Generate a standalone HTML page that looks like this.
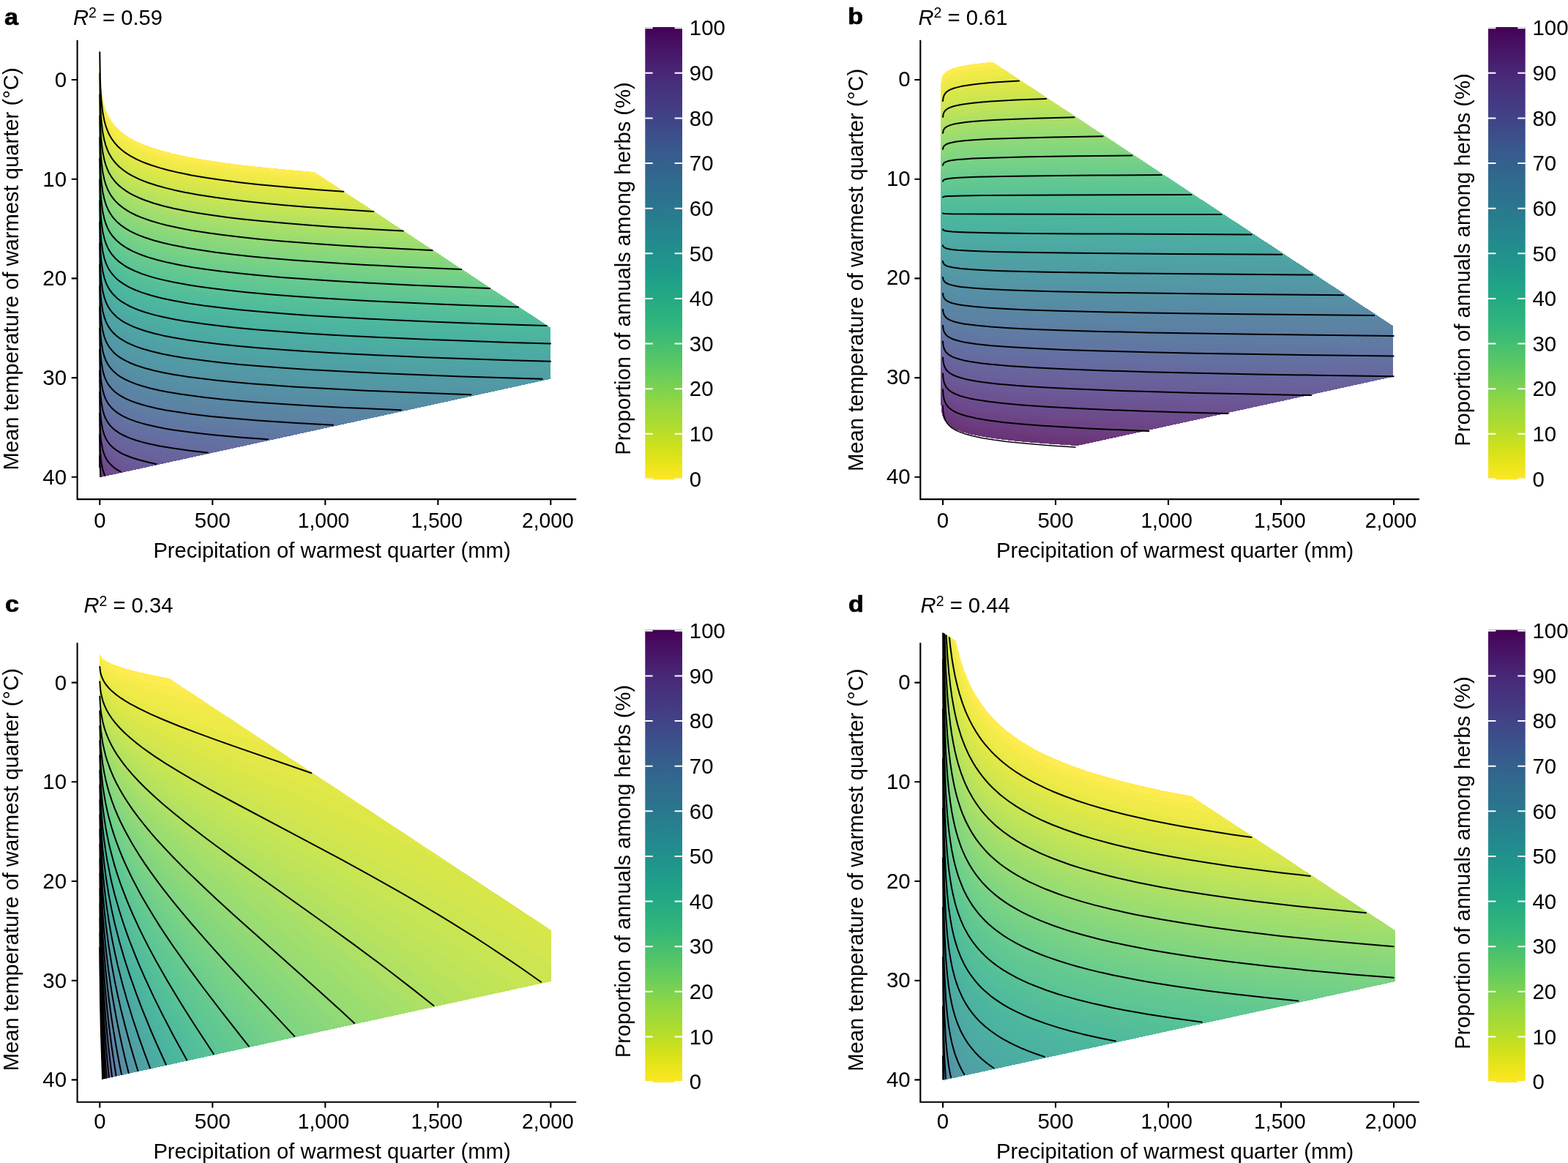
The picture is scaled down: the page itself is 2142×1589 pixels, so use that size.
<!DOCTYPE html>
<html lang="en">
<head>
<meta charset="utf-8">
<title>Proportion of annuals among herbs</title>
<style>
html,body{margin:0;padding:0;background:#fff}
body{width:2142px;height:1589px;overflow:hidden}
svg{display:block}
text{font-family:"Liberation Sans", Arial, Helvetica, sans-serif;fill:#000}
</style>
</head>
<body>
<svg xmlns="http://www.w3.org/2000/svg" width="2142" height="1589" viewBox="0 0 2142 1589">
<defs><linearGradient id="vg" x1="0" y1="0" x2="0" y2="1"><stop offset="0" stop-color="#440154"/><stop offset="0.03" stop-color="#470d60"/><stop offset="0.06" stop-color="#48186a"/><stop offset="0.09" stop-color="#482374"/><stop offset="0.12" stop-color="#472d7b"/><stop offset="0.16" stop-color="#453781"/><stop offset="0.19" stop-color="#424086"/><stop offset="0.22" stop-color="#3e4989"/><stop offset="0.25" stop-color="#3b528b"/><stop offset="0.28" stop-color="#375b8d"/><stop offset="0.31" stop-color="#33638d"/><stop offset="0.34" stop-color="#2f6b8e"/><stop offset="0.38" stop-color="#2c728e"/><stop offset="0.41" stop-color="#297a8e"/><stop offset="0.44" stop-color="#26828e"/><stop offset="0.47" stop-color="#23898e"/><stop offset="0.5" stop-color="#21918c"/><stop offset="0.53" stop-color="#1f988b"/><stop offset="0.56" stop-color="#1fa088"/><stop offset="0.59" stop-color="#22a785"/><stop offset="0.62" stop-color="#28ae80"/><stop offset="0.66" stop-color="#32b67a"/><stop offset="0.69" stop-color="#3fbc73"/><stop offset="0.72" stop-color="#4ec36b"/><stop offset="0.75" stop-color="#5ec962"/><stop offset="0.78" stop-color="#70cf57"/><stop offset="0.81" stop-color="#84d44b"/><stop offset="0.84" stop-color="#98d83e"/><stop offset="0.88" stop-color="#addc30"/><stop offset="0.91" stop-color="#c2df23"/><stop offset="0.94" stop-color="#d8e219"/><stop offset="0.97" stop-color="#ece51b"/><stop offset="1" stop-color="#fde725"/></linearGradient></defs>
<rect width="2142" height="1589" fill="#fff"/>
<g id="panel-a">
<g transform="translate(0,0.55)" shape-rendering="crispEdges">
<path d="M752.3 447.3L429.3 234.4L383.5 230.4L350.7 227.1L334.2 225.3L309.6 222.2L293.2 219.8L276.7 217.2L260.3 214.3L243.9 210.9L235.7 209L221.3 205.2L209 201.5L200.8 198.6L192.6 195.3L184.3 191.5L176.1 186.9L170 182.8L163.8 177.9L159.7 174L155.6 169.3L151.5 163.6L149.4 160.1L147.4 156.1L145.3 151.3L143.3 145.5L141.2 137.9L139.2 127.2L137.1 109.1L136.1 91.7L135.3 64.2L135.1 64.2L135.1 622.8L135.4 636.4L136.3 651.8L752.3 517.2Z" fill="#feec50"/>
<path d="M437.8 239.9L383.5 235.4L342.5 231.2L317.8 228.2L301.4 226L285 223.5L268.5 220.8L252.1 217.7L235.7 214L225.4 211.4L213.1 207.9L200.8 203.7L192.6 200.4L184.3 196.6L176.1 192.1L170 188L163.8 183.1L159.7 179.2L155.6 174.5L151.5 168.8L149.4 165.4L147.4 161.4L145.3 156.6L143.3 150.8L141.2 143.3L139.2 132.6L137.1 114.6L136.1 97.3L135.2 64.2L135.1 64.2L135.1 622.8L135.4 636.4L136.3 651.8L752.3 517.2L752.3 447.3Z" fill="#f8eb4c"/>
<path d="M446.2 245.5L416.4 243.2L383.5 240.3L342.5 236.1L317.8 233.2L301.4 231L285 228.5L268.5 225.8L252.1 222.7L235.7 219.1L225.4 216.5L213.1 212.9L200.8 208.8L192.6 205.5L184.3 201.7L176.1 197.2L170 193.2L163.8 188.3L159.7 184.4L155.6 179.8L151.5 174.1L149.4 170.6L147.4 166.7L145.3 161.9L143.3 156.1L141.2 148.6L139.2 138L137.1 120.1L136.1 102.9L135.1 64.2L135.1 622.8L135.4 636.4L136.3 651.8L752.3 517.2L752.3 447.3Z" fill="#f2ea49"/>
<path d="M454.6 251L399.9 246.7L350.7 242L326 239.2L309.6 237.1L285 233.5L268.5 230.8L252.1 227.7L235.7 224.1L225.4 221.5L213.1 218L200.8 213.9L192.6 210.6L184.3 206.8L176.1 202.4L170 198.3L163.8 193.5L159.7 189.6L155.6 185L151.5 179.3L149.4 175.9L147.4 171.9L145.3 167.3L143.3 161.5L141.2 154L139.2 143.5L137.1 125.6L136.1 108.5L135.7 97.3L135.1 64.2L135.1 622.8L135.4 636.4L136.3 651.8L752.3 517.2L752.3 447.3Z" fill="#eeea48"/>
<path d="M463 256.5L432.8 254.3L399.9 251.7L350.7 247L326 244.2L309.6 242.1L285 238.5L268.5 235.8L252.1 232.7L235.7 229.2L225.4 226.6L213.1 223.1L200.8 219L192.6 215.7L184.3 212L176.1 207.5L170 203.5L163.8 198.7L159.7 194.8L155.6 190.2L151.5 184.6L149.4 181.2L147.4 177.2L145.3 172.6L143.3 166.8L141.2 159.4L139.2 148.9L137.1 131.1L136.1 114L135.7 102.9L135.1 65.4L135.1 622.8L135.4 636.4L136.3 651.8L752.3 517.2L752.3 447.3Z" fill="#e8e946"/>
<path d="M471.3 262L416.4 258L367.1 253.6L342.5 251L317.8 248.1L293.2 244.8L276.7 242.2L260.3 239.4L243.9 236.1L227.5 232.2L217.2 229.4L204.9 225.5L192.6 220.8L184.3 217.1L176.1 212.6L170 208.7L163.8 203.8L159.7 200L155.6 195.4L151.5 189.8L149.4 186.4L147.4 182.5L145.3 177.9L143.3 172.1L141.2 164.7L139.2 154.3L137.1 136.6L136.1 119.6L135.7 108.6L135.1 71.2L135.1 622.8L135.4 636.4L136.3 651.8L752.3 517.2L752.3 447.3Z" fill="#e2e847"/>
<path d="M479.6 267.5L449.2 265.4L416.4 262.9L367.1 258.6L326 254.1L301.4 251L285 248.6L268.5 245.9L252.1 242.8L235.7 239.3L221.3 235.6L209 232L196.7 227.6L188.5 224.2L180.2 220.1L172 215.2L167.9 212.3L161.8 207.2L157.7 203.1L153.5 198L149.4 191.7L147.4 187.8L145.3 183.2L143.3 177.5L141.2 170.1L139.2 159.7L137.1 142.1L136.1 125.2L135.7 114.2L135.1 77L135.1 622.8L135.4 636.4L136.3 651.8L752.3 517.2L752.3 447.3Z" fill="#dde848"/>
<path d="M487.8 272.9L449.2 270.3L416.4 267.9L367.1 263.5L326 259.1L301.4 255.9L285 253.6L268.5 250.9L252.1 247.8L235.7 244.3L221.3 240.7L209 237L196.7 232.7L188.5 229.3L180.2 225.2L172 220.4L167.9 217.5L161.8 212.4L157.7 208.3L153.5 203.3L149.4 197L147.4 193.1L145.3 188.5L143.3 182.8L141.2 175.5L139.2 165.1L137.1 147.6L136.1 130.8L135.7 119.8L135.1 82.8L135.1 622.8L135.4 636.4L136.3 651.8L752.3 517.2L752.3 447.3Z" fill="#d7e74a"/>
<path d="M496 278.3L432.8 274.1L399.9 271.4L367.1 268.5L326 264.1L301.4 260.9L285 258.6L268.5 255.9L252.1 252.9L235.7 249.3L221.3 245.7L209 242.1L196.7 237.8L188.5 234.4L180.2 230.4L172 225.5L167.9 222.7L161.8 217.6L157.7 213.5L153.5 208.5L149.4 202.2L147.4 198.4L145.3 193.8L143.3 188.2L141.2 180.9L139.2 170.6L137.1 153.1L136.1 136.4L135.7 125.5L135.1 88.6L135.1 622.8L135.4 636.4L136.3 651.8L752.3 517.2L752.3 447.3Z" fill="#d3e64d"/>
<path d="M504.2 283.7L465.7 281.3L432.8 279L383.5 275L350.7 271.8L326 269.1L301.4 265.9L285 263.6L268.5 260.9L252.1 257.9L235.7 254.4L221.3 250.8L209 247.2L196.7 242.9L188.5 239.5L180.2 235.5L172 230.7L167.9 227.8L161.8 222.8L157.7 218.7L153.5 213.8L149.4 207.5L147.4 203.7L145.3 199.1L143.3 193.5L141.2 186.2L139.2 176L137.1 158.7L136.1 141.9L135.7 131.1L135.1 94.4L135.1 622.8L135.4 636.4L136.3 651.8L752.3 517.2L752.3 447.3Z" fill="#cce550"/>
<path d="M512.4 289.1L449.2 285.1L416.4 282.7L383.5 279.9L350.7 276.7L334.2 275L309.6 272L293.2 269.8L276.7 267.3L260.3 264.5L243.9 261.2L227.5 257.5L217.2 254.7L204.9 250.9L192.6 246.4L184.3 242.7L176.1 238.4L170 234.5L163.8 229.8L159.7 226L157.7 223.9L153.5 219L149.4 212.8L147.4 209L145.3 204.4L143.3 198.8L141.2 191.6L139.2 181.4L137.1 164.2L136.1 147.5L135.7 136.7L135.1 100.3L135.1 622.8L135.4 636.4L136.3 651.8L752.3 517.2L752.3 447.3Z" fill="#c8e553"/>
<path d="M520.5 294.5L482.1 292.2L449.2 290L399.9 286.3L350.7 281.7L326 279L301.4 275.9L276.7 272.3L260.3 269.5L243.9 266.3L227.5 262.5L217.2 259.8L204.9 256L192.6 251.5L184.3 247.8L176.1 243.5L170 239.6L163.8 235L159.7 231.2L157.7 229.1L153.5 224.2L149.4 218.1L147.4 214.2L145.3 209.7L143.3 204.2L141.2 197L139.2 186.8L137.1 169.7L136.1 153.1L135.7 142.3L135.1 106.1L135.1 622.8L135.4 636.4L136.3 651.8L752.3 517.2L752.3 447.3Z" fill="#c2e457"/>
<path d="M528.6 299.8L465.7 296.1L432.8 293.8L399.9 291.2L350.7 286.7L326 284L301.4 280.9L276.7 277.3L260.3 274.5L243.9 271.3L227.5 267.6L217.2 264.9L204.9 261.1L192.6 256.6L184.3 253L176.1 248.7L170 244.8L163.8 240.2L159.7 236.4L157.7 234.3L153.5 229.5L149.4 223.3L147.4 219.5L145.3 215L143.3 209.5L141.2 202.3L139.2 192.2L137.1 175.2L136.1 158.7L135.7 148L135.1 111.9L135.1 622.8L135.4 636.4L136.3 651.8L752.3 517.2L752.3 447.3Z" fill="#bde35a"/>
<path d="M536.7 305.2L465.7 301L432.8 298.7L399.9 296.2L350.7 291.6L326 289L301.4 285.9L276.7 282.3L260.3 279.5L243.9 276.4L227.5 272.6L217.2 269.9L204.9 266.2L192.6 261.7L184.3 258.1L176.1 253.8L170 250L163.8 245.3L157.7 239.6L153.5 234.7L149.4 228.6L147.4 224.8L145.3 220.3L143.3 214.8L141.2 207.7L139.2 197.6L137.1 180.7L136.1 164.3L135.7 153.6L135.1 117.7L135.1 622.8L135.4 636.4L136.3 651.8L752.3 517.2L752.3 447.3Z" fill="#b7e25e"/>
<path d="M544.8 310.5L498.5 307.9L465.7 305.9L432.8 303.6L399.9 301.1L350.7 296.6L326 293.9L301.4 290.9L276.7 287.3L260.3 284.6L243.9 281.4L227.5 277.7L217.2 275L204.9 271.3L192.6 266.8L184.3 263.2L176.1 259L170 255.1L163.8 250.5L157.7 244.8L153.5 239.9L149.4 233.9L147.4 230.1L145.3 225.6L143.3 220.2L141.2 213.1L139.2 203.1L137.1 186.2L136.1 169.8L135.7 159.2L135.1 123.5L135.1 622.8L135.4 636.4L136.3 651.8L752.3 517.2L752.3 447.3Z" fill="#b1e162"/>
<path d="M552.8 315.8L482.1 311.8L449.2 309.7L416.4 307.3L383.5 304.6L350.7 301.6L326 298.9L309.6 296.9L285 293.6L268.5 291L252.1 288.1L235.7 284.7L221.3 281.2L209 277.7L196.7 273.5L188.5 270.2L180.2 266.3L172 261.6L165.9 257.3L161.8 254L157.7 250L155.6 247.7L151.5 242.4L149.4 239.1L147.4 235.4L145.3 231L143.3 225.5L141.2 218.4L139.2 208.5L137.1 191.7L136.1 175.4L135.7 164.9L135.1 129.3L135.1 622.8L135.4 636.4L136.3 651.8L752.3 517.2L752.3 447.3Z" fill="#ade065"/>
<path d="M560.9 321.1L482.1 316.8L449.2 314.6L416.4 312.3L383.5 309.6L350.7 306.5L326 303.9L309.6 301.9L285 298.6L268.5 296L252.1 293.1L235.7 289.7L221.3 286.2L209 282.8L196.7 278.6L188.5 275.3L180.2 271.5L172 266.8L165.9 262.5L161.8 259.2L157.7 255.2L155.6 252.9L151.5 247.6L149.4 244.4L147.4 240.7L145.3 236.3L143.3 230.8L141.2 223.8L139.2 213.9L137.1 197.2L136.1 181L135.7 170.5L135.1 135.1L135.1 622.8L135.4 636.4L136.3 651.8L752.3 517.2L752.3 447.3Z" fill="#a6df69"/>
<path d="M568.9 326.4L498.5 322.6L432.8 318.4L399.9 315.9L367.1 313.1L342.5 310.6L317.8 307.9L293.2 304.7L276.7 302.3L260.3 299.6L243.9 296.5L227.5 292.8L213.1 289L200.8 285.2L188.5 280.4L180.2 276.6L172 272L165.9 267.7L161.8 264.4L157.7 260.4L155.6 258.2L151.5 252.9L149.4 249.7L147.4 246L145.3 241.6L143.3 236.2L141.2 229.2L139.2 219.3L137.1 202.7L136.1 186.6L135.7 176.1L135.1 140.9L135.1 622.8L135.4 636.4L136.3 651.8L752.3 517.2L752.3 447.3Z" fill="#a2de6b"/>
<path d="M576.9 331.6L498.5 327.6L432.8 323.3L399.9 320.9L367.1 318L342.5 315.6L317.8 312.9L293.2 309.7L276.7 307.3L260.3 304.6L243.9 301.5L227.5 297.9L213.1 294.1L200.8 290.3L188.5 285.5L180.2 281.7L172 277.1L165.9 272.9L161.8 269.6L157.7 265.6L155.6 263.4L151.5 258.1L149.4 254.9L147.4 251.2L145.3 246.9L143.3 241.5L141.2 234.5L139.2 224.7L137.1 208.2L136.1 192.2L135.7 181.8L135.1 146.7L135.1 622.8L135.4 636.4L136.3 651.8L752.3 517.2L752.3 447.3Z" fill="#9cdd6f"/>
<path d="M584.9 336.9L547.8 335.1L498.5 332.5L432.8 328.3L399.9 325.8L367.1 323L342.5 320.6L317.8 317.9L293.2 314.7L276.7 312.3L260.3 309.7L243.9 306.6L227.5 303L213.1 299.2L200.8 295.3L188.5 290.7L180.2 286.9L172 282.3L165.9 278.1L161.8 274.7L157.7 270.8L155.6 268.6L151.5 263.4L149.4 260.2L147.4 256.5L145.3 252.2L143.3 246.8L141.2 239.9L139.2 230.2L137.1 213.7L136.1 197.7L135.7 187.4L135.1 152.5L135.1 622.8L135.4 636.4L136.3 651.8L752.3 517.2L752.3 447.3Z" fill="#98dc72"/>
<path d="M592.8 342.1L514.9 338.3L465.7 335.4L432.8 333.2L383.5 329.4L350.7 326.4L326 323.8L301.4 320.8L285 318.6L260.3 314.7L243.9 311.6L227.5 308L217.2 305.4L204.9 301.8L192.6 297.4L184.3 294L176.1 289.8L172 287.4L167.9 284.7L161.8 279.9L157.7 276.1L155.6 273.8L151.5 268.6L149.4 265.5L147.4 261.8L145.3 257.5L143.3 252.2L141.2 245.3L139.2 235.6L137.1 219.2L136.1 203.3L135.7 193L135.1 158.3L135.1 622.8L135.4 636.4L136.3 651.8L752.3 517.2L752.3 447.3Z" fill="#92da75"/>
<path d="M600.8 347.4L514.9 343.2L449.2 339.2L416.4 336.9L383.5 334.3L350.7 331.3L326 328.8L301.4 325.8L285 323.6L260.3 319.7L243.9 316.6L227.5 313.1L217.2 310.5L204.9 306.9L192.6 302.6L184.3 299.1L176.1 295L172 292.6L167.9 289.9L161.8 285.1L157.7 281.3L155.6 279.1L151.5 273.9L149.4 270.7L147.4 267.1L145.3 262.8L143.3 257.5L141.2 250.7L139.2 241L137.1 224.7L136.1 208.9L135.7 198.7L135.1 164.1L135.1 622.8L135.4 636.4L136.3 651.8L752.3 517.2L752.3 447.3Z" fill="#8dd879"/>
<path d="M608.7 352.6L531.4 349L482.1 346.2L449.2 344.2L416.4 341.9L383.5 339.3L350.7 336.3L334.2 334.6L309.6 331.8L293.2 329.7L268.5 326.1L252.1 323.3L235.7 320L217.2 315.5L204.9 312L192.6 307.7L184.3 304.2L176.1 300.1L172 297.7L167.9 295.1L161.8 290.3L157.7 286.5L155.6 284.3L151.5 279.1L149.4 276L147.4 272.4L145.3 268.1L143.3 262.8L141.2 256L139.2 246.4L137.1 230.2L136.1 214.5L135.7 204.3L135.1 169.9L135.1 622.8L135.4 636.4L136.3 651.8L752.3 517.2L752.3 447.3Z" fill="#89d77b"/>
<path d="M616.6 357.8L531.4 353.9L482.1 351.1L449.2 349.1L416.4 346.8L383.5 344.2L350.7 341.3L334.2 339.6L309.6 336.8L293.2 334.7L268.5 331.1L252.1 328.3L235.7 325L217.2 320.6L204.9 317.1L192.6 312.8L184.3 309.3L176.1 305.3L172 302.9L167.9 300.2L161.8 295.5L157.7 291.7L155.6 289.5L151.5 284.4L149.4 281.3L147.4 277.7L145.3 273.4L143.3 268.2L141.2 261.4L139.2 251.8L137.1 235.7L136.1 220.1L135.7 209.9L135.1 175.7L135.1 622.8L135.4 636.4L136.3 651.8L752.3 517.2L752.3 447.3Z" fill="#84d67e"/>
<path d="M624.5 363L547.8 359.6L498.5 357L465.7 355.1L432.8 352.9L399.9 350.5L367.1 347.7L334.2 344.6L309.6 341.8L293.2 339.7L268.5 336.1L252.1 333.3L235.7 330.1L217.2 325.7L204.9 322.1L192.6 317.9L184.3 314.5L176.1 310.4L172 308.1L167.9 305.4L161.8 300.7L157.7 296.9L155.6 294.7L151.5 289.6L149.4 286.5L147.4 283L145.3 278.7L143.3 273.5L141.2 266.8L139.2 257.2L137.1 241.2L136.1 225.6L135.7 215.6L135.1 181.5L135.1 622.8L135.4 636.4L136.3 651.8L752.3 517.2L752.3 447.3Z" fill="#80d580"/>
<path d="M632.4 368.2L547.8 364.5L498.5 361.9L465.7 360L432.8 357.8L399.9 355.4L367.1 352.7L342.5 350.4L317.8 347.7L293.2 344.7L268.5 341.1L252.1 338.3L235.7 335.1L221.3 331.8L209 328.5L196.7 324.5L188.5 321.4L184.3 319.6L176.1 315.6L170 311.9L163.8 307.6L157.7 302.1L153.5 297.6L149.4 291.8L147.4 288.3L145.3 284L143.3 278.8L141.2 272.1L139.2 262.7L137.1 246.7L136.1 231.2L135.7 221.2L135.1 187.4L135.1 622.8L135.4 636.4L136.3 651.8L752.3 517.2L752.3 447.3Z" fill="#7bd383"/>
<path d="M640.2 373.4L547.8 369.4L498.5 366.8L465.7 364.9L432.8 362.8L399.9 360.4L367.1 357.7L342.5 355.3L317.8 352.7L293.2 349.7L268.5 346.1L252.1 343.4L235.7 340.2L221.3 336.9L209 333.5L196.7 329.6L184.3 324.7L176.1 320.7L170 317.1L163.8 312.8L157.7 307.4L153.5 302.8L149.4 297.1L147.4 293.5L145.3 289.3L143.3 284.2L141.2 277.5L139.2 268.1L137.1 252.2L136.1 236.8L135.7 226.8L135.1 193.2L135.1 622.8L135.4 636.4L136.3 651.8L752.3 517.2L752.3 447.3Z" fill="#78d285"/>
<path d="M648.1 378.6L597.1 376.5L547.8 374.3L498.5 371.7L465.7 369.8L432.8 367.7L399.9 365.3L367.1 362.6L342.5 360.3L317.8 357.7L293.2 354.7L268.5 351.2L252.1 348.4L235.7 345.2L221.3 341.9L209 338.6L196.7 334.7L184.3 329.8L176.1 325.9L170 322.3L163.8 318L157.7 312.6L153.5 308L149.4 302.3L147.4 298.8L145.3 294.7L143.3 289.5L141.2 282.9L139.2 273.5L137.1 257.7L136.1 242.4L135.7 232.5L135.1 199L135.1 622.8L135.4 636.4L136.3 651.8L752.3 517.2L752.3 447.3Z" fill="#73d088"/>
<path d="M655.9 383.8L564.2 379.9L482.1 375.7L416.4 371.5L383.5 369L350.7 366.1L326 363.6L301.4 360.7L276.7 357.4L260.3 354.8L243.9 351.9L225.4 348L209 343.7L196.7 339.8L184.3 335L176.1 331L170 327.4L163.8 323.2L157.7 317.8L153.5 313.3L149.4 307.6L147.4 304.1L145.3 300L143.3 294.9L141.2 288.2L139.2 278.9L137.1 263.2L136.1 248L135.7 238.1L135.1 204.8L135.1 622.8L135.4 636.4L136.3 651.8L752.3 517.2L752.3 447.3Z" fill="#6fce8a"/>
<path d="M663.8 388.9L564.2 384.8L482.1 380.6L416.4 376.4L383.5 373.9L350.7 371L326 368.6L301.4 365.7L276.7 362.4L260.3 359.9L243.9 356.9L225.4 353L209 348.8L196.7 344.9L184.3 340.1L176.1 336.1L170 332.6L163.8 328.3L157.7 323L153.5 318.5L149.4 312.9L147.4 309.4L145.3 305.3L143.3 300.2L141.2 293.6L139.2 284.3L137.1 268.7L136.1 253.5L135.7 243.7L135.1 210.6L135.1 622.8L135.4 636.4L136.3 651.8L752.3 517.2L752.3 447.3Z" fill="#6bcc8c"/>
<path d="M671.6 394.1L613.5 391.8L564.2 389.7L482.1 385.5L416.4 381.3L383.5 378.9L350.7 376L326 373.5L301.4 370.7L276.7 367.4L260.3 364.9L243.9 362L227.5 358.6L213.1 355L200.8 351.4L188.5 346.9L180.2 343.4L172 339L167.9 336.4L163.8 333.5L157.7 328.2L153.5 323.8L149.4 318.2L147.4 314.7L145.3 310.6L143.3 305.5L141.2 299L139.2 289.8L137.1 274.2L136.1 259.1L135.7 249.4L135.1 216.4L135.1 622.8L135.4 636.4L136.3 651.8L752.3 517.2L752.3 447.3Z" fill="#67ca8e"/>
<path d="M679.4 399.2L580.6 395.3L498.5 391.3L432.8 387.4L399.9 385.1L367.1 382.4L334.2 379.4L309.6 376.7L285 373.6L268.5 371.2L243.9 367L227.5 363.6L213.1 360.1L200.8 356.5L188.5 352.1L180.2 348.5L172 344.2L167.9 341.6L163.8 338.7L157.7 333.4L153.5 329L149.4 323.4L147.4 320L145.3 315.9L143.3 310.9L141.2 304.4L139.2 295.2L137.1 279.7L136.1 264.7L135.7 255L135.1 222.2L135.1 622.8L135.4 636.4L136.3 651.8L752.3 517.2L752.3 447.3Z" fill="#64c990"/>
<path d="M687.2 404.4L580.6 400.2L498.5 396.3L432.8 392.3L399.9 390L367.1 387.4L334.2 384.3L309.6 381.7L285 378.6L268.5 376.2L243.9 372L227.5 368.7L213.1 365.2L200.8 361.6L188.5 357.2L180.2 353.6L172 349.3L167.9 346.8L163.8 343.9L157.7 338.6L153.5 334.2L149.4 328.7L147.4 325.3L145.3 321.2L143.3 316.2L141.2 309.7L139.2 300.6L137.1 285.2L136.1 270.3L135.7 260.6L135.1 228L135.1 622.8L135.4 636.4L136.3 651.8L752.3 517.2L752.3 447.3Z" fill="#60c792"/>
<path d="M695 409.5L597.1 405.8L514.9 402L465.7 399.3L432.8 397.3L399.9 395L367.1 392.3L334.2 389.3L309.6 386.7L285 383.6L268.5 381.2L243.9 377.1L227.5 373.7L213.1 370.2L200.8 366.6L188.5 362.3L180.2 358.8L172 354.5L167.9 352L163.8 349.1L157.7 343.9L153.5 339.5L149.4 334L147.4 330.5L145.3 326.5L143.3 321.5L141.2 315.1L139.2 306L137.1 290.7L136.1 275.9L135.7 266.3L135.1 233.8L135.1 622.8L135.4 636.4L136.3 651.8L752.3 517.2L752.3 447.3Z" fill="#5dc693"/>
<path d="M702.7 414.6L597.1 410.7L514.9 406.9L465.7 404.2L432.8 402.2L399.9 399.9L367.1 397.3L334.2 394.3L309.6 391.6L285 388.6L268.5 386.3L243.9 382.1L227.5 378.8L213.1 375.3L200.8 371.7L188.5 367.4L180.2 363.9L172 359.6L167.9 357.1L163.8 354.3L157.7 349.1L153.5 344.7L149.4 339.2L147.4 335.8L145.3 331.8L143.3 326.9L141.2 320.5L139.2 311.4L137.1 296.2L136.1 281.4L135.7 271.9L135.1 239.6L135.1 622.8L135.4 636.4L136.3 651.8L752.3 517.2L752.3 447.3Z" fill="#5ac495"/>
<path d="M710.5 419.7L613.5 416.2L564.2 414.2L514.9 411.8L465.7 409.1L432.8 407.1L399.9 404.8L367.1 402.2L334.2 399.2L309.6 396.6L285 393.6L268.5 391.3L252.1 388.6L235.7 385.6L221.3 382.4L204.9 378.1L192.6 374.1L184.3 370.8L176.1 367L167.9 362.3L161.8 357.9L157.7 354.3L155.6 352.2L151.5 347.4L149.4 344.5L147.4 341.1L145.3 337.1L143.3 332.2L141.2 325.8L139.2 316.9L137.1 301.7L136.1 287L135.7 277.5L135.1 245.4L135.1 622.8L135.4 636.4L136.3 651.8L752.3 517.2L752.3 447.3Z" fill="#58c297"/>
<path d="M718.2 424.8L613.5 421.1L564.2 419.1L514.9 416.7L465.7 414.1L432.8 412L399.9 409.8L367.1 407.2L334.2 404.2L309.6 401.6L285 398.6L268.5 396.3L252.1 393.7L235.7 390.6L221.3 387.5L204.9 383.2L192.6 379.2L184.3 376L176.1 372.2L167.9 367.5L161.8 363.1L157.7 359.5L155.6 357.5L151.5 352.7L149.4 349.8L147.4 346.4L145.3 342.4L143.3 337.5L141.2 331.2L139.2 322.3L137.1 307.2L136.1 292.6L135.7 283.2L135.1 251.2L135.1 622.8L135.4 636.4L136.3 651.8L752.3 517.2L752.3 447.3Z" fill="#55c098"/>
<path d="M726 430L629.9 426.6L580.6 424.7L531.4 422.4L482.1 419.9L449.2 418L416.4 415.9L383.5 413.5L350.7 410.7L326 408.4L301.4 405.7L276.7 402.5L252.1 398.7L235.7 395.7L221.3 392.5L204.9 388.3L192.6 384.3L184.3 381.1L176.1 377.3L167.9 372.6L161.8 368.3L157.7 364.7L155.6 362.7L151.5 357.9L149.4 355L147.4 351.7L145.3 347.7L143.3 342.9L141.2 336.6L139.2 327.7L137.1 312.7L136.1 298.2L135.7 288.8L135.1 257L135.1 622.8L135.4 636.4L136.3 651.8L752.3 517.2L752.3 447.3Z" fill="#53be99"/>
<path d="M733.7 435L629.9 431.5L580.6 429.5L531.4 427.3L482.1 424.8L449.2 422.9L416.4 420.8L383.5 418.4L350.7 415.7L326 413.3L301.4 410.6L276.7 407.5L252.1 403.7L235.7 400.7L221.3 397.6L204.9 393.3L192.6 389.4L184.3 386.2L176.1 382.5L167.9 377.8L161.8 373.5L157.7 369.9L155.6 367.9L151.5 363.2L149.4 360.3L147.4 357L145.3 353L143.3 348.2L141.2 341.9L139.2 333.1L137.1 318.2L136.1 303.8L135.7 294.4L135.1 262.8L135.1 622.8L135.4 636.4L136.3 651.8L752.3 517.2L752.3 447.3Z" fill="#51bc9b"/>
<path d="M741.4 440.1L629.9 436.4L531.4 432.2L482.1 429.7L449.2 427.8L416.4 425.7L383.5 423.4L350.7 420.7L326 418.3L301.4 415.6L276.7 412.5L252.1 408.7L235.7 405.7L221.3 402.7L204.9 398.4L192.6 394.5L184.3 391.3L176.1 387.6L167.9 383L161.8 378.7L157.7 375.2L155.6 373.1L151.5 368.4L149.4 365.6L147.4 362.3L145.3 358.4L143.3 353.5L141.2 347.3L139.2 338.5L137.1 323.7L136.1 309.4L135.7 300L135.1 268.6L135.1 622.8L135.4 636.4L136.3 651.8L752.3 517.2L752.3 447.3Z" fill="#4fba9c"/>
<path d="M749.2 445.2L629.9 441.3L531.4 437.1L482.1 434.6L449.2 432.8L416.4 430.7L383.5 428.3L350.7 425.6L326 423.3L301.4 420.6L276.7 417.5L252.1 413.8L235.7 410.8L221.3 407.7L209 404.7L196.7 401L188.5 398.1L180.2 394.7L176.1 392.8L170 389.4L163.8 385.4L157.7 380.4L153.5 376.2L151.5 373.7L149.4 370.8L147.4 367.6L145.3 363.7L143.3 358.9L141.2 352.7L139.2 343.9L137.1 329.2L136.1 314.9L135.7 305.7L135.1 274.5L135.1 622.8L135.4 636.4L136.3 651.8L752.3 517.2L752.3 447.3Z" fill="#4eb99d"/>
<path d="M135.1 622.8L135.4 636.4L136.3 651.8L752.3 517.2L752.3 450.1L646.3 446.7L547.8 442.8L465.7 438.6L416.4 435.6L383.5 433.3L350.7 430.6L326 428.3L301.4 425.6L276.7 422.5L252.1 418.8L235.7 415.8L221.3 412.8L209 409.7L196.7 406.1L188.5 403.2L180.2 399.8L176.1 397.9L170 394.6L163.8 390.6L157.7 385.6L153.5 381.4L151.5 378.9L149.4 376.1L147.4 372.8L145.3 369L143.3 364.2L141.2 358.1L139.2 349.4L137.1 334.7L136.1 320.5L135.7 311.3L135.1 280.3Z" fill="#4db69e"/>
<path d="M135.1 622.8L135.4 636.4L136.3 651.8L752.3 517.2L752.3 455L646.3 451.6L547.8 447.7L465.7 443.6L416.4 440.6L383.5 438.2L350.7 435.5L326 433.2L301.4 430.6L276.7 427.5L252.1 423.8L235.7 420.9L221.3 417.9L209 414.8L196.7 411.2L188.5 408.3L180.2 405L176.1 403L170 399.7L163.8 395.8L157.7 390.8L153.5 386.6L151.5 384.2L149.4 381.4L147.4 378.1L145.3 374.3L143.3 369.5L141.2 363.4L139.2 354.8L137.1 340.2L136.1 326.1L135.7 316.9L135.1 286.1Z" fill="#4cb59f"/>
<path d="M135.1 622.8L135.4 636.4L136.3 651.8L752.3 517.2L752.3 459.8L646.3 456.5L547.8 452.6L465.7 448.5L416.4 445.5L383.5 443.2L350.7 440.5L326 438.2L301.4 435.6L276.7 432.5L252.1 428.9L235.7 425.9L221.3 422.9L209 419.9L196.7 416.3L188.5 413.4L180.2 410.1L176.1 408.2L170 404.9L163.8 401L157.7 396L153.5 391.9L151.5 389.4L149.4 386.6L147.4 383.4L145.3 379.6L143.3 374.9L141.2 368.8L139.2 360.2L137.1 345.7L136.1 331.7L135.7 322.6L135.1 291.9Z" fill="#4cb3a0"/>
<path d="M135.1 622.8L135.4 636.4L136.3 651.8L752.3 517.2L752.3 464.7L646.3 461.3L547.8 457.5L465.7 453.4L416.4 450.4L383.5 448.1L350.7 445.5L326 443.2L301.4 440.6L276.7 437.5L252.1 433.9L235.7 431L221.3 428L209 425L196.7 421.4L188.5 418.6L180.2 415.2L176.1 413.3L170 410.1L163.8 406.1L157.7 401.2L153.5 397.1L151.5 394.7L149.4 391.9L147.4 388.7L145.3 384.9L143.3 380.2L141.2 374.2L139.2 365.6L137.1 351.2L136.1 337.3L135.7 328.2L135.1 297.7Z" fill="#4bb1a0"/>
<path d="M135.1 622.8L135.4 636.4L136.3 651.8L752.3 517.2L752.3 469.5L646.3 466.2L547.8 462.4L465.7 458.3L416.4 455.4L383.5 453.1L350.7 450.4L326 448.2L301.4 445.6L276.7 442.5L252.1 438.9L235.7 436L221.3 433L209 430.1L196.7 426.5L188.5 423.7L180.2 420.4L176.1 418.5L170 415.2L163.8 411.3L157.7 406.4L153.5 402.3L151.5 399.9L149.4 397.2L147.4 394L145.3 390.2L143.3 385.5L141.2 379.5L139.2 371L137.1 356.7L136.1 342.8L135.7 333.8L135.1 303.5Z" fill="#4bafa1"/>
<path d="M135.1 622.8L135.4 636.4L136.3 651.8L752.3 517.2L752.3 474.4L646.3 471.1L547.8 467.2L465.7 463.2L416.4 460.3L383.5 458L350.7 455.4L326 453.1L301.4 450.6L276.7 447.6L252.1 443.9L235.7 441.1L221.3 438.1L209 435.1L196.7 431.6L188.5 428.8L180.2 425.5L176.1 423.6L170 420.4L163.8 416.5L157.7 411.7L153.5 407.6L151.5 405.2L149.4 402.4L147.4 399.3L145.3 395.5L143.3 390.9L141.2 384.9L139.2 376.5L137.1 362.2L136.1 348.4L135.7 339.5L135.1 309.3Z" fill="#4cada2"/>
<path d="M135.1 622.8L135.4 636.4L136.3 651.8L752.3 517.2L752.3 479.3L646.3 476L547.8 472.1L465.7 468.1L416.4 465.2L383.5 463L350.7 460.4L326 458.1L301.4 455.6L276.7 452.6L252.1 449L235.7 446.1L221.3 443.2L209 440.2L196.7 436.7L188.5 433.9L180.2 430.6L176.1 428.8L170 425.6L163.8 421.7L157.7 416.9L153.5 412.8L151.5 410.4L149.4 407.7L147.4 404.6L145.3 400.8L143.3 396.2L141.2 390.3L139.2 381.9L137.1 367.7L136.1 354L135.7 345.1L135.1 315.1Z" fill="#4caba2"/>
<path d="M135.1 622.8L135.4 636.4L136.3 651.8L752.3 517.2L752.3 484.1L646.3 480.8L547.8 477L465.7 473.1L416.4 470.2L383.5 467.9L350.7 465.3L326 463.1L301.4 460.5L276.7 457.6L252.1 454L235.7 451.2L221.3 448.2L209 445.3L196.7 441.8L188.5 439L180.2 435.8L176.1 433.9L170 430.7L163.8 426.9L157.7 422.1L153.5 418.1L151.5 415.7L149.4 413L147.4 409.8L145.3 406.1L143.3 401.6L141.2 395.6L139.2 387.3L137.1 373.2L136.1 359.6L135.7 350.7L135.1 320.9Z" fill="#4ca9a3"/>
<path d="M135.1 622.8L135.4 636.4L136.3 651.8L752.3 517.2L752.3 489L646.3 485.7L547.8 481.9L465.7 478L416.4 475.1L383.5 472.9L350.7 470.3L326 468.1L301.4 465.5L276.7 462.6L252.1 459L235.7 456.2L221.3 453.3L209 450.4L196.7 446.9L188.5 444.1L180.2 440.9L176.1 439.1L170 435.9L163.8 432.1L157.7 427.3L153.5 423.3L151.5 420.9L149.4 418.2L147.4 415.1L145.3 411.4L143.3 406.9L141.2 401L139.2 392.7L137.1 378.7L136.1 365.2L135.7 356.4L135.1 326.7Z" fill="#4da7a3"/>
<path d="M135.1 622.8L135.4 636.4L136.3 651.8L752.3 517.2L752.3 493.8L646.3 490.6L547.8 486.8L465.7 482.9L416.4 480L383.5 477.8L350.7 475.2L326 473L301.4 470.5L276.7 467.6L252.1 464.1L235.7 461.2L221.3 458.4L209 455.5L196.7 452L188.5 449.3L180.2 446.1L176.1 444.2L170 441.1L163.8 437.3L157.7 432.5L153.5 428.5L151.5 426.2L149.4 423.5L147.4 420.4L145.3 416.7L143.3 412.2L141.2 406.4L139.2 398.1L137.1 384.2L136.1 370.7L135.7 362L135.1 332.5Z" fill="#4ea5a4"/>
<path d="M135.1 622.8L135.4 636.4L136.3 651.8L752.3 517.2L752.3 498.7L646.3 495.4L547.8 491.7L465.7 487.8L416.4 485L383.5 482.7L350.7 480.2L326 478L301.4 475.5L276.7 472.6L252.1 469.1L235.7 466.3L221.3 463.4L209 460.5L196.7 457.1L188.5 454.4L180.2 451.2L176.1 449.4L170 446.2L163.8 442.5L157.7 437.7L153.5 433.8L151.5 431.4L149.4 428.8L147.4 425.7L145.3 422.1L143.3 417.6L141.2 411.7L139.2 403.5L137.1 389.7L136.1 376.3L135.7 367.6L135.1 338.3Z" fill="#4ea4a4"/>
<path d="M135.1 622.8L135.4 636.4L136.3 651.8L752.3 517.2L752.3 503.5L646.3 500.3L547.8 496.6L465.7 492.7L416.4 489.9L383.5 487.7L350.7 485.2L326 483L301.4 480.5L276.7 477.6L252.1 474.1L235.7 471.3L221.3 468.5L209 465.6L196.7 462.2L188.5 459.5L180.2 456.3L176.1 454.5L170 451.4L163.8 447.6L157.7 442.9L153.5 439L151.5 436.7L149.4 434.1L147.4 431L145.3 427.4L143.3 422.9L141.2 417.1L139.2 409L137.1 395.2L136.1 381.9L135.7 373.3L135.1 344.1Z" fill="#4fa1a4"/>
<path d="M135.1 622.8L135.4 636.4L136.3 651.8L752.3 517.2L752.3 508.4L646.3 505.2L547.8 501.5L465.7 497.7L416.4 494.8L383.5 492.6L350.7 490.1L326 488L301.4 485.5L276.7 482.6L252.1 479.1L235.7 476.4L221.3 473.5L209 470.7L196.7 467.3L188.5 464.6L180.2 461.5L176.1 459.6L170 456.6L163.8 452.8L157.7 448.2L153.5 444.3L151.5 441.9L149.4 439.3L147.4 436.3L145.3 432.7L143.3 428.2L141.2 422.5L139.2 414.4L137.1 400.7L136.1 387.5L135.7 378.9L135.1 349.9Z" fill="#4fa0a4"/>
<path d="M135.1 622.8L135.4 636.4L136.3 651.8L752.3 517.2L752.3 513.2L646.3 510.1L547.8 506.4L465.7 502.6L416.4 499.8L383.5 497.6L350.7 495.1L326 492.9L301.4 490.5L276.7 487.6L252.1 484.2L235.7 481.4L221.3 478.6L209 475.8L196.7 472.4L188.5 469.7L180.2 466.6L176.1 464.8L170 461.7L163.8 458L157.7 453.4L153.5 449.5L151.5 447.2L149.4 444.6L147.4 441.6L145.3 438L143.3 433.6L141.2 427.9L139.2 419.8L137.1 406.2L136.1 393.1L135.7 384.5L135.1 355.7Z" fill="#509ea4"/>
<path d="M135.1 622.8L135.4 636.4L136.3 651.8L748.6 518L629.9 514.4L531.4 510.6L449.2 506.6L416.4 504.7L383.5 502.5L350.7 500.1L326 497.9L301.4 495.5L276.7 492.6L252.1 489.2L235.7 486.5L221.3 483.7L209 480.8L196.7 477.5L188.5 474.8L180.2 471.7L176.1 469.9L170 466.9L163.8 463.2L157.7 458.6L153.5 454.7L151.5 452.5L149.4 449.9L147.4 446.9L145.3 443.3L143.3 438.9L141.2 433.2L139.2 425.2L137.1 411.7L136.1 398.6L135.7 390.2L135.1 361.5Z" fill="#519ba5"/>
<path d="M135.1 622.8L135.4 636.4L136.3 651.8L728.8 522.3L629.9 519.3L531.4 515.5L449.2 511.5L416.4 509.6L383.5 507.5L350.7 505L326 502.9L301.4 500.5L276.7 497.6L252.1 494.2L235.7 491.5L221.3 488.7L204.9 484.9L192.6 481.3L184.3 478.5L176.1 475.1L167.9 470.9L161.8 467L157.7 463.8L155.6 462L151.5 457.7L149.4 455.1L147.4 452.1L145.3 448.6L143.3 444.2L141.2 438.6L139.2 430.6L137.1 417.2L136.1 404.2L135.7 395.8L135.1 367.4Z" fill="#529aa5"/>
<path d="M135.1 622.8L135.4 636.4L136.3 651.8L709.2 526.6L613.5 523.6L514.9 519.7L465.7 517.3L432.8 515.5L399.9 513.5L367.1 511.2L334.2 508.6L309.6 506.3L285 503.6L268.5 501.6L252.1 499.3L235.7 496.6L221.3 493.8L204.9 490L192.6 486.4L184.3 483.6L176.1 480.2L167.9 476.1L161.8 472.2L155.6 467.2L151.5 463L149.4 460.4L147.4 457.4L145.3 453.9L143.3 449.6L141.2 444L139.2 436.1L137.1 422.7L136.1 409.8L135.7 401.4L135.1 373.2Z" fill="#5398a5"/>
<path d="M135.1 622.8L135.4 636.4L136.3 651.8L689.6 530.9L580.6 527.3L498.5 523.8L432.8 520.5L399.9 518.5L367.1 516.2L334.2 513.6L309.6 511.3L285 508.6L268.5 506.6L243.9 503L227.5 500.1L213.1 497.1L200.8 494L188.5 490.2L180.2 487.1L172 483.4L167.9 481.2L163.8 478.8L157.7 474.2L153.5 470.4L149.4 465.7L147.4 462.7L145.3 459.2L143.3 454.9L141.2 449.3L139.2 441.5L137.1 428.2L136.1 415.4L135.7 407.1L135.1 379Z" fill="#5396a5"/>
<path d="M135.1 622.8L135.4 636.4L136.3 651.8L670 535.2L564.2 531.5L482.1 528L416.4 524.4L383.5 522.3L350.7 519.9L326 517.8L301.4 515.4L276.7 512.7L260.3 510.5L243.9 508L227.5 505.1L213.1 502.1L200.8 499.1L188.5 495.3L180.2 492.3L172 488.6L167.9 486.4L163.8 483.9L157.7 479.5L153.5 475.7L149.4 470.9L147.4 468L145.3 464.5L143.3 460.2L141.2 454.7L139.2 446.9L137.1 433.7L136.1 421L135.7 412.7L135.1 384.8Z" fill="#5494a5"/>
<path d="M135.1 622.8L135.4 636.4L136.3 651.8L650.5 539.4L564.2 536.4L482.1 532.9L416.4 529.4L383.5 527.3L350.7 524.9L326 522.8L301.4 520.4L276.7 517.7L260.3 515.5L243.9 513.1L225.4 509.8L209 506.2L196.7 503L184.3 499L176.1 495.7L170 492.7L163.8 489.1L157.7 484.7L153.5 480.9L149.4 476.2L147.4 473.3L145.3 469.8L143.3 465.6L141.2 460.1L139.2 452.3L137.1 439.2L136.1 426.5L135.7 418.3L135.1 390.6Z" fill="#5592a5"/>
<path d="M135.1 622.8L135.4 636.4L136.3 651.8L631.1 543.7L547.8 540.7L465.7 537L399.9 533.3L367.1 531.1L342.5 529.2L317.8 527L293.2 524.6L268.5 521.6L252.1 519.4L235.7 516.7L221.3 514L209 511.3L196.7 508.1L184.3 504.1L176.1 500.8L170 497.9L163.8 494.3L157.7 489.9L153.5 486.2L149.4 481.5L147.4 478.6L145.3 475.1L143.3 470.9L141.2 465.4L139.2 457.7L137.1 444.7L136.1 432.1L135.7 424L135.1 396.4Z" fill="#5690a5"/>
<path d="M135.1 622.8L135.4 636.4L136.3 651.8L611.8 547.9L531.4 544.9L449.2 541.1L383.5 537.2L334.2 533.5L293.2 529.5L268.5 526.7L252.1 524.4L235.7 521.8L217.2 518.2L204.9 515.4L192.6 512L184.3 509.2L176.1 506L167.9 501.9L161.8 498.2L155.6 493.3L151.5 489.2L149.4 486.7L147.4 483.9L145.3 480.4L143.3 476.2L141.2 470.8L139.2 463.1L137.1 450.2L136.1 437.7L135.7 429.6L135.1 402.2Z" fill="#568fa5"/>
<path d="M135.1 622.8L135.4 636.4L136.3 651.8L592.5 552.1L514.9 549.1L465.7 546.8L432.8 545.1L383.5 542.1L350.7 539.8L326 537.7L301.4 535.4L285 533.6L260.3 530.6L243.9 528.2L227.5 525.4L217.2 523.3L204.9 520.5L192.6 517.1L184.3 514.4L176.1 511.1L167.9 507.1L161.8 503.4L155.6 498.6L151.5 494.5L147.4 489.1L145.3 485.8L143.3 481.6L141.2 476.2L139.2 468.6L137.1 455.7L136.1 443.3L135.7 435.2L135.1 408Z" fill="#578ca5"/>
<path d="M135.1 622.8L135.4 636.4L136.3 651.8L573.3 556.3L498.5 553.3L432.8 550L399.9 548.1L367.1 545.9L342.5 544.1L317.8 542L293.2 539.5L276.7 537.7L260.3 535.6L243.9 533.2L227.5 530.4L213.1 527.5L200.8 524.5L188.5 520.9L180.2 517.9L172 514.4L165.9 511.1L161.8 508.5L155.6 503.8L151.5 499.7L147.4 494.4L145.3 491.1L143.3 486.9L141.2 481.6L139.2 474L137.1 461.2L136.1 448.9L135.7 440.9L135.1 413.8Z" fill="#588aa5"/>
<path d="M135.1 622.8L135.4 636.4L136.3 651.8L554.2 560.5L482.1 557.4L416.4 554L383.5 552L350.7 549.7L309.6 546.2L285 543.6L268.5 541.7L252.1 539.5L235.7 536.9L221.3 534.3L209 531.6L196.7 528.5L188.5 526L180.2 523.1L172 519.5L165.9 516.3L161.8 513.7L155.6 509L151.5 505L147.4 499.7L145.3 496.4L143.3 492.3L141.2 486.9L139.2 479.4L137.1 466.7L136.1 454.4L135.7 446.5L135.1 419.6Z" fill="#5988a5"/>
<path d="M135.1 622.8L135.4 636.4L136.3 651.8L535.2 564.6L465.7 561.6L399.9 558L350.7 554.6L326 552.6L301.4 550.4L276.7 547.7L260.3 545.6L243.9 543.3L227.5 540.5L217.2 538.5L204.9 535.7L192.6 532.4L184.3 529.7L176.1 526.5L170 523.7L163.8 520.3L157.7 516L153.5 512.4L149.4 507.8L147.4 505L145.3 501.7L143.3 497.6L141.2 492.3L139.2 484.8L137.1 472.2L136.1 460L135.7 452.1L135.1 425.4Z" fill="#5a86a4"/>
<path d="M135.1 622.8L135.4 636.4L136.3 651.8L516.3 568.8L449.2 565.7L383.5 561.9L334.2 558.3L293.2 554.5L260.3 550.7L243.9 548.3L227.5 545.6L217.2 543.6L204.9 540.8L192.6 537.5L184.3 534.9L176.1 531.7L170 528.9L163.8 525.4L157.7 521.2L153.5 517.6L149.4 513.1L147.4 510.3L145.3 507L143.3 502.9L141.2 497.7L139.2 490.2L137.1 477.7L136.1 465.6L135.7 457.7L135.1 431.2Z" fill="#5b84a4"/>
<path d="M135.1 622.8L135.4 636.4L136.3 651.8L497.5 572.9L432.8 569.7L383.5 566.8L350.7 564.6L326 562.6L301.4 560.3L285 558.6L268.5 556.7L252.1 554.6L235.7 552.1L221.3 549.5L209 546.9L196.7 543.8L188.5 541.3L180.2 538.5L172 535L167.9 533L161.8 529.3L157.7 526.4L153.5 522.8L149.4 518.3L147.4 515.6L145.3 512.3L143.3 508.3L141.2 503L139.2 495.7L137.1 483.2L136.1 471.2L135.7 463.4L135.1 437Z" fill="#5c82a4"/>
<path d="M135.1 622.8L135.4 636.4L136.3 651.8L478.9 576.9L416.4 573.8L367.1 570.7L326 567.6L285 563.6L268.5 561.8L252.1 559.6L235.7 557.1L221.3 554.5L209 552L196.7 548.9L188.5 546.5L180.2 543.6L172 540.2L167.9 538.1L161.8 534.5L157.7 531.6L153.5 528.1L149.4 523.6L147.4 520.9L145.3 517.6L143.3 513.6L141.2 508.4L139.2 501.1L137.1 488.7L136.1 476.8L135.7 469L135.1 442.8Z" fill="#5c80a4"/>
<path d="M135.1 622.8L135.4 636.4L136.3 651.8L460.4 581L399.9 577.8L350.7 574.5L309.6 571.1L285 568.7L268.5 566.8L252.1 564.6L235.7 562.1L225.4 560.4L213.1 557.9L200.8 555.1L192.6 552.8L184.3 550.2L176.1 547.1L170 544.3L163.8 541L159.7 538.3L155.6 535.2L151.5 531.2L149.4 528.9L147.4 526.2L145.3 522.9L143.3 518.9L141.2 513.8L139.2 506.5L137.1 494.2L136.1 482.3L135.7 474.6L135.1 448.6Z" fill="#5e7ea4"/>
<path d="M135.1 622.8L135.4 636.4L136.3 651.8L442 585L383.5 581.7L342.5 578.8L301.4 575.3L268.5 571.8L252.1 569.7L235.7 567.2L225.4 565.4L213.1 563L200.8 560.2L192.6 557.9L184.3 555.4L176.1 552.3L170 549.5L163.8 546.2L159.7 543.5L155.6 540.4L151.5 536.5L149.4 534.2L147.4 531.4L145.3 528.2L143.3 524.3L141.2 519.1L139.2 511.9L137.1 499.7L136.1 487.9L135.7 480.3L135.1 454.5Z" fill="#5f7ca3"/>
<path d="M135.1 622.8L135.4 636.4L136.3 651.8L423.8 589L383.5 586.6L334.2 583.2L293.2 579.5L260.3 575.8L235.7 572.2L221.3 569.7L209 567.2L196.7 564.2L188.5 561.8L180.2 559L172 555.6L165.9 552.6L159.7 548.7L155.6 545.6L151.5 541.7L147.4 536.7L145.3 533.5L143.3 529.6L141.2 524.5L139.2 517.3L137.1 505.2L136.6 500.3L135.7 485.9L135.1 460.3Z" fill="#5f7aa3"/>
<path d="M135.1 622.8L135.4 636.4L136.3 651.8L405.8 592.9L367.1 590.5L317.8 586.8L285 583.7L268.5 581.8L252.1 579.7L235.7 577.3L225.4 575.5L213.1 573.2L200.8 570.3L192.6 568.2L184.3 565.6L176.1 562.6L170 559.8L163.8 556.6L159.7 553.9L155.6 550.8L151.5 547L147.4 542L145.3 538.8L143.3 534.9L141.2 529.9L139.2 522.8L137.1 510.7L136.6 505.8L135.7 491.5L135.1 466.1Z" fill="#6177a3"/>
<path d="M135.1 622.8L135.4 636.4L136.3 651.8L388 596.8L350.7 594.3L309.6 591L276.7 587.8L260.3 585.8L243.9 583.6L227.5 581L217.2 579.1L204.9 576.4L196.7 574.4L188.5 572L180.2 569.3L172 566L167.9 564L163.8 561.8L159.7 559.2L155.6 556.1L151.5 552.2L147.4 547.3L145.3 544.1L143.3 540.3L141.2 535.2L139.2 528.2L137.1 516.2L136.6 511.4L135.7 497.2L135.1 471.9Z" fill="#6176a2"/>
<path d="M135.1 622.8L135.4 636.4L136.3 651.8L370.4 600.6L326 597.4L293.2 594.5L260.3 590.8L235.7 587.4L225.4 585.7L213.1 583.3L196.7 579.5L188.5 577.2L180.2 574.4L172 571.1L167.9 569.2L163.8 566.9L159.7 564.4L155.6 561.3L151.5 557.5L147.4 552.6L145.3 549.5L143.3 545.6L141.2 540.6L139.2 533.6L137.1 521.7L136.6 516.9L135.7 502.8L135.1 477.7Z" fill="#6373a2"/>
<path d="M135.1 622.8L135.4 636.4L136.3 651.8L353.1 604.4L317.8 601.7L285 598.7L268.5 596.9L252.1 594.8L227.5 591.1L209 587.5L200.8 585.6L192.6 583.5L184.3 581L176.1 578L170 575.3L165.9 573.3L159.7 569.6L155.6 566.5L151.5 562.8L149.4 560.5L147.4 557.9L145.3 554.8L143.3 550.9L141.2 546L139.2 539L137.1 527.2L136.6 522.5L135.7 508.4L135.1 483.5Z" fill="#6371a2"/>
<path d="M135.1 622.8L135.4 636.4L136.3 651.8L336 608.2L301.4 605.3L268.5 601.9L243.9 598.7L221.3 595L204.9 591.7L196.7 589.7L188.5 587.4L180.2 584.7L176.1 583.1L170 580.5L163.8 577.3L159.7 574.8L155.6 571.7L151.5 568L149.4 565.8L147.4 563.2L145.3 560.1L143.3 556.3L141.2 551.4L139.2 544.4L137.1 532.7L136.6 528L135.7 514.1L135.1 489.3Z" fill="#656fa1"/>
<path d="M135.1 622.8L135.4 636.4L136.3 651.8L319.3 611.8L285 608.7L260.3 605.9L235.7 602.5L217.2 599.3L200.8 595.8L192.6 593.7L184.3 591.2L176.1 588.3L172 586.6L165.9 583.6L161.8 581.3L155.6 577L151.5 573.3L149.4 571L147.4 568.4L145.3 565.4L143.3 561.6L141.2 556.7L139.2 549.8L137.1 538.2L136.6 533.5L135.7 519.7L135.1 495.1Z" fill="#656da0"/>
<path d="M135.1 622.8L135.4 636.4L136.3 651.8L303 615.4L276.7 612.8L252.1 609.9L227.5 606.2L209 602.8L200.8 600.9L192.6 598.8L180.2 595L172 591.7L167.9 589.9L163.8 587.7L159.7 585.2L155.6 582.2L153.5 580.5L149.4 576.3L147.4 573.7L145.3 570.7L143.3 566.9L141.2 562.1L139.2 555.3L137.1 543.7L136.1 532.6L135.4 516.8L135.1 500.9Z" fill="#666a9f"/>
<path d="M135.1 622.8L135.4 636.4L136.3 651.8L287 618.9L260.3 615.9L235.7 612.6L217.2 609.5L200.8 606L188.5 602.7L180.2 600.1L176.1 598.6L170 596L165.9 594L161.8 591.7L157.7 589L153.5 585.7L151.5 583.8L147.4 579L145.3 576L143.3 572.3L141.2 567.5L139.2 560.7L137.1 549.2L136.1 538.2L135.4 522.5L135.1 506.7Z" fill="#67679e"/>
<path d="M135.1 622.8L135.4 636.4L136.3 651.8L271.5 622.3L252.1 619.9L227.5 616.3L209 612.9L196.7 610.1L184.3 606.6L176.1 603.7L172 602.1L163.8 598.1L159.7 595.6L155.6 592.6L151.5 589L149.4 586.8L147.4 584.3L145.3 581.3L143.3 577.6L141.2 572.8L139.2 566.1L137.1 554.7L136.1 543.7L135.4 528.2L135.1 512.5Z" fill="#68659e"/>
<path d="M135.1 622.8L135.4 636.4L136.3 651.8L256.6 625.5L235.7 622.7L217.2 619.6L200.8 616.2L188.5 613L180.2 610.4L176.1 608.9L167.9 605.4L163.8 603.2L159.7 600.8L155.6 597.9L153.5 596.2L149.4 592.1L147.4 589.6L145.3 586.6L143.3 582.9L141.2 578.2L139.2 571.5L137.1 560.2L136.1 549.3L135.4 533.9L135.1 518.3Z" fill="#69639c"/>
<path d="M135.1 622.8L135.4 636.4L136.3 651.8L242.2 628.7L225.4 626.1L209 623.1L196.7 620.3L184.3 616.9L176.1 614L170 611.5L165.9 609.5L161.8 607.3L157.7 604.6L153.5 601.4L151.5 599.5L147.4 594.9L145.3 591.9L143.3 588.3L141.2 583.6L139.2 576.9L137.1 565.7L136.1 554.9L135.4 539.6L135.1 524.1Z" fill="#6a619b"/>
<path d="M135.1 622.8L135.4 636.4L136.3 651.8L228.5 631.7L213.1 629L200.8 626.4L188.5 623.2L176.1 619.2L167.9 615.7L163.8 613.6L159.7 611.2L155.6 608.3L153.5 606.6L149.4 602.6L147.4 600.2L145.3 597.2L143.3 593.6L141.2 588.9L139.2 582.4L137.1 571.2L136.1 560.5L135.4 545.3L135.1 529.9Z" fill="#6a5e9a"/>
<path d="M135.1 622.8L135.4 636.4L136.3 651.8L215.5 634.5L204.9 632.4L192.6 629.4L180.2 625.8L172 622.7L163.8 618.8L157.7 615L153.5 611.9L151.5 610L147.4 605.5L145.3 602.5L143.3 599L141.2 594.3L139.2 587.8L137.1 576.7L136.1 566.1L135.7 559.1L135.1 535.7Z" fill="#6b5c99"/>
<path d="M135.1 622.8L135.4 636.4L136.3 651.8L203.4 637.1L192.6 634.6L184.3 632.2L176.1 629.5L167.9 626.1L161.8 622.9L155.6 618.8L151.5 615.3L147.4 610.7L145.3 607.8L143.3 604.3L141.2 599.7L139.2 593.2L137.1 582.2L136.1 571.6L135.7 564.8L135.1 541.6Z" fill="#6c5997"/>
<path d="M135.1 622.8L135.4 636.4L136.3 651.8L192.2 639.6L184.3 637.4L176.1 634.6L167.9 631.2L161.8 628L155.6 624L151.5 620.5L147.4 616L145.3 613.2L143.3 609.6L141.2 605.1L139.2 598.6L137.1 587.7L136.1 577.2L135.7 570.4L135.1 547.4Z" fill="#6c5796"/>
<path d="M135.1 622.8L135.4 636.4L136.3 651.8L182.1 641.8L176.1 639.8L167.9 636.4L161.8 633.2L157.7 630.7L153.5 627.6L149.4 623.7L147.4 621.3L145.3 618.5L143.3 615L141.2 610.4L139.2 604L137.1 593.2L136.1 582.8L135.7 576L135.1 553.2Z" fill="#6c5493"/>
<path d="M135.1 622.8L135.4 636.4L136.3 651.8L173.1 643.8L167.9 641.6L161.8 638.4L157.7 635.9L153.5 632.8L149.4 629L147.4 626.6L145.3 623.8L143.3 620.3L141.2 615.8L139.2 609.4L137.1 598.7L136.6 594.4L135.7 581.7L135.1 559Z" fill="#6d5191"/>
<path d="M135.1 622.8L135.4 636.4L136.3 651.8L165.3 645.5L159.7 642.4L155.6 639.7L151.5 636.3L149.4 634.2L147.4 631.9L145.3 629.1L143.3 625.6L141.2 621.2L139.2 614.9L137.1 604.2L136.6 599.9L135.7 587.3L135.1 564.8Z" fill="#6d4f8f"/>
<path d="M135.1 622.8L135.4 636.4L136.3 651.8L158.6 646.9L155.6 644.9L151.5 641.5L147.4 637.2L145.3 634.4L143.3 631L141.2 626.5L139.2 620.3L137.1 609.7L136.1 599.5L135.4 585.1L135.1 570.6Z" fill="#6d4c8d"/>
<path d="M135.1 622.8L135.4 636.4L136.3 651.8L153.1 648.1L149.4 644.8L147.4 642.5L145.3 639.7L143.3 636.3L141.2 631.9L139.2 625.7L137.1 615.2L136.1 605.1L135.4 590.8L135.1 576.4Z" fill="#6d4a8b"/>
<path d="M135.1 622.8L135.4 636.4L136.3 651.8L148.6 649.1L145.3 645L143.3 641.6L141.2 637.3L139.2 631.1L137.1 620.7L136.1 610.7L135.4 596.5L135.1 582.2Z" fill="#6d4688"/>
<path d="M135.1 622.8L135.4 636.4L136.3 651.8L145.1 649.9L143.3 647L141.2 642.6L139.2 636.5L137.1 626.2L136.1 616.3L135.7 609.8L135.1 588Z" fill="#6c4486"/>
<path d="M135.1 622.8L135.4 636.4L136.3 651.8L142.4 650.5L141.2 648L139.2 642L137.1 631.7L136.1 621.9L135.7 615.5L135.1 593.8Z" fill="#6c4183"/>
<path d="M135.1 622.8L135.4 636.4L136.3 651.8L140.4 650.9L139.2 647.4L137.1 637.2L136.6 633.1L135.7 621.1L135.1 599.6Z" fill="#6c3d80"/>
<path d="M135.1 622.8L135.4 636.4L136.3 651.8L138.9 651.2L137.1 642.7L136.1 633L135.4 619.3L135.1 605.4Z" fill="#6b3b7d"/>
<path d="M135.1 622.8L135.4 636.4L136.3 651.8L137.8 651.5L137.1 648.2L136.1 638.6L135.4 625L135.1 611.2Z" fill="#6a377a"/>
<path d="M135.1 617L135.4 636.4L136.3 651.8L136.9 651.7L136.1 644.2L135.7 638Z" fill="#6a3577"/>
</g>
<path d="M136.3 71.2L136.9 108.6L137.3 119.6L138.4 136.6L140.4 154.3L142.5 164.7L144.5 172.1L146.6 177.9L148.6 182.5L150.7 186.4L152.7 189.8L156.8 195.4L160.9 200L165 203.8L171.2 208.7L177.4 212.6L185.6 217.1L193.8 220.8L197.9 222.5L206.1 225.5L218.4 229.4L228.7 232.2L245.1 236.1L261.6 239.4L278 242.2L294.4 244.8L310.8 247.1L327.3 249.2L351.9 251.9L368.3 253.6L401.2 256.6L434 259.3L469.3 261.8M136.3 100.3L136.9 136.7L137.3 147.5L138.4 164.2L140.4 181.4L142.5 191.6L144.5 198.8L146.6 204.4L148.6 209L150.7 212.8L152.7 216.1L154.8 219L158.9 223.9L163 228L169.2 233L173.3 235.8L177.4 238.4L181.5 240.6L189.7 244.6L193.8 246.4L202 249.5L214.3 253.5L226.6 256.9L236.9 259.4L253.3 262.9L269.8 265.9L294.4 269.8L310.8 272L335.5 275L351.9 276.7L384.8 279.9L417.6 282.7L450.5 285.1L510.3 288.9M136.3 129.3L136.9 164.9L137.3 175.4L138.4 191.7L140.4 208.5L142.5 218.4L144.5 225.5L146.6 231L148.6 235.4L150.7 239.1L152.7 242.4L156.8 247.7L158.9 250L163 254L167.1 257.3L173.3 261.6L177.4 264.1L181.5 266.3L189.7 270.2L197.9 273.5L210.2 277.7L222.5 281.2L236.9 284.7L253.3 288.1L269.8 291L286.2 293.6L310.8 296.9L327.3 298.9L351.9 301.6L384.8 304.6L417.6 307.3L450.5 309.7L483.3 311.8L550.7 315.6M136.3 158.3L136.9 193L137.3 203.3L138.4 219.2L140.4 235.6L142.5 245.3L144.5 252.2L146.6 257.5L148.6 261.8L150.7 265.5L152.7 268.6L156.8 273.8L158.9 276.1L163 279.9L169.2 284.7L173.3 287.4L177.4 289.8L185.6 294L193.8 297.4L206.1 301.8L218.4 305.4L228.7 308L245.1 311.6L261.6 314.7L286.2 318.6L302.6 320.8L327.3 323.8L351.9 326.4L384.8 329.4L434 333.2L466.9 335.4L499.7 337.4L549 340L590.6 342M136.3 187.4L136.9 221.2L137.3 231.2L138.4 246.7L140.4 262.7L142.5 272.1L144.5 278.8L146.6 284L148.6 288.3L150.7 291.8L152.7 294.9L154.8 297.6L158.9 302.1L160.9 304.1L165 307.6L171.2 311.9L177.4 315.6L185.6 319.6L189.7 321.4L197.9 324.5L210.2 328.5L222.5 331.8L236.9 335.1L253.3 338.3L269.8 341.1L294.4 344.7L319 347.7L343.7 350.4L368.3 352.7L401.2 355.4L434 357.8L466.9 360L499.7 361.9L549 364.5L630.1 368.1M136.3 216.4L136.9 249.4L137.3 259.1L138.4 274.2L140.4 289.8L142.5 299L144.5 305.5L146.6 310.6L148.6 314.7L150.7 318.2L152.7 321.1L154.8 323.8L158.9 328.2L160.9 330.1L165 333.5L169.2 336.4L173.3 339L181.5 343.4L189.7 346.9L193.8 348.5L202 351.4L214.3 355L228.7 358.6L245.1 362L261.6 364.9L278 367.4L302.6 370.7L327.3 373.5L351.9 376L384.8 378.9L417.6 381.3L450.5 383.5L483.3 385.5L516.2 387.3L565.4 389.7L614.7 391.8L669.2 393.9M136.3 245.4L136.9 277.5L137.3 287L138.4 301.7L140.4 316.9L142.5 325.8L144.5 332.2L146.6 337.1L148.6 341.1L150.7 344.5L152.7 347.4L156.8 352.2L158.9 354.3L163 357.9L169.2 362.3L173.3 364.8L177.4 367L185.6 370.8L193.8 374.1L206.1 378.1L214.3 380.4L222.5 382.4L236.9 385.6L253.3 388.6L269.8 391.3L286.2 393.6L310.8 396.6L335.5 399.2L368.3 402.2L401.2 404.8L434 407.1L466.9 409.1L516.2 411.8L598.3 415.6L647.6 417.5L708.1 419.6M136.3 274.5L136.9 305.7L137.3 314.9L138.4 329.2L140.4 343.9L142.5 352.7L144.5 358.9L146.6 363.7L148.6 367.6L150.7 370.8L152.7 373.7L156.8 378.4L158.9 380.4L163 383.9L169.2 388.2L173.3 390.6L177.4 392.8L185.6 396.5L193.8 399.6L206.1 403.5L214.3 405.7L222.5 407.7L236.9 410.8L253.3 413.8L278 417.5L302.6 420.6L327.3 423.3L351.9 425.6L384.8 428.3L417.6 430.7L450.5 432.8L483.3 434.6L532.6 437.1L581.9 439.3L631.2 441.3L680.4 443L746.6 445.1M136.3 303.5L136.9 333.8L137.3 342.8L138.4 356.7L140.4 371L142.5 379.5L144.5 385.5L146.6 390.2L148.6 394L150.7 397.2L152.7 399.9L154.8 402.3L158.9 406.4L160.9 408.2L165 411.3L171.2 415.2L177.4 418.5L181.5 420.4L189.7 423.7L197.9 426.5L210.2 430.1L222.5 433L236.9 436L253.3 438.9L278 442.5L302.6 445.6L327.3 448.2L351.9 450.4L384.8 453.1L417.6 455.4L450.5 457.4L483.3 459.2L532.6 461.6L581.9 463.7L631.2 465.6L696.9 467.9L752 469.5M136.3 332.5L136.9 362L137.3 370.7L138.4 384.2L140.4 398.1L142.5 406.4L144.5 412.2L146.6 416.7L148.6 420.4L150.7 423.5L152.7 426.2L154.8 428.5L158.9 432.5L160.9 434.2L165 437.3L171.2 441.1L177.4 444.2L181.5 446.1L189.7 449.3L197.9 452L210.2 455.5L222.5 458.4L236.9 461.2L253.3 464.1L278 467.6L302.6 470.5L327.3 473L351.9 475.2L384.8 477.8L417.6 480L450.5 482L483.3 483.8L532.6 486.1L581.9 488.2L631.2 490L696.9 492.2L752 493.8M136.3 361.5L136.9 390.2L137.3 398.6L138.4 411.7L140.4 425.2L142.5 433.2L144.5 438.9L146.6 443.3L148.6 446.9L150.7 449.9L152.7 452.5L156.8 456.8L158.9 458.6L163 461.8L169.2 465.7L173.3 468L177.4 469.9L185.6 473.4L193.8 476.2L206.1 479.8L214.3 481.8L222.5 483.7L236.9 486.5L253.3 489.2L278 492.6L302.6 495.5L327.3 497.9L351.9 500.1L384.8 502.5L417.6 504.7L450.5 506.6L483.3 508.3L532.6 510.6L581.9 512.6L631.2 514.4L740.8 517.8M136.3 390.6L136.9 418.3L137.3 426.5L138.4 439.2L140.4 452.3L142.5 460.1L144.5 465.6L146.6 469.8L148.6 473.3L150.7 476.2L154.8 480.9L158.9 484.7L160.9 486.3L165 489.1L171.2 492.7L177.4 495.7L185.6 499L189.7 500.4L197.9 503L210.2 506.2L222.5 509L236.9 511.7L253.3 514.3L269.8 516.6L294.4 519.6L319 522L343.7 524.2L368.3 526.1L401.2 528.4L434 530.3L466.9 532.1L499.7 533.7L549 535.8L643.6 539.2M136.3 419.6L136.9 446.5L137.3 454.4L138.4 466.7L140.4 479.4L142.5 486.9L144.5 492.3L146.6 496.4L148.6 499.7L150.7 502.5L154.8 507.1L158.9 510.7L160.9 512.3L165 515.1L171.2 518.5L177.4 521.4L185.6 524.6L193.8 527.3L206.1 530.7L218.4 533.5L228.7 535.5L245.1 538.3L261.6 540.6L278 542.7L302.6 545.4L327.3 547.7L351.9 549.7L401.2 553.1L434 555L466.9 556.7L548 560.2M136.3 448.6L136.9 474.6L137.3 482.3L138.4 494.2L140.4 506.5L142.5 513.8L144.5 518.9L146.6 522.9L148.6 526.2L150.7 528.9L152.7 531.2L156.8 535.2L160.9 538.3L165 541L171.2 544.3L177.4 547.1L185.6 550.2L193.8 552.8L202 555.1L214.3 557.9L226.6 560.4L236.9 562.1L253.3 564.6L269.8 566.8L286.2 568.7L310.8 571.1L351.9 574.5L401.2 577.8L455.1 580.7M136.3 477.7L136.9 502.8L137.8 516.9L138.4 521.7L140.4 533.6L142.5 540.6L144.5 545.6L146.6 549.5L148.6 552.6L150.7 555.2L152.7 557.5L156.8 561.3L160.9 564.4L167.1 568.1L171.2 570.2L177.4 572.9L185.6 575.9L193.8 578.4L202 580.5L214.3 583.3L226.6 585.7L236.9 587.4L261.6 590.8L278 592.8L294.4 594.5L327.3 597.4L366 600.3M136.3 506.7L136.6 522.5L137.3 538.2L138.4 549.2L140.4 560.7L142.5 567.5L144.5 572.3L146.6 576L148.6 579L150.7 581.6L152.7 583.8L156.8 587.4L160.9 590.4L165 592.9L169.2 595L173.3 596.9L177.4 598.6L185.6 601.5L193.8 603.9L202 606L218.4 609.5L236.9 612.6L261.6 615.9L283.7 618.4M136.3 535.7L136.9 559.1L137.3 566.1L138.4 576.7L140.4 587.8L142.5 594.3L144.5 599L146.6 602.5L148.6 605.5L150.7 607.9L152.7 610L154.8 611.9L158.9 615L165 618.8L171.2 621.8L177.4 624.3L181.5 625.8L189.7 628.3L202 631.5L213.4 633.9M136.3 564.8L136.9 587.3L137.8 599.9L138.4 604.2L140.4 614.9L142.5 621.2L144.5 625.6L146.6 629.1L148.6 631.9L150.7 634.2L152.7 636.3L156.8 639.7L160.9 642.4L164.8 644.6M136.3 593.8L136.9 615.5L137.8 627.6L138.4 631.7L140.4 642L142.5 648L143.1 649.4" fill="none" stroke="#000" stroke-width="2" stroke-linejoin="round" stroke-linecap="round"/>
<path d="M136.3 622.8L136.6 636.4L137.4 650.6" fill="none" stroke="#000" stroke-width="2" stroke-linejoin="round" stroke-linecap="round"/>
<path d="M105.6 54.7V682.1H787.2M136.3 682.1v7.9M290.3 682.1v7.9M444.3 682.1v7.9M598.3 682.1v7.9M752.3 682.1v7.9M105.6 109h-7.9M105.6 244.7h-7.9M105.6 380.4h-7.9M105.6 516.1h-7.9M105.6 651.8h-7.9" fill="none" stroke="#000" stroke-width="2.1" stroke-linecap="butt" stroke-linejoin="miter"/>
<text transform="translate(136.3,720.8)" font-size="29.4" text-anchor="middle">0</text>
<text transform="translate(290.3,720.8)" font-size="29.4" text-anchor="middle">500</text>
<text transform="translate(442,720.8) scale(0.96,1)" font-size="29.4" text-anchor="middle">1,000</text>
<text transform="translate(596.7,720.8) scale(0.96,1)" font-size="29.4" text-anchor="middle">1,500</text>
<text transform="translate(748.3,720.8) scale(0.96,1)" font-size="29.4" text-anchor="middle">2,000</text>
<text transform="translate(91,118.9)" font-size="29.4" text-anchor="end">0</text>
<text transform="translate(91,254.6)" font-size="29.4" text-anchor="end">10</text>
<text transform="translate(91,390.3)" font-size="29.4" text-anchor="end">20</text>
<text transform="translate(91,526)" font-size="29.4" text-anchor="end">30</text>
<text transform="translate(91,661.7)" font-size="29.4" text-anchor="end">40</text>
<text transform="translate(453.5,761.8)" font-size="29.2" text-anchor="middle">Precipitation of warmest quarter (mm)</text>
<text transform="translate(24.5,367.5) rotate(-90)" font-size="29.2" text-anchor="middle">Mean temperature of warmest quarter (°C)</text>
<text transform="translate(6,33.5) scale(1.1,1)" font-size="31" font-weight="bold" stroke="#000" stroke-width="0.7" stroke-linejoin="round">a</text>
<text transform="translate(100,34)" font-size="29.2"><tspan font-style="italic">R</tspan><tspan font-size="19.5" dy="-9.7">2</tspan><tspan dy="9.7"> = 0.59</tspan></text>
<rect x="881.3" y="37" width="50.7" height="618.3" fill="url(#vg)"/>
<path d="M881.3 654.5h10.4M932 654.5h-10.4M881.3 592.87h10.4M932 592.87h-10.4M881.3 531.24h10.4M932 531.24h-10.4M881.3 469.61h10.4M932 469.61h-10.4M881.3 407.98h10.4M932 407.98h-10.4M881.3 346.35h10.4M932 346.35h-10.4M881.3 284.72h10.4M932 284.72h-10.4M881.3 223.09h10.4M932 223.09h-10.4M881.3 161.46h10.4M932 161.46h-10.4M881.3 99.83h10.4M932 99.83h-10.4M881.3 38.2h10.4M932 38.2h-10.4" stroke="#fff" stroke-width="2" fill="none"/>
<text transform="translate(941.8,664.7)" font-size="29.4">0</text>
<text transform="translate(941.8,603.07)" font-size="29.4">10</text>
<text transform="translate(941.8,541.44)" font-size="29.4">20</text>
<text transform="translate(941.8,479.81)" font-size="29.4">30</text>
<text transform="translate(941.8,418.18)" font-size="29.4">40</text>
<text transform="translate(941.8,356.55)" font-size="29.4">50</text>
<text transform="translate(941.8,294.92)" font-size="29.4">60</text>
<text transform="translate(941.8,233.29)" font-size="29.4">70</text>
<text transform="translate(941.8,171.66)" font-size="29.4">80</text>
<text transform="translate(941.8,110.03)" font-size="29.4">90</text>
<text transform="translate(941.8,48.4)" font-size="29.4">100</text>
<text transform="translate(861,367) rotate(-90)" font-size="29.2" text-anchor="middle">Proportion of annuals among herbs (%)</text>
</g>
<g id="panel-b">
<g transform="translate(-1.4,-2.3)" shape-rendering="crispEdges">
<path d="M1904 517.2L1904 447.3L1357.4 86.9L1344.3 88.2L1331.9 89.6L1321.7 91.2L1311.4 93.3L1305.2 94.9L1299.1 97.2L1295 99.4L1292.9 100.9L1290.9 103L1288.8 106.3L1287.8 109.2L1287.1 112.9L1286.8 116.1L1286.8 554.2L1287.1 559.4L1287.8 565.4L1288.8 570.1L1290.9 575.3L1292.9 578.6L1295 581L1297 583L1299.1 584.6L1303.2 587.2L1307.3 589.2L1313.5 591.7L1319.6 593.6L1327.8 595.8L1336 597.6L1352.5 600.4L1377.1 603.7L1403.8 606.4L1436.7 609L1473.4 611.3Z" fill="#feec50"/>
<path d="M1904 447.3L1364.3 91.5L1348.4 92.9L1331.9 94.7L1319.6 96.6L1309.4 98.7L1305.2 99.9L1301.1 101.2L1297 103.1L1295 104.2L1292.9 105.7L1290.9 107.7L1288.8 110.9L1287.8 113.7L1287.4 115.5L1286.8 120.5L1286.8 554.2L1287.1 559.4L1287.8 565.4L1288.8 570.1L1290.9 575.3L1292.9 578.6L1295 581L1297 583L1299.1 584.6L1303.2 587.2L1307.3 589.2L1311.4 590.9L1317.6 593L1323.7 594.8L1331.9 596.7L1340.2 598.4L1356.6 601L1379.2 603.9L1403.8 606.4L1436.7 609L1473.4 611.3L1904 517.2Z" fill="#f8eb4c"/>
<path d="M1904 447.3L1371.3 96.1L1352.5 97.6L1336 99.3L1321.7 101.3L1309.4 103.7L1305.2 104.8L1301.1 106.1L1297 107.9L1295 109L1292.9 110.5L1290.9 112.4L1288.8 115.5L1287.8 118.3L1287.4 120L1286.8 124.9L1286.8 554.2L1287.1 559.4L1287.8 565.4L1288.8 570.1L1290.9 575.3L1292.9 578.6L1295 581L1297 583L1299.1 584.6L1303.2 587.2L1307.3 589.2L1311.4 590.9L1317.6 593L1323.7 594.8L1331.9 596.7L1340.2 598.4L1356.6 601L1379.2 603.9L1403.8 606.4L1436.7 609L1473.4 611.3L1904 517.2Z" fill="#f2ea49"/>
<path d="M1904 447.3L1378.4 100.8L1356.6 102.4L1336 104.4L1321.7 106.3L1311.4 108.2L1303.2 110.3L1297 112.8L1295 113.9L1292.9 115.3L1290.9 117.2L1288.8 120.2L1287.8 122.9L1287.4 124.5L1286.8 129.3L1286.8 554.2L1287.1 559.4L1287.8 565.4L1288.8 570.1L1290.9 575.3L1292.9 578.6L1295 581L1297 583L1299.1 584.6L1303.2 587.2L1307.3 589.2L1311.4 590.9L1317.6 593L1323.7 594.8L1331.9 596.7L1340.2 598.4L1356.6 601L1379.2 603.9L1403.8 606.4L1436.7 609L1473.4 611.3L1904 517.2Z" fill="#eeea48"/>
<path d="M1904 447.3L1385.7 105.5L1364.8 106.9L1344.3 108.6L1327.8 110.4L1313.5 112.8L1307.3 114.1L1303.2 115.3L1297 117.6L1292.9 120L1290.9 121.9L1288.8 124.8L1287.8 127.4L1287.4 129L1286.8 133.7L1286.8 554.2L1287.1 559.4L1287.8 565.4L1288.8 570.1L1290.9 575.3L1292.9 578.6L1295 581L1297 583L1299.1 584.6L1303.2 587.2L1307.3 589.2L1311.4 590.9L1317.6 593L1323.7 594.8L1331.9 596.7L1340.2 598.4L1356.6 601L1379.2 603.9L1403.8 606.4L1436.7 609L1473.4 611.3L1904 517.2Z" fill="#e8e946"/>
<path d="M1904 447.3L1392.9 110.3L1368.9 111.8L1348.4 113.3L1331.9 115L1323.7 116.1L1315.5 117.4L1305.2 119.6L1301.1 120.8L1297 122.4L1292.9 124.8L1290.9 126.6L1288.8 129.4L1287.8 132L1287.4 133.5L1286.8 138L1286.8 554.2L1287.1 559.4L1287.8 565.4L1288.8 570.1L1290.9 575.3L1292.9 578.6L1295 581L1297 583L1301.1 586L1305.2 588.2L1309.4 590.1L1315.5 592.4L1321.7 594.2L1327.8 595.8L1336 597.6L1344.3 599.1L1360.7 601.6L1387.4 604.8L1412 607.1L1444.9 609.5L1473.4 611.3L1904 517.2Z" fill="#e2e847"/>
<path d="M1904 447.3L1400.3 115.2L1373 116.7L1348.4 118.5L1331.9 120.1L1315.5 122.4L1305.2 124.5L1301.1 125.7L1297 127.3L1292.9 129.6L1290.9 131.3L1288.8 134.1L1287.8 136.6L1287.4 138L1286.8 142.4L1286.8 554.2L1287.1 559.4L1287.8 565.4L1288.8 570.1L1290.9 575.3L1292.9 578.6L1295 581L1297 583L1301.1 586L1305.2 588.2L1309.4 590.1L1315.5 592.4L1321.7 594.2L1327.8 595.8L1336 597.6L1344.3 599.1L1360.7 601.6L1387.4 604.8L1412 607.1L1444.9 609.5L1473.4 611.3L1904 517.2Z" fill="#dde848"/>
<path d="M1904 447.3L1407.7 120.1L1377.1 121.6L1352.5 123.2L1331.9 125.1L1315.5 127.4L1305.2 129.5L1301.1 130.6L1297 132.1L1292.9 134.4L1290.9 136L1288.8 138.7L1288.3 139.7L1287.4 142.6L1286.8 146.8L1286.8 554.2L1287.1 559.4L1287.8 565.4L1288.8 570.1L1290.9 575.3L1292.9 578.6L1295 581L1297 583L1301.1 586L1305.2 588.2L1309.4 590.1L1315.5 592.4L1321.7 594.2L1327.8 595.8L1336 597.6L1344.3 599.1L1360.7 601.6L1387.4 604.8L1412 607.1L1444.9 609.5L1473.4 611.3L1904 517.2Z" fill="#d7e74a"/>
<path d="M1904 447.3L1415.2 125L1379.2 126.7L1356.6 128.1L1336 129.8L1317.6 132L1311.4 133.1L1305.2 134.4L1301.1 135.5L1297 137L1292.9 139.1L1290.9 140.8L1288.8 143.4L1288.3 144.4L1287.4 147.1L1286.8 151.2L1286.8 554.2L1287.1 559.4L1287.8 565.4L1288.8 570.1L1290.9 575.3L1292.9 578.6L1295 581L1297 583L1301.1 586L1305.2 588.2L1309.4 590.1L1315.5 592.4L1321.7 594.2L1327.8 595.8L1336 597.6L1344.3 599.1L1360.7 601.6L1387.4 604.8L1412 607.1L1444.9 609.5L1473.4 611.3L1904 517.2Z" fill="#d3e64d"/>
<path d="M1904 447.3L1422.7 129.9L1387.4 131.4L1360.7 132.9L1336 134.9L1319.6 136.8L1307.3 138.9L1301.1 140.4L1297 141.8L1292.9 143.9L1290.9 145.5L1288.8 148L1288.3 149L1287.4 151.6L1286.8 155.6L1286.8 554.2L1287.1 559.4L1287.8 565.4L1288.8 570.1L1290.9 575.3L1292.9 578.6L1295 581L1297 583L1301.1 586L1305.2 588.2L1309.4 590.1L1315.5 592.4L1321.7 594.2L1327.8 595.8L1336 597.6L1344.3 599.1L1360.7 601.6L1387.4 604.8L1412 607.1L1444.9 609.5L1473.4 611.3L1904 517.2Z" fill="#cce550"/>
<path d="M1904 447.3L1430.2 134.9L1395.6 136.3L1360.7 138.1L1336 140L1319.6 141.8L1307.3 143.8L1301.1 145.3L1297 146.7L1292.9 148.7L1290.9 150.2L1288.8 152.6L1288.3 153.6L1287.4 156.1L1286.8 159.9L1286.8 554.2L1287.1 559.4L1287.8 565.4L1288.8 570.1L1290.9 575.3L1292.9 578.6L1295 581L1297 583L1301.1 586L1305.2 588.2L1309.4 590.1L1315.5 592.4L1321.7 594.2L1327.8 595.8L1336 597.6L1344.3 599.1L1360.7 601.6L1387.4 604.8L1412 607.1L1444.9 609.5L1473.4 611.3L1904 517.2Z" fill="#c8e553"/>
<path d="M1904 447.3L1437.9 140L1395.6 141.5L1364.8 143L1340.2 144.7L1321.7 146.5L1313.5 147.7L1307.3 148.8L1301.1 150.2L1297 151.5L1292.9 153.5L1290.9 154.9L1288.8 157.3L1288.3 158.2L1287.4 160.6L1286.8 164.3L1286.8 554.2L1287.1 559.4L1287.8 565.4L1288.8 570.1L1290.9 575.3L1292.9 578.6L1295 581L1297 583L1301.1 586L1307.3 589.2L1311.4 590.9L1317.6 593L1323.7 594.8L1331.9 596.7L1348.4 599.8L1364.8 602.2L1387.4 604.8L1412 607.1L1444.9 609.5L1473.4 611.3L1904 517.2Z" fill="#c2e457"/>
<path d="M1904 447.3L1445.5 145L1403.8 146.4L1368.9 147.9L1344.3 149.5L1323.7 151.3L1309.4 153.3L1303.2 154.6L1299.1 155.7L1295 157.2L1292.9 158.2L1290.9 159.7L1288.8 161.9L1288.3 162.8L1287.4 165.1L1286.8 168.7L1286.8 554.2L1287.1 559.4L1287.8 565.4L1288.8 570.1L1290.9 575.3L1292.9 578.6L1295 581L1297 583L1301.1 586L1307.3 589.2L1311.4 590.9L1317.6 593L1323.7 594.8L1331.9 596.7L1348.4 599.8L1364.8 602.2L1387.4 604.8L1412 607.1L1444.9 609.5L1473.4 611.3L1904 517.2Z" fill="#bde35a"/>
<path d="M1904 447.3L1453.2 150.1L1412 151.3L1373 152.9L1344.3 154.6L1321.7 156.6L1313.5 157.6L1307.3 158.7L1301.1 160L1297 161.2L1292.9 163L1290.9 164.4L1288.8 166.6L1287.8 168.5L1287.1 170.9L1286.8 173.1L1286.8 554.2L1287.1 559.4L1287.8 565.4L1288.8 570.1L1290.9 575.3L1292.9 578.6L1295 581L1297 583L1301.1 586L1307.3 589.2L1311.4 590.9L1317.6 593L1323.7 594.8L1331.9 596.7L1348.4 599.8L1364.8 602.2L1387.4 604.8L1412 607.1L1444.9 609.5L1473.4 611.3L1904 517.2Z" fill="#b7e25e"/>
<path d="M1904 447.3L1460.9 155.2L1412 156.5L1377.1 157.9L1348.4 159.4L1323.7 161.4L1315.5 162.4L1307.3 163.6L1301.1 164.9L1297 166.1L1292.9 167.8L1290.9 169.1L1288.8 171.2L1287.8 173L1287.1 175.4L1286.8 177.5L1286.8 554.2L1287.1 559.4L1287.8 565.4L1288.8 570.1L1290.9 575.3L1292.9 578.6L1295 581L1297 583L1301.1 586L1307.3 589.2L1311.4 590.9L1317.6 593L1323.7 594.8L1331.9 596.7L1348.4 599.8L1364.8 602.2L1387.4 604.8L1412 607.1L1444.9 609.5L1473.4 611.3L1904 517.2Z" fill="#b1e162"/>
<path d="M1904 447.3L1468.7 160.3L1420.2 161.5L1379.2 163L1348.4 164.5L1323.7 166.4L1315.5 167.4L1307.3 168.6L1301.1 169.8L1297 170.9L1292.9 172.6L1290.9 173.8L1288.8 175.8L1287.8 177.6L1287.1 179.9L1286.8 181.8L1286.8 554.2L1287.1 559.4L1287.8 565.4L1288.8 570.1L1290.9 575.3L1292.9 578.6L1295 581L1297 583L1301.1 586L1307.3 589.2L1311.4 590.9L1317.6 593L1323.7 594.8L1331.9 596.7L1348.4 599.8L1364.8 602.2L1387.4 604.8L1412 607.1L1444.9 609.5L1473.4 611.3L1904 517.2Z" fill="#ade065"/>
<path d="M1904 447.3L1476.5 165.4L1428.4 166.6L1387.4 167.9L1352.5 169.4L1327.8 171.1L1311.4 172.9L1305.2 173.9L1299.1 175.2L1295 176.5L1292.9 177.4L1290.9 178.6L1288.8 180.5L1287.8 182.2L1287.1 184.3L1286.8 186.2L1286.8 554.2L1286.9 556.7L1287.8 565.4L1288.8 570.1L1290.9 575.3L1292.9 578.6L1295 581L1297 583L1299.1 584.6L1303.2 587.2L1309.4 590.1L1313.5 591.7L1319.6 593.6L1331.9 596.7L1348.4 599.8L1364.8 602.2L1387.4 604.8L1412 607.1L1444.9 609.5L1473.4 611.3L1904 517.2Z" fill="#a6df69"/>
<path d="M1904 447.3L1484.3 170.6L1428.4 171.8L1387.4 173.1L1352.5 174.6L1327.8 176.2L1311.4 177.9L1305.2 178.8L1299.1 180.1L1295 181.3L1292.9 182.1L1290.9 183.3L1288.8 185.1L1287.8 186.7L1287.1 188.8L1286.8 190.6L1286.8 554.2L1286.9 556.7L1287.8 565.4L1288.8 570.1L1290.9 575.3L1292.9 578.6L1295 581L1297 583L1299.1 584.6L1303.2 587.2L1309.4 590.1L1313.5 591.7L1319.6 593.6L1331.9 596.7L1348.4 599.8L1364.8 602.2L1387.4 604.8L1412 607.1L1444.9 609.5L1473.4 611.3L1904 517.2Z" fill="#a2de6b"/>
<path d="M1904 447.3L1492.2 175.8L1436.7 176.9L1387.4 178.3L1352.5 179.7L1327.8 181.2L1317.6 182.1L1309.4 183.1L1303.2 184.1L1297 185.5L1292.9 186.9L1290.9 188L1288.8 189.7L1287.8 191.3L1287.4 192.2L1286.8 195L1286.8 554.2L1286.9 556.7L1287.8 565.4L1288.8 570.1L1290.9 575.3L1292.9 578.6L1295 581L1297 583L1299.1 584.6L1303.2 587.2L1309.4 590.1L1313.5 591.7L1319.6 593.6L1331.9 596.7L1348.4 599.8L1364.8 602.2L1387.4 604.8L1412 607.1L1444.9 609.5L1473.4 611.3L1904 517.2Z" fill="#9cdd6f"/>
<path d="M1904 447.3L1500 181L1444.9 182L1395.6 183.2L1356.6 184.6L1327.8 186.3L1317.6 187.2L1309.4 188.1L1303.2 189L1297 190.3L1292.9 191.7L1290.9 192.7L1288.8 194.4L1287.8 195.9L1287.4 196.7L1286.8 199.4L1286.8 554.2L1286.9 556.7L1287.8 565.4L1288.8 570.1L1290.9 575.3L1292.9 578.6L1295 581L1297 583L1299.1 584.6L1303.2 587.2L1309.4 590.1L1313.5 591.7L1319.6 593.6L1331.9 596.7L1348.4 599.8L1364.8 602.2L1387.4 604.8L1412 607.1L1444.9 609.5L1473.4 611.3L1904 517.2Z" fill="#98dc72"/>
<path d="M1904 447.3L1507.9 186.2L1444.9 187.2L1395.6 188.4L1356.6 189.8L1327.8 191.3L1309.4 193L1303.2 193.9L1297 195.2L1292.9 196.5L1290.9 197.5L1288.8 199L1287.4 201.3L1286.8 203.8L1286.8 554.2L1286.9 556.7L1287.8 565.4L1288.8 570.1L1290.9 575.3L1292.9 578.6L1295 581L1297 583L1299.1 584.6L1303.2 587.2L1309.4 590.1L1313.5 591.7L1319.6 593.6L1331.9 596.7L1348.4 599.8L1364.8 602.2L1387.4 604.8L1412 607.1L1444.9 609.5L1473.4 611.3L1904 517.2Z" fill="#92da75"/>
<path d="M1904 447.3L1515.9 191.4L1453.1 192.4L1403.8 193.4L1360.7 194.7L1331.9 196.1L1311.4 197.8L1305.2 198.5L1299.1 199.6L1295 200.6L1290.9 202.2L1288.8 203.7L1287.4 205.8L1286.8 208.1L1286.8 554.2L1286.9 556.7L1287.8 565.4L1288.8 570.1L1290.9 575.3L1292.9 578.6L1295 581L1297 583L1301.1 586L1305.2 588.2L1311.4 590.9L1315.5 592.4L1321.7 594.2L1327.8 595.8L1336 597.6L1352.5 600.4L1368.9 602.7L1387.4 604.8L1412 607.1L1444.9 609.5L1473.4 611.3L1904 517.2Z" fill="#8dd879"/>
<path d="M1904 447.3L1523.8 196.6L1461.3 197.5L1403.8 198.6L1360.7 199.9L1331.9 201.2L1311.4 202.7L1305.2 203.5L1299.1 204.4L1295 205.4L1290.9 206.9L1288.8 208.3L1287.4 210.3L1286.8 212.5L1286.8 554.2L1286.9 556.7L1287.8 565.4L1288.8 570.1L1290.9 575.3L1292.9 578.6L1295 581L1297 583L1301.1 586L1305.2 588.2L1311.4 590.9L1315.5 592.4L1321.7 594.2L1327.8 595.8L1336 597.6L1352.5 600.4L1368.9 602.7L1387.4 604.8L1412 607.1L1444.9 609.5L1473.4 611.3L1904 517.2Z" fill="#89d77b"/>
<path d="M1904 447.3L1531.8 201.9L1461.3 202.8L1403.8 203.9L1360.7 205.1L1331.9 206.3L1311.4 207.7L1303.2 208.7L1297 209.7L1292.9 210.8L1290.9 211.6L1288.3 213.4L1287.8 214.1L1287.1 215.6L1286.8 216.9L1286.8 554.2L1286.9 556.7L1287.8 565.4L1288.8 570.1L1290.9 575.3L1292.9 578.6L1295 581L1297 583L1301.1 586L1305.2 588.2L1311.4 590.9L1315.5 592.4L1321.7 594.2L1327.8 595.8L1336 597.6L1352.5 600.4L1368.9 602.7L1387.4 604.8L1412 607.1L1444.9 609.5L1473.4 611.3L1904 517.2Z" fill="#84d67e"/>
<path d="M1904 447.3L1539.8 207.2L1469.5 208L1412 208.9L1364.8 210.1L1331.9 211.3L1311.4 212.7L1303.2 213.6L1297 214.6L1292.9 215.6L1290.9 216.3L1288.3 218L1287.8 218.7L1287.1 220.1L1286.8 221.3L1286.8 554.2L1286.9 556.7L1287.8 565.4L1288.8 570.1L1290.9 575.3L1292.9 578.6L1295 581L1297 583L1301.1 586L1305.2 588.2L1311.4 590.9L1315.5 592.4L1321.7 594.2L1327.8 595.8L1336 597.6L1352.5 600.4L1368.9 602.7L1387.4 604.8L1412 607.1L1444.9 609.5L1473.4 611.3L1904 517.2Z" fill="#80d580"/>
<path d="M1904 447.3L1547.8 212.5L1469.5 213.3L1412 214.2L1364.8 215.2L1331.9 216.4L1311.4 217.7L1303.2 218.5L1297 219.4L1292.9 220.3L1290.9 221.1L1288.3 222.6L1287.1 224.5L1286.8 225.7L1286.8 554.2L1287.1 559.4L1287.8 565.4L1288.8 570.1L1290.9 575.3L1292.9 578.6L1295 581L1297 583L1301.1 586L1307.3 589.2L1313.5 591.7L1323.7 594.8L1336 597.6L1352.5 600.4L1368.9 602.7L1387.4 604.8L1412 607.1L1444.9 609.5L1473.4 611.3L1904 517.2Z" fill="#7bd383"/>
<path d="M1904 447.3L1555.9 217.8L1477.7 218.5L1420.2 219.3L1373 220.2L1336 221.3L1313.5 222.5L1305.2 223.2L1299.1 223.9L1295 224.6L1290.9 225.8L1288.3 227.3L1287.1 229L1286.8 230L1286.8 554.2L1287.1 559.4L1287.8 565.4L1288.8 570.1L1290.9 575.3L1292.9 578.6L1295 581L1297 583L1301.1 586L1307.3 589.2L1313.5 591.7L1323.7 594.8L1336 597.6L1352.5 600.4L1368.9 602.7L1387.4 604.8L1412 607.1L1444.9 609.5L1473.4 611.3L1904 517.2Z" fill="#78d285"/>
<path d="M1904 447.3L1563.9 223.1L1477.7 223.8L1412 224.6L1364.8 225.6L1331.9 226.6L1311.4 227.6L1303.2 228.3L1297 229.1L1292.9 229.9L1290.9 230.5L1288.8 231.5L1287.8 232.4L1286.9 234L1286.8 234.4L1286.8 554.2L1287.1 559.4L1287.8 565.4L1288.8 570.1L1290.9 575.3L1292.9 578.6L1295 581L1297 583L1301.1 586L1307.3 589.2L1313.5 591.7L1323.7 594.8L1336 597.6L1352.5 600.4L1368.9 602.7L1387.4 604.8L1412 607.1L1444.9 609.5L1473.4 611.3L1904 517.2Z" fill="#73d088"/>
<path d="M1904 447.3L1572 228.4L1485.9 229.1L1420.2 229.8L1373 230.5L1336 231.5L1311.4 232.6L1303.2 233.2L1297 233.9L1292.9 234.7L1290.9 235.2L1288.8 236.1L1287.8 236.9L1286.9 238.4L1286.8 238.8L1286.8 554.2L1287.1 559.4L1287.8 565.4L1288.8 570.1L1290.9 575.3L1292.9 578.6L1295 581L1297 583L1299.1 584.6L1303.2 587.2L1309.4 590.1L1315.5 592.4L1321.7 594.2L1327.8 595.8L1340.2 598.4L1356.6 601L1373 603.2L1395.6 605.6L1420.2 607.7L1444.9 609.5L1473.4 611.3L1904 517.2Z" fill="#6fce8a"/>
<path d="M1904 447.3L1580.1 233.7L1428.4 234.9L1373 235.7L1336 236.6L1311.4 237.6L1303.2 238.2L1297 238.8L1292.9 239.5L1290.9 240L1288.8 240.8L1287.8 241.5L1286.9 242.8L1286.8 243.2L1286.8 554.2L1287.1 559.4L1287.8 565.4L1288.8 570.1L1290.9 575.3L1292.9 578.6L1295 581L1297 583L1299.1 584.6L1303.2 587.2L1309.4 590.1L1315.5 592.4L1321.7 594.2L1327.8 595.8L1340.2 598.4L1356.6 601L1373 603.2L1395.6 605.6L1420.2 607.7L1444.9 609.5L1473.4 611.3L1904 517.2Z" fill="#6bcc8c"/>
<path d="M1904 447.3L1588.2 239.1L1428.4 240.2L1373 240.9L1336 241.7L1311.4 242.6L1297 243.6L1292.9 244.2L1290.9 244.7L1288.8 245.4L1287.4 246.4L1286.8 247.6L1286.8 554.2L1287.1 559.4L1287.8 565.4L1288.8 570.1L1290.9 575.3L1292.9 578.6L1295 581L1297 583L1299.1 584.6L1303.2 587.2L1309.4 590.1L1315.5 592.4L1321.7 594.2L1327.8 595.8L1340.2 598.4L1356.6 601L1373 603.2L1395.6 605.6L1420.2 607.7L1444.9 609.5L1473.4 611.3L1904 517.2Z" fill="#67ca8e"/>
<path d="M1904 447.3L1596.3 244.4L1428.4 245.4L1373 246.1L1336 246.7L1311.4 247.5L1297 248.5L1292.9 249L1288.8 250L1287.4 250.9L1286.8 251.9L1286.8 554.2L1287.1 559.4L1287.8 565.4L1288.8 570.1L1290.9 575.3L1292.9 578.6L1295 581L1297 583L1299.1 584.6L1303.2 587.2L1309.4 590.1L1317.6 593L1327.8 595.8L1340.2 598.4L1356.6 601L1373 603.2L1395.6 605.6L1420.2 607.7L1444.9 609.5L1473.4 611.3L1904 517.2Z" fill="#64c990"/>
<path d="M1904 447.3L1604.4 249.8L1428.4 250.7L1373 251.2L1336 251.8L1311.4 252.5L1297 253.3L1292.9 253.8L1288.8 254.7L1287.4 255.5L1286.8 256.3L1286.8 554.2L1287.1 559.4L1287.8 565.4L1288.8 570.1L1290.9 575.3L1292.9 578.6L1295 581L1297 583L1299.1 584.6L1303.2 587.2L1309.4 590.1L1317.6 593L1327.8 595.8L1340.2 598.4L1356.6 601L1373 603.2L1395.6 605.6L1420.2 607.7L1444.9 609.5L1473.4 611.3L1904 517.2Z" fill="#60c792"/>
<path d="M1904 447.3L1612.6 255.2L1436.7 255.9L1377.1 256.4L1336 256.9L1311.4 257.5L1297 258.2L1292.9 258.6L1288.8 259.3L1287.4 260L1286.8 260.7L1286.8 554.2L1287.1 559.4L1287.8 565.4L1288.8 570.1L1290.9 575.3L1292.9 578.6L1295 581L1297 583L1299.1 584.6L1303.2 587.2L1309.4 590.1L1317.6 593L1327.8 595.8L1340.2 598.4L1356.6 601L1373 603.2L1395.6 605.6L1420.2 607.7L1444.9 609.5L1473.4 611.3L1904 517.2Z" fill="#5dc693"/>
<path d="M1904 447.3L1620.8 260.6L1444.9 261.1L1340.2 261.9L1313.5 262.4L1297 263L1292.9 263.3L1288.8 264L1287.4 264.5L1286.8 265.1L1286.8 554.2L1287.4 562.5L1287.8 565.4L1288.8 570.1L1290.9 575.3L1292.9 578.6L1295 581L1297 583L1299.1 584.6L1301.1 586L1305.2 588.2L1311.4 590.9L1319.6 593.6L1331.9 596.7L1344.3 599.1L1360.7 601.6L1377.1 603.7L1395.6 605.6L1420.2 607.7L1444.9 609.5L1473.4 611.3L1904 517.2Z" fill="#5ac495"/>
<path d="M1904 447.3L1629 266L1444.9 266.4L1340.2 267L1313.5 267.4L1297 267.9L1288.8 268.6L1287.4 269L1286.8 269.5L1286.8 554.2L1287.4 562.5L1287.8 565.4L1288.8 570.1L1290.9 575.3L1292.9 578.6L1295 581L1297 583L1299.1 584.6L1301.1 586L1305.2 588.2L1311.4 590.9L1319.6 593.6L1331.9 596.7L1344.3 599.1L1360.7 601.6L1377.1 603.7L1395.6 605.6L1420.2 607.7L1444.9 609.5L1473.4 611.3L1904 517.2Z" fill="#58c297"/>
<path d="M1904 447.3L1637.2 271.4L1444.9 271.7L1340.2 272.1L1297 272.7L1288.8 273.2L1287.4 273.5L1286.8 273.8L1286.8 554.2L1287.4 562.5L1287.8 565.4L1288.8 570.1L1290.9 575.3L1292.9 578.6L1295 581L1297 583L1301.1 586L1307.3 589.2L1313.5 591.7L1321.7 594.2L1331.9 596.7L1344.3 599.1L1360.7 601.6L1377.1 603.7L1395.6 605.6L1420.2 607.7L1444.9 609.5L1473.4 611.3L1904 517.2Z" fill="#55c098"/>
<path d="M1904 447.3L1645.4 276.8L1340.2 277.2L1297 277.6L1288.8 277.9L1286.8 278.2L1286.8 554.2L1287.4 562.5L1287.8 565.4L1288.8 570.1L1290.9 575.3L1292.9 578.6L1295 581L1297 583L1301.1 586L1307.3 589.2L1313.5 591.7L1321.7 594.2L1331.9 596.7L1344.3 599.1L1360.7 601.6L1377.1 603.7L1395.6 605.6L1420.2 607.7L1444.9 609.5L1473.4 611.3L1904 517.2Z" fill="#53be99"/>
<path d="M1904 447.3L1653.6 282.2L1344.3 282.3L1299.1 282.4L1286.8 282.6L1286.8 554.2L1287.4 562.5L1287.8 565.4L1288.8 570.1L1290.9 575.3L1292.9 578.6L1295 581L1297 583L1301.1 586L1307.3 589.2L1315.5 592.4L1323.7 594.8L1336 597.6L1348.4 599.8L1364.8 602.2L1379.2 603.9L1395.6 605.6L1420.2 607.7L1444.9 609.5L1473.4 611.3L1904 517.2Z" fill="#51bc9b"/>
<path d="M1904 447.3L1661.8 287.6L1344.3 287.4L1299.1 287.3L1286.8 287L1286.8 554.2L1287.4 562.5L1287.8 565.4L1288.8 570.1L1290.9 575.3L1292.9 578.6L1295 581L1297 583L1301.1 586L1307.3 589.2L1315.5 592.4L1323.7 594.8L1336 597.6L1348.4 599.8L1364.8 602.2L1379.2 603.9L1395.6 605.6L1420.2 607.7L1444.9 609.5L1473.4 611.3L1904 517.2Z" fill="#4fba9c"/>
<path d="M1904 447.3L1670.1 293.1L1344.3 292.5L1299.1 292.2L1290.9 291.9L1287.8 291.7L1286.8 291.4L1286.8 554.2L1287.4 562.5L1287.8 565.4L1288.8 570.1L1290.9 575.3L1292.9 578.6L1295 581L1297 583L1301.1 586L1307.3 589.2L1315.5 592.4L1323.7 594.8L1336 597.6L1348.4 599.8L1364.8 602.2L1379.2 603.9L1395.6 605.6L1420.2 607.7L1444.9 609.5L1473.4 611.3L1904 517.2Z" fill="#4eb99d"/>
<path d="M1904 447.3L1678.3 298.5L1469.5 298.2L1348.4 297.7L1299.1 297L1290.9 296.6L1287.8 296.2L1286.8 295.7L1286.8 554.2L1287.4 562.5L1287.8 565.4L1288.8 570.1L1290.9 575.3L1292.9 578.6L1295 581L1297 583L1299.1 584.6L1303.2 587.2L1309.4 590.1L1317.6 593L1327.8 595.8L1340.2 598.4L1352.5 600.4L1368.9 602.7L1387.4 604.8L1403.8 606.4L1428.4 608.4L1473.4 611.3L1904 517.2Z" fill="#4db69e"/>
<path d="M1904 447.3L1686.6 304L1469.5 303.5L1348.4 302.8L1317.6 302.4L1299.1 301.9L1290.9 301.4L1287.8 300.8L1286.8 300.1L1286.8 554.2L1287.4 562.5L1287.8 565.4L1288.8 570.1L1290.9 575.3L1292.9 578.6L1295 581L1297 583L1299.1 584.6L1303.2 587.2L1309.4 590.1L1317.6 593L1327.8 595.8L1340.2 598.4L1352.5 600.4L1368.9 602.7L1387.4 604.8L1403.8 606.4L1428.4 608.4L1473.4 611.3L1904 517.2Z" fill="#4cb59f"/>
<path d="M1904 447.3L1694.9 309.4L1469.5 308.8L1348.4 307.9L1317.6 307.4L1299.1 306.8L1290.9 306.1L1287.8 305.3L1286.8 304.5L1286.8 554.2L1287.1 559.4L1287.8 565.4L1288.8 570.1L1290.9 575.3L1292.9 578.6L1295 581L1297 583L1299.1 584.6L1301.1 586L1305.2 588.2L1311.4 590.9L1319.6 593.6L1327.8 595.8L1340.2 598.4L1352.5 600.4L1368.9 602.7L1387.4 604.8L1403.8 606.4L1428.4 608.4L1473.4 611.3L1904 517.2Z" fill="#4cb3a0"/>
<path d="M1904 447.3L1703.2 314.9L1477.7 314.1L1403.8 313.6L1348.4 313L1317.6 312.4L1299.1 311.7L1290.9 310.8L1287.8 309.9L1286.8 308.9L1286.8 554.2L1287.1 559.4L1287.8 565.4L1288.8 570.1L1290.9 575.3L1292.9 578.6L1295 581L1297 583L1299.1 584.6L1301.1 586L1305.2 588.2L1311.4 590.9L1315.5 592.4L1321.7 594.2L1331.9 596.7L1344.3 599.1L1356.6 601L1373 603.2L1387.4 604.8L1403.8 606.4L1428.4 608.4L1473.4 611.3L1904 517.2Z" fill="#4bb1a0"/>
<path d="M1904 447.3L1711.5 320.4L1477.7 319.4L1403.8 318.9L1352.5 318.2L1319.6 317.5L1299.1 316.5L1290.9 315.5L1288.8 315L1287.8 314.5L1287.1 313.8L1286.8 313.3L1286.8 554.2L1287.1 559.4L1287.8 565.4L1288.8 570.1L1290.9 575.3L1292.9 578.6L1295 581L1297 583L1299.1 584.6L1301.1 586L1305.2 588.2L1311.4 590.9L1315.5 592.4L1321.7 594.2L1331.9 596.7L1344.3 599.1L1356.6 601L1373 603.2L1387.4 604.8L1403.8 606.4L1428.4 608.4L1473.4 611.3L1904 517.2Z" fill="#4bafa1"/>
<path d="M1904 447.3L1719.8 325.9L1485.9 324.8L1403.8 324.1L1352.5 323.4L1319.6 322.5L1307.3 322L1299.1 321.4L1295 321L1290.9 320.3L1288.8 319.6L1287.8 319L1287.1 318.3L1286.8 317.6L1286.8 554.2L1287.1 559.4L1287.8 565.4L1288.8 570.1L1290.9 575.3L1292.9 578.6L1295 581L1297 583L1299.1 584.6L1301.1 586L1305.2 588.2L1311.4 590.9L1315.5 592.4L1321.7 594.2L1331.9 596.7L1344.3 599.1L1356.6 601L1373 603.2L1387.4 604.8L1403.8 606.4L1428.4 608.4L1473.4 611.3L1904 517.2Z" fill="#4cada2"/>
<path d="M1904 447.3L1728.1 331.3L1485.9 330.1L1403.8 329.3L1352.5 328.5L1319.6 327.5L1307.3 326.9L1299.1 326.3L1295 325.8L1290.9 325L1288.8 324.2L1287.8 323.6L1287.1 322.8L1286.8 322L1286.8 554.2L1287.1 559.4L1287.8 565.4L1288.8 570.1L1290.9 575.3L1292.9 578.6L1295 581L1297 583L1301.1 586L1307.3 589.2L1315.5 592.4L1323.7 594.8L1336 597.6L1348.4 599.8L1360.7 601.6L1387.4 604.8L1403.8 606.4L1428.4 608.4L1473.4 611.3L1904 517.2Z" fill="#4caba2"/>
<path d="M1904 447.3L1736.5 336.8L1600.9 336.2L1485.9 335.4L1403.8 334.5L1352.5 333.6L1319.6 332.6L1307.3 331.9L1299.1 331.2L1295 330.6L1290.9 329.7L1288.8 328.9L1287.8 328.2L1287.1 327.2L1286.8 326.4L1286.8 554.2L1287.1 559.4L1287.8 565.4L1288.8 570.1L1290.9 575.3L1292.9 578.6L1295 581L1297 583L1301.1 586L1307.3 589.2L1315.5 592.4L1323.7 594.8L1336 597.6L1348.4 599.8L1360.7 601.6L1387.4 604.8L1403.8 606.4L1428.4 608.4L1473.4 611.3L1904 517.2Z" fill="#4ca9a3"/>
<path d="M1904 447.3L1744.8 342.3L1600.9 341.6L1494.2 340.8L1412 339.9L1356.6 338.9L1319.6 337.6L1307.3 336.8L1299.1 336L1295 335.4L1290.9 334.4L1288.8 333.5L1287.8 332.7L1287.1 331.7L1286.8 330.8L1286.8 554.2L1287.4 562.5L1288.3 568.1L1288.8 570.1L1290.9 575.3L1292.9 578.6L1295 581L1297 583L1299.1 584.6L1303.2 587.2L1309.4 590.1L1317.6 593L1327.8 595.8L1340.2 598.4L1352.5 600.4L1364.8 602.2L1379.2 603.9L1395.6 605.6L1428.4 608.4L1473.4 611.3L1904 517.2Z" fill="#4da7a3"/>
<path d="M1904 447.3L1753.2 347.9L1600.9 347L1494.2 346.1L1412 345.1L1356.6 344L1336 343.3L1319.6 342.6L1307.3 341.8L1299.1 340.9L1295 340.2L1290.9 339.2L1288.8 338.2L1287.8 337.3L1287.1 336.2L1286.8 335.2L1286.8 554.2L1287.1 559.4L1287.8 565.4L1288.8 570.1L1290.9 575.3L1292.9 578.6L1295 581L1297 583L1299.1 584.6L1301.1 586L1305.2 588.2L1311.4 590.9L1319.6 593.6L1327.8 595.8L1340.2 598.4L1352.5 600.4L1368.9 602.7L1387.4 604.8L1403.8 606.4L1428.4 608.4L1473.4 611.3L1904 517.2Z" fill="#4ea5a4"/>
<path d="M1904 447.3L1761.5 353.4L1617.4 352.5L1502.4 351.6L1420.2 350.5L1356.6 349.1L1336 348.4L1319.6 347.6L1307.3 346.7L1299.1 345.8L1295 345L1290.9 343.9L1288.8 342.8L1287.8 341.8L1287.1 340.6L1286.8 339.6L1286.8 554.2L1287.1 559.4L1287.8 565.4L1288.8 570.1L1290.9 575.3L1292.9 578.6L1295 581L1297 583L1299.1 584.6L1301.1 586L1305.2 588.2L1311.4 590.9L1319.6 593.6L1327.8 595.8L1340.2 598.4L1352.5 600.4L1368.9 602.7L1387.4 604.8L1403.8 606.4L1428.4 608.4L1473.4 611.3L1904 517.2Z" fill="#4ea4a4"/>
<path d="M1904 447.3L1769.9 358.9L1617.4 357.9L1502.4 356.9L1420.2 355.8L1360.7 354.4L1340.2 353.7L1323.7 352.9L1311.4 352L1301.1 350.9L1295 349.9L1290.9 348.6L1288.8 347.4L1287.8 346.4L1287.1 345.1L1286.8 343.9L1286.8 554.2L1287.1 559.4L1287.8 565.4L1288.8 570.1L1290.9 575.3L1292.9 578.6L1295 581L1297 583L1299.1 584.6L1301.1 586L1305.2 588.2L1311.4 590.9L1319.6 593.6L1327.8 595.8L1340.2 598.4L1352.5 600.4L1368.9 602.7L1387.4 604.8L1403.8 606.4L1428.4 608.4L1473.4 611.3L1904 517.2Z" fill="#4fa1a4"/>
<path d="M1904 447.3L1778.3 364.4L1617.4 363.3L1502.4 362.2L1420.2 361L1360.7 359.6L1340.2 358.8L1323.7 357.9L1311.4 357L1301.1 355.8L1295 354.7L1290.9 353.3L1288.8 352.1L1287.8 351L1287.1 349.5L1286.8 348.3L1286.8 554.2L1287.1 559.4L1287.8 565.4L1288.8 570.1L1290.9 575.3L1292.9 578.6L1295 581L1297 583L1299.1 584.6L1301.1 586L1305.2 588.2L1311.4 590.9L1319.6 593.6L1327.8 595.8L1340.2 598.4L1352.5 600.4L1368.9 602.7L1387.4 604.8L1403.8 606.4L1428.4 608.4L1473.4 611.3L1904 517.2Z" fill="#4fa0a4"/>
<path d="M1904 447.3L1786.7 369.9L1633.8 368.9L1518.8 367.8L1428.4 366.4L1387.4 365.5L1360.7 364.7L1340.2 363.9L1323.7 363L1311.4 362L1301.1 360.7L1295 359.5L1290.9 358L1288.8 356.7L1287.8 355.5L1287.1 354L1286.8 352.7L1286.8 554.2L1287.1 559.4L1287.8 565.4L1288.8 570.1L1290.9 575.3L1292.9 578.6L1295 581L1297 583L1299.1 584.6L1301.1 586L1305.2 588.2L1311.4 590.9L1319.6 593.6L1327.8 595.8L1340.2 598.4L1352.5 600.4L1368.9 602.7L1387.4 604.8L1403.8 606.4L1428.4 608.4L1473.4 611.3L1904 517.2Z" fill="#509ea4"/>
<path d="M1904 447.3L1795.1 375.5L1633.8 374.3L1518.8 373.1L1428.4 371.7L1387.4 370.7L1360.7 369.9L1340.2 369L1323.7 368L1311.4 367L1301.1 365.6L1295 364.3L1290.9 362.8L1288.8 361.4L1287.8 360.1L1287.1 358.5L1286.8 357.1L1286.8 554.2L1287.1 559.4L1287.8 565.4L1288.8 570.1L1290.9 575.3L1292.9 578.6L1295 581L1297 583L1299.1 584.6L1301.1 586L1305.2 588.2L1311.4 590.9L1319.6 593.6L1327.8 595.8L1340.2 598.4L1352.5 600.4L1368.9 602.7L1387.4 604.8L1403.8 606.4L1428.4 608.4L1473.4 611.3L1904 517.2Z" fill="#519ba5"/>
<path d="M1904 447.3L1803.5 381L1650.2 379.9L1518.8 378.5L1428.4 376.9L1395.6 376.1L1364.8 375.2L1340.2 374.1L1323.7 373.1L1311.4 371.9L1301.1 370.5L1295 369.1L1290.9 367.5L1288.8 366L1287.8 364.6L1287.1 362.9L1286.8 361.5L1286.8 554.2L1287.1 559.4L1287.8 565.4L1288.8 570.1L1290.9 575.3L1292.9 578.6L1295 581L1297 583L1299.1 584.6L1301.1 586L1305.2 588.2L1311.4 590.9L1319.6 593.6L1327.8 595.8L1340.2 598.4L1352.5 600.4L1368.9 602.7L1387.4 604.8L1403.8 606.4L1428.4 608.4L1473.4 611.3L1904 517.2Z" fill="#529aa5"/>
<path d="M1904 447.3L1811.9 386.6L1650.2 385.3L1518.8 383.8L1428.4 382.2L1395.6 381.4L1364.8 380.3L1340.2 379.2L1323.7 378.1L1311.4 376.9L1301.1 375.4L1295 373.9L1292.9 373.2L1290.9 372.2L1288.8 370.6L1287.8 369.2L1287.1 367.4L1286.8 365.8L1286.8 554.2L1287.1 559.4L1287.8 565.4L1288.8 570.1L1290.9 575.3L1292.9 578.6L1295 581L1297 583L1299.1 584.6L1301.1 586L1305.2 588.2L1311.4 590.9L1319.6 593.6L1327.8 595.8L1340.2 598.4L1352.5 600.4L1368.9 602.7L1387.4 604.8L1403.8 606.4L1428.4 608.4L1473.4 611.3L1904 517.2Z" fill="#5398a5"/>
<path d="M1904 447.3L1820.3 392.1L1650.2 390.7L1518.8 389.1L1428.4 387.5L1395.6 386.6L1364.8 385.5L1340.2 384.3L1323.7 383.1L1311.4 381.9L1301.1 380.3L1295 378.8L1292.9 378L1290.9 376.9L1288.8 375.3L1287.8 373.8L1287.1 371.9L1286.8 370.2L1286.8 554.2L1287.1 559.4L1287.8 565.4L1288.8 570.1L1290.9 575.3L1292.9 578.6L1295 581L1297 583L1299.1 584.6L1301.1 586L1305.2 588.2L1311.4 590.9L1319.6 593.6L1327.8 595.8L1340.2 598.4L1352.5 600.4L1368.9 602.7L1387.4 604.8L1403.8 606.4L1428.4 608.4L1473.4 611.3L1904 517.2Z" fill="#5396a5"/>
<path d="M1904 447.3L1828.7 397.7L1666.6 396.3L1535.2 394.7L1436.7 392.9L1395.6 391.8L1364.8 390.6L1340.2 389.4L1323.7 388.2L1311.4 386.9L1301.1 385.2L1295 383.6L1292.9 382.8L1290.9 381.7L1288.8 379.9L1287.8 378.3L1287.1 376.3L1286.8 374.6L1286.8 554.2L1287.1 559.4L1287.8 565.4L1288.8 570.1L1290.9 575.3L1292.9 578.6L1295 581L1297 583L1299.1 584.6L1301.1 586L1305.2 588.2L1311.4 590.9L1319.6 593.6L1327.8 595.8L1340.2 598.4L1352.5 600.4L1368.9 602.7L1387.4 604.8L1403.8 606.4L1428.4 608.4L1473.4 611.3L1904 517.2Z" fill="#5494a5"/>
<path d="M1904 447.3L1837.2 403.2L1666.6 401.8L1535.2 400.1L1436.7 398.2L1395.6 397L1368.9 396L1344.3 394.7L1327.8 393.6L1311.4 391.9L1301.1 390.1L1295 388.4L1292.9 387.5L1290.9 386.4L1288.8 384.5L1287.8 382.9L1287.1 380.8L1286.8 379L1286.8 554.2L1287.1 559.4L1287.8 565.4L1288.8 570.1L1290.9 575.3L1292.9 578.6L1295 581L1297 583L1299.1 584.6L1301.1 586L1305.2 588.2L1311.4 590.9L1319.6 593.6L1327.8 595.8L1340.2 598.4L1352.5 600.4L1368.9 602.7L1387.4 604.8L1403.8 606.4L1428.4 608.4L1473.4 611.3L1904 517.2Z" fill="#5592a5"/>
<path d="M1904 447.3L1845.6 408.8L1666.6 407.2L1535.2 405.5L1436.7 403.5L1395.6 402.2L1368.9 401.2L1344.3 399.8L1327.8 398.6L1311.4 396.8L1301.1 395L1295 393.2L1292.9 392.3L1290.9 391.1L1288.8 389.2L1287.8 387.5L1287.1 385.3L1286.8 383.4L1286.8 554.2L1287.1 559.4L1287.8 565.4L1288.8 570.1L1290.9 575.3L1292.9 578.6L1295 581L1297 583L1299.1 584.6L1301.1 586L1305.2 588.2L1311.4 590.9L1319.6 593.6L1327.8 595.8L1340.2 598.4L1352.5 600.4L1368.9 602.7L1387.4 604.8L1403.8 606.4L1428.4 608.4L1473.4 611.3L1904 517.2Z" fill="#5690a5"/>
<path d="M1904 447.3L1854.1 414.4L1666.6 412.6L1535.2 410.8L1485.9 409.9L1436.7 408.7L1395.6 407.4L1368.9 406.3L1344.3 404.9L1327.8 403.7L1311.4 401.8L1301.1 399.9L1295 398L1292.9 397.1L1290.9 395.8L1288.8 393.8L1287.8 392L1287.1 389.7L1286.8 387.7L1286.8 554.2L1287.1 559.4L1287.8 565.4L1288.8 570.1L1290.9 575.3L1292.9 578.6L1295 581L1297 583L1299.1 584.6L1301.1 586L1305.2 588.2L1311.4 590.9L1319.6 593.6L1327.8 595.8L1340.2 598.4L1352.5 600.4L1368.9 602.7L1387.4 604.8L1403.8 606.4L1428.4 608.4L1473.4 611.3L1904 517.2Z" fill="#568fa5"/>
<path d="M1904 447.3L1862.5 420L1683.1 418.3L1551.6 416.5L1494.2 415.4L1444.9 414.2L1403.8 413L1373 411.7L1348.4 410.3L1327.8 408.7L1313.5 407.1L1303.2 405.3L1299.1 404.3L1295 402.8L1292.9 401.9L1290.9 400.6L1288.8 398.5L1287.8 396.6L1287.1 394.2L1286.8 392.1L1286.8 554.2L1287.1 559.4L1287.8 565.4L1288.8 570.1L1290.9 575.3L1292.9 578.6L1295 581L1297 583L1299.1 584.6L1301.1 586L1305.2 588.2L1311.4 590.9L1319.6 593.6L1327.8 595.8L1340.2 598.4L1352.5 600.4L1368.9 602.7L1387.4 604.8L1403.8 606.4L1428.4 608.4L1473.4 611.3L1904 517.2Z" fill="#578ca5"/>
<path d="M1904 447.3L1871 425.6L1699.5 423.9L1551.6 421.8L1494.2 420.7L1444.9 419.5L1403.8 418.2L1373 416.9L1348.4 415.5L1327.8 413.8L1313.5 412.1L1303.2 410.2L1299.1 409.1L1295 407.7L1292.9 406.6L1290.9 405.3L1288.8 403.1L1287.8 401.1L1287.1 398.7L1286.8 396.5L1286.8 554.2L1287.1 559.4L1287.8 565.4L1288.8 570.1L1290.9 575.3L1292.9 578.6L1295 581L1297 583L1299.1 584.6L1301.1 586L1305.2 588.2L1311.4 590.9L1319.6 593.6L1327.8 595.8L1340.2 598.4L1352.5 600.4L1368.9 602.7L1387.4 604.8L1403.8 606.4L1428.4 608.4L1473.4 611.3L1904 517.2Z" fill="#588aa5"/>
<path d="M1904 447.3L1879.5 431.1L1666.6 428.9L1584.5 427.8L1518.8 426.6L1461.3 425.2L1412 423.7L1373 422L1344.3 420.3L1327.8 418.8L1315.5 417.4L1305.2 415.6L1299.1 414L1295 412.5L1292.9 411.4L1290.9 410L1288.8 407.7L1287.8 405.7L1287.1 403.1L1286.8 400.9L1286.8 554.2L1287.1 559.4L1287.8 565.4L1288.8 570.1L1290.9 575.3L1292.9 578.6L1295 581L1297 583L1299.1 584.6L1301.1 586L1305.2 588.2L1311.4 590.9L1319.6 593.6L1327.8 595.8L1340.2 598.4L1352.5 600.4L1368.9 602.7L1387.4 604.8L1403.8 606.4L1428.4 608.4L1473.4 611.3L1904 517.2Z" fill="#5988a5"/>
<path d="M1904 447.3L1888 436.7L1683.1 434.6L1600.9 433.4L1535.2 432.2L1477.7 431L1428.4 429.5L1387.4 427.9L1352.5 426L1336 424.7L1319.6 422.9L1307.3 421L1299.1 418.9L1295 417.3L1292.9 416.2L1290.9 414.7L1288.8 412.4L1287.8 410.3L1287.1 407.6L1286.8 405.3L1286.8 554.2L1287.1 559.4L1287.8 565.4L1288.8 570.1L1290.9 575.3L1292.9 578.6L1295 581L1297 583L1299.1 584.6L1301.1 586L1305.2 588.2L1311.4 590.9L1319.6 593.6L1327.8 595.8L1340.2 598.4L1352.5 600.4L1368.9 602.7L1387.4 604.8L1403.8 606.4L1428.4 608.4L1473.4 611.3L1904 517.2Z" fill="#5a86a4"/>
<path d="M1904 447.3L1896.5 442.3L1699.5 440.2L1551.6 437.9L1485.9 436.5L1436.7 435.1L1395.6 433.5L1364.8 431.9L1340.2 430.2L1323.7 428.5L1311.4 426.7L1305.2 425.5L1301.1 424.4L1297 423L1295 422.1L1292.9 421L1290.9 419.4L1288.8 417L1287.8 414.8L1287.1 412.1L1286.8 409.6L1286.8 554.2L1287.1 559.4L1287.8 565.4L1288.8 570.1L1290.9 575.3L1292.9 578.6L1295 581L1297 583L1299.1 584.6L1301.1 586L1305.2 588.2L1311.4 590.9L1319.6 593.6L1327.8 595.8L1340.2 598.4L1352.5 600.4L1368.9 602.7L1387.4 604.8L1403.8 606.4L1428.4 608.4L1473.4 611.3L1904 517.2Z" fill="#5b84a4"/>
<path d="M1904 447.9L1715.9 445.9L1568.1 443.6L1502.4 442.2L1453.1 440.9L1412 439.4L1377.1 437.8L1352.5 436.2L1331.9 434.5L1315.5 432.4L1309.4 431.3L1303.2 429.9L1299.1 428.6L1295 426.9L1292.9 425.8L1290.9 424.2L1288.8 421.6L1287.8 419.4L1287.1 416.5L1286.8 414L1286.8 554.2L1287.1 559.4L1287.8 565.4L1288.8 570.1L1290.9 575.3L1292.9 578.6L1295 581L1297 583L1299.1 584.6L1301.1 586L1305.2 588.2L1311.4 590.9L1319.6 593.6L1327.8 595.8L1340.2 598.4L1352.5 600.4L1368.9 602.7L1387.4 604.8L1403.8 606.4L1428.4 608.4L1473.4 611.3L1904 517.2Z" fill="#5c82a4"/>
<path d="M1904 453.4L1715.9 451.4L1568.1 449L1502.4 447.5L1453.1 446.2L1412 444.7L1377.1 443L1352.5 441.4L1331.9 439.5L1315.5 437.4L1309.4 436.2L1303.2 434.8L1299.1 433.5L1295 431.7L1292.9 430.5L1290.9 428.9L1288.8 426.3L1287.8 424L1287.1 421L1286.8 418.4L1286.8 554.2L1287.1 559.4L1287.8 565.4L1288.8 570.1L1290.9 575.3L1292.9 578.6L1295 581L1297 583L1299.1 584.6L1301.1 586L1305.2 588.2L1311.4 590.9L1319.6 593.6L1327.8 595.8L1340.2 598.4L1352.5 600.4L1368.9 602.7L1387.4 604.8L1403.8 606.4L1428.4 608.4L1473.4 611.3L1904 517.2Z" fill="#5c80a4"/>
<path d="M1904 459L1715.9 456.8L1568.1 454.4L1502.4 452.9L1453.1 451.4L1412 449.9L1377.1 448.2L1352.5 446.5L1331.9 444.6L1315.5 442.4L1309.4 441.2L1303.2 439.7L1299.1 438.4L1295 436.6L1292.9 435.3L1290.9 433.6L1288.8 430.9L1287.8 428.5L1287.1 425.5L1286.8 422.8L1286.8 554.2L1287.1 559.4L1287.8 565.4L1288.8 570.1L1290.9 575.3L1292.9 578.6L1295 581L1297 583L1299.1 584.6L1301.1 586L1305.2 588.2L1311.4 590.9L1319.6 593.6L1327.8 595.8L1340.2 598.4L1352.5 600.4L1368.9 602.7L1387.4 604.8L1403.8 606.4L1428.4 608.4L1473.4 611.3L1904 517.2Z" fill="#5e7ea4"/>
<path d="M1904 464.5L1715.9 462.3L1633.8 461L1568.1 459.8L1502.4 458.2L1453.1 456.7L1412 455.1L1377.1 453.3L1352.5 451.6L1331.9 449.7L1315.5 447.4L1309.4 446.2L1303.2 444.6L1299.1 443.2L1295 441.4L1292.9 440.1L1290.9 438.3L1288.8 435.6L1287.8 433.1L1287.1 429.9L1286.8 427.2L1286.8 554.2L1287.1 559.4L1287.8 565.4L1288.8 570.1L1290.9 575.3L1292.9 578.6L1295 581L1297 583L1299.1 584.6L1301.1 586L1305.2 588.2L1311.4 590.9L1319.6 593.6L1327.8 595.8L1340.2 598.4L1352.5 600.4L1368.9 602.7L1387.4 604.8L1403.8 606.4L1428.4 608.4L1473.4 611.3L1904 517.2Z" fill="#5f7ca3"/>
<path d="M1904 470L1715.9 467.7L1633.8 466.4L1568.1 465.1L1502.4 463.5L1453.1 462L1412 460.4L1377.1 458.5L1352.5 456.8L1331.9 454.7L1323.7 453.7L1315.5 452.4L1309.4 451.1L1303.2 449.5L1299.1 448.1L1295 446.2L1292.9 444.9L1290.9 443.1L1288.8 440.2L1287.8 437.6L1287.1 434.4L1286.8 431.5L1286.8 554.2L1287.1 559.4L1287.8 565.4L1288.8 570.1L1290.9 575.3L1292.9 578.6L1295 581L1297 583L1299.1 584.6L1301.1 586L1305.2 588.2L1311.4 590.9L1319.6 593.6L1327.8 595.8L1340.2 598.4L1352.5 600.4L1368.9 602.7L1387.4 604.8L1403.8 606.4L1428.4 608.4L1473.4 611.3L1904 517.2Z" fill="#5f7aa3"/>
<path d="M1904 475.5L1715.9 473.2L1633.8 471.8L1568.1 470.5L1502.4 468.9L1453.1 467.3L1412 465.6L1377.1 463.7L1352.5 461.9L1331.9 459.8L1323.7 458.7L1315.5 457.4L1309.4 456.1L1303.2 454.4L1299.1 453L1295 451L1292.9 449.6L1290.9 447.8L1288.8 444.8L1287.8 442.2L1287.1 438.8L1286.8 435.9L1286.8 554.2L1287.1 559.4L1287.8 565.4L1288.8 570.1L1290.9 575.3L1292.9 578.6L1295 581L1297 583L1299.1 584.6L1301.1 586L1305.2 588.2L1311.4 590.9L1319.6 593.6L1327.8 595.8L1340.2 598.4L1352.5 600.4L1368.9 602.7L1387.4 604.8L1403.8 606.4L1428.4 608.4L1473.4 611.3L1904 517.2Z" fill="#6177a3"/>
<path d="M1904 481.1L1715.9 478.6L1633.8 477.3L1568.1 475.9L1502.4 474.2L1453.1 472.6L1412 470.9L1377.1 468.9L1352.5 467L1331.9 464.9L1323.7 463.8L1315.5 462.4L1309.4 461.1L1303.2 459.4L1299.1 457.9L1295 455.8L1292.9 454.4L1290.9 452.5L1288.8 449.5L1287.8 446.8L1287.1 443.3L1286.8 440.3L1286.8 554.2L1287.4 562.5L1287.8 565.4L1288.8 570.1L1290.9 575.3L1292.9 578.6L1295 581L1297 583L1301.1 586L1307.3 589.2L1315.5 592.4L1323.7 594.8L1336 597.6L1348.4 599.8L1364.8 602.2L1379.2 603.9L1395.6 605.6L1420.2 607.7L1444.9 609.5L1473.4 611.3L1904 517.2Z" fill="#6176a2"/>
<path d="M1904 486.6L1715.9 484.1L1633.8 482.7L1568.1 481.3L1502.4 479.5L1453.1 477.9L1412 476.1L1377.1 474.1L1352.5 472.2L1331.9 470L1323.7 468.8L1315.5 467.4L1309.4 466L1303.2 464.3L1299.1 462.7L1295 460.6L1292.9 459.2L1290.9 457.2L1288.8 454.1L1287.8 451.3L1287.1 447.8L1286.8 444.7L1286.8 554.2L1287.4 562.5L1287.8 565.4L1288.8 570.1L1290.9 575.3L1292.9 578.6L1295 581L1297 583L1301.1 586L1307.3 589.2L1315.5 592.4L1323.7 594.8L1336 597.6L1348.4 599.8L1364.8 602.2L1379.2 603.9L1395.6 605.6L1420.2 607.7L1444.9 609.5L1473.4 611.3L1904 517.2Z" fill="#6373a2"/>
<path d="M1904 492.1L1715.9 489.6L1633.8 488.1L1568.1 486.7L1502.4 484.9L1453.1 483.2L1412 481.3L1377.1 479.3L1352.5 477.3L1331.9 475L1323.7 473.8L1315.5 472.4L1309.4 471L1303.2 469.2L1299.1 467.6L1295 465.5L1292.9 464L1290.9 462L1288.8 458.8L1287.8 455.9L1287.1 452.2L1286.8 449.1L1286.8 554.2L1287.4 562.5L1287.8 565.4L1288.8 570.1L1290.9 575.3L1292.9 578.6L1295 581L1297 583L1301.1 586L1307.3 589.2L1315.5 592.4L1323.7 594.8L1336 597.6L1348.4 599.8L1364.8 602.2L1379.2 603.9L1395.6 605.6L1420.2 607.7L1444.9 609.5L1473.4 611.3L1904 517.2Z" fill="#6371a2"/>
<path d="M1904 497.6L1715.9 495L1633.8 493.5L1568.1 492L1502.4 490.2L1453.1 488.5L1412 486.6L1377.1 484.4L1352.5 482.4L1331.9 480.1L1323.7 478.9L1315.5 477.4L1309.4 475.9L1303.2 474.1L1299.1 472.5L1295 470.3L1292.9 468.7L1290.9 466.7L1288.8 463.4L1287.8 460.4L1287.1 456.7L1286.8 453.4L1286.8 554.2L1287.4 562.5L1287.8 565.4L1288.8 570.1L1290.9 575.3L1292.9 578.6L1295 581L1297 583L1301.1 586L1307.3 589.2L1315.5 592.4L1323.7 594.8L1336 597.6L1348.4 599.8L1364.8 602.2L1379.2 603.9L1395.6 605.6L1420.2 607.7L1444.9 609.5L1473.4 611.3L1904 517.2Z" fill="#656fa1"/>
<path d="M1904 503.2L1814.5 502L1715.9 500.5L1633.8 498.9L1568.1 497.4L1502.4 495.5L1453.1 493.7L1412 491.8L1377.1 489.6L1352.5 487.6L1331.9 485.2L1323.7 483.9L1315.5 482.4L1309.4 480.9L1303.2 479L1299.1 477.4L1295 475.1L1292.9 473.5L1290.9 471.4L1288.8 468L1287.8 465L1287.1 461.2L1286.8 457.8L1286.8 554.2L1287.1 559.4L1287.8 565.4L1288.8 570.1L1290.9 575.3L1292.9 578.6L1295 581L1297 583L1299.1 584.6L1301.1 586L1305.2 588.2L1309.4 590.1L1313.5 591.7L1321.7 594.2L1331.9 596.7L1344.3 599.1L1360.7 601.6L1377.1 603.7L1395.6 605.6L1420.2 607.7L1444.9 609.5L1473.4 611.3L1904 517.2Z" fill="#656da0"/>
<path d="M1904 508.7L1814.5 507.5L1715.9 505.9L1633.8 504.3L1568.1 502.8L1502.4 500.9L1453.1 499L1412 497.1L1377.1 494.8L1352.5 492.7L1331.9 490.2L1323.7 489L1315.5 487.4L1309.4 485.9L1303.2 483.9L1299.1 482.2L1295 479.9L1292.9 478.3L1290.9 476.1L1288.8 472.7L1287.8 469.6L1287.1 465.6L1286.8 462.2L1286.8 554.2L1287.1 559.4L1287.8 565.4L1288.8 570.1L1290.9 575.3L1292.9 578.6L1295 581L1297 583L1299.1 584.6L1301.1 586L1305.2 588.2L1309.4 590.1L1313.5 591.7L1321.7 594.2L1331.9 596.7L1344.3 599.1L1360.7 601.6L1377.1 603.7L1395.6 605.6L1420.2 607.7L1444.9 609.5L1473.4 611.3L1904 517.2Z" fill="#666a9f"/>
<path d="M1904 514.2L1814.5 513L1715.9 511.4L1633.8 509.8L1568.1 508.2L1502.4 506.2L1453.1 504.3L1412 502.3L1377.1 500L1352.5 497.8L1331.9 495.3L1323.7 494L1315.5 492.4L1309.4 490.8L1303.2 488.9L1299.1 487.1L1295 484.7L1292.9 483.1L1290.9 480.9L1288.8 477.3L1287.8 474.1L1287.1 470.1L1286.8 466.6L1286.8 554.2L1287.1 559.4L1287.8 565.4L1288.8 570.1L1290.9 575.3L1292.9 578.6L1295 581L1297 583L1301.1 586L1305.2 588.2L1309.4 590.1L1313.5 591.7L1319.6 593.6L1331.9 596.7L1348.4 599.8L1368.9 602.7L1395.6 605.6L1420.2 607.7L1444.9 609.5L1473.4 611.3L1904 517.2Z" fill="#67679e"/>
<path d="M1286.8 554.2L1287.4 562.5L1288.3 568.1L1288.8 570.1L1290.9 575.3L1292.9 578.6L1295 581L1297 583L1299.1 584.6L1303.2 587.2L1309.4 590.1L1317.6 593L1327.8 595.8L1340.2 598.4L1356.6 601L1373 603.2L1395.6 605.6L1420.2 607.7L1444.9 609.5L1473.4 611.3L1892.9 519.6L1715.9 516.8L1633.8 515.2L1568.1 513.6L1502.4 511.5L1453.1 509.6L1412 507.5L1377.1 505.2L1352.5 502.9L1331.9 500.4L1323.7 499L1315.5 497.4L1309.4 495.8L1303.2 493.8L1299.1 492L1295 489.5L1292.9 487.9L1290.9 485.6L1288.8 481.9L1287.8 478.7L1287.1 474.6L1286.8 471Z" fill="#68659e"/>
<path d="M1286.8 554.2L1287.4 562.5L1288.3 568.1L1288.8 570.1L1290.9 575.3L1292.9 578.6L1295 581L1297 583L1299.1 584.6L1303.2 587.2L1309.4 590.1L1317.6 593L1327.8 595.8L1340.2 598.4L1356.6 601L1373 603.2L1395.6 605.6L1420.2 607.7L1444.9 609.5L1473.4 611.3L1869.2 524.8L1765.2 523.2L1683.1 521.7L1617.4 520.2L1551.6 518.5L1494.2 516.6L1444.9 514.5L1403.8 512.3L1373 510L1348.4 507.6L1336 506.1L1327.8 504.8L1319.6 503.3L1313.5 501.9L1307.3 500.1L1303.2 498.7L1299.1 496.9L1295 494.4L1292.9 492.6L1290.9 490.3L1288.8 486.6L1287.8 483.3L1287.1 479L1286.8 475.4Z" fill="#69639c"/>
<path d="M1286.8 554.2L1287.4 562.5L1288.3 568.1L1288.8 570.1L1290.9 575.3L1292.9 578.6L1295 581L1297 583L1299.1 584.6L1303.2 587.2L1309.4 590.1L1317.6 593L1327.8 595.8L1340.2 598.4L1356.6 601L1373 603.2L1395.6 605.6L1420.2 607.7L1444.9 609.5L1473.4 611.3L1845.6 530L1748.8 528.4L1666.6 526.8L1600.9 525.2L1535.2 523.3L1485.9 521.6L1436.7 519.4L1395.6 516.9L1368.9 514.8L1344.3 512.2L1327.8 509.8L1319.6 508.3L1311.4 506.3L1305.2 504.4L1301.1 502.7L1297 500.6L1295 499.2L1292.9 497.4L1290.9 495L1288.8 491.2L1287.8 487.8L1287.1 483.5L1286.8 479.7Z" fill="#6a619b"/>
<path d="M1286.8 554.2L1287.4 562.5L1288.3 568.1L1288.8 570.1L1290.9 575.3L1292.9 578.6L1295 581L1297 583L1299.1 584.6L1303.2 587.2L1309.4 590.1L1317.6 593L1327.8 595.8L1340.2 598.4L1356.6 601L1373 603.2L1395.6 605.6L1420.2 607.7L1444.9 609.5L1473.4 611.3L1822 535.1L1732.3 533.5L1650.2 531.8L1584.5 530.2L1518.8 528.1L1469.5 526.2L1428.4 524.2L1395.6 522.2L1364.8 519.6L1352.5 518.3L1340.2 516.8L1323.7 514.1L1317.6 512.9L1311.4 511.3L1305.2 509.3L1301.1 507.6L1297 505.4L1295 504L1292.9 502.2L1290.9 499.7L1288.8 495.9L1287.8 492.4L1287.1 488L1286.8 484.1Z" fill="#6a5e9a"/>
<path d="M1286.8 554.2L1287.4 562.5L1288.3 568.1L1288.8 570.1L1290.9 575.3L1292.9 578.6L1295 581L1297 583L1299.1 584.6L1303.2 587.2L1309.4 590.1L1317.6 593L1327.8 595.8L1340.2 598.4L1356.6 601L1373 603.2L1395.6 605.6L1420.2 607.7L1444.9 609.5L1473.4 611.3L1798.7 540.2L1715.9 538.7L1633.8 536.9L1568.1 535.1L1518.8 533.5L1469.5 531.5L1428.4 529.5L1387.4 526.8L1360.7 524.4L1340.2 521.9L1323.7 519.2L1317.6 517.9L1311.4 516.3L1305.2 514.3L1301.1 512.5L1297 510.3L1295 508.8L1292.9 507L1290.9 504.5L1288.8 500.5L1287.8 496.9L1287.1 492.4L1286.8 488.5Z" fill="#6b5c99"/>
<path d="M1286.8 554.2L1287.4 562.5L1288.3 568.1L1288.8 570.1L1290.9 575.3L1292.9 578.6L1295 581L1297 583L1299.1 584.6L1303.2 587.2L1309.4 590.1L1317.6 593L1327.8 595.8L1340.2 598.4L1356.6 601L1373 603.2L1395.6 605.6L1420.2 607.7L1444.9 609.5L1473.4 611.3L1775.4 545.3L1699.5 543.8L1617.4 541.9L1551.6 539.9L1502.4 538.2L1461.3 536.4L1420.2 534.2L1387.4 532L1360.7 529.5L1340.2 527L1323.7 524.2L1317.6 522.9L1311.4 521.2L1305.2 519.2L1301.1 517.4L1297 515.1L1295 513.6L1292.9 511.7L1290.9 509.2L1288.8 505.1L1287.8 501.5L1287.1 496.9L1286.8 492.9Z" fill="#6c5997"/>
<path d="M1286.8 554.2L1287.4 562.5L1288.3 568.1L1288.8 570.1L1290.9 575.3L1292.9 578.6L1295 581L1297 583L1299.1 584.6L1303.2 587.2L1309.4 590.1L1317.6 593L1327.8 595.8L1340.2 598.4L1356.6 601L1373 603.2L1395.6 605.6L1420.2 607.7L1444.9 609.5L1473.4 611.3L1752.4 550.3L1666.6 548.5L1600.9 546.8L1551.6 545.3L1494.2 543.2L1453.1 541.3L1412 539L1379.2 536.5L1356.6 534.2L1336 531.5L1327.8 530.1L1319.6 528.4L1313.5 526.8L1307.3 524.9L1303.2 523.3L1299.1 521.2L1295 518.4L1292.9 516.5L1290.9 513.9L1288.8 509.8L1287.8 506.1L1287.1 501.4L1286.8 497.3Z" fill="#6c5796"/>
<path d="M1286.8 554.2L1287.4 562.5L1288.3 568.1L1288.8 570.1L1290.9 575.3L1292.9 578.6L1295 581L1297 583L1299.1 584.6L1303.2 587.2L1309.4 590.1L1317.6 593L1327.8 595.8L1340.2 598.4L1356.6 601L1373 603.2L1395.6 605.6L1420.2 607.7L1444.9 609.5L1473.4 611.3L1729.5 555.3L1650.2 553.5L1584.5 551.7L1535.2 550.1L1485.9 548.2L1444.9 546.2L1403.8 543.6L1377.1 541.5L1352.5 538.9L1336 536.6L1327.8 535.1L1319.6 533.4L1313.5 531.8L1307.3 529.8L1303.2 528.2L1299.1 526.1L1295 523.3L1292.9 521.3L1290.9 518.6L1288.8 514.4L1287.8 510.6L1287.1 505.8L1286.8 501.6Z" fill="#6c5493"/>
<path d="M1286.8 554.2L1287.4 562.5L1288.3 568.1L1288.8 570.1L1290.9 575.3L1292.9 578.6L1295 581L1297 583L1299.1 584.6L1303.2 587.2L1309.4 590.1L1317.6 593L1327.8 595.8L1340.2 598.4L1356.6 601L1373 603.2L1395.6 605.6L1420.2 607.7L1444.9 609.5L1473.4 611.3L1706.7 560.3L1650.2 559L1584.5 557.1L1535.2 555.5L1477.7 553.1L1436.7 551L1403.8 548.9L1377.1 546.7L1352.5 544L1336 541.6L1327.8 540.2L1319.6 538.4L1313.5 536.8L1307.3 534.8L1303.2 533.1L1299.1 531L1295 528.1L1292.9 526.1L1290.9 523.4L1288.8 519L1287.8 515.2L1287.1 510.3L1286.8 506Z" fill="#6d5191"/>
<path d="M1286.8 554.2L1287.4 562.5L1288.3 568.1L1288.8 570.1L1290.9 575.3L1292.9 578.6L1295 581L1297 583L1299.1 584.6L1303.2 587.2L1309.4 590.1L1317.6 593L1327.8 595.8L1340.2 598.4L1356.6 601L1373 603.2L1395.6 605.6L1420.2 607.7L1444.9 609.5L1473.4 611.3L1684.2 565.2L1617.4 563.5L1568.1 562L1518.8 560.2L1469.5 558L1428.4 555.8L1395.6 553.4L1368.9 551L1348.4 548.6L1331.9 546L1323.7 544.4L1317.6 542.9L1311.4 541.2L1307.3 539.7L1303.2 538L1299.1 535.8L1295 532.9L1292.9 530.8L1290.9 528.1L1288.8 523.7L1287.8 519.8L1287.1 514.8L1286.8 510.4Z" fill="#6d4f8f"/>
<path d="M1286.8 554.2L1287.4 562.5L1288.3 568.1L1288.8 570.1L1290.9 575.3L1292.9 578.6L1295 581L1297 583L1299.1 584.6L1303.2 587.2L1309.4 590.1L1317.6 593L1327.8 595.8L1340.2 598.4L1356.6 601L1373 603.2L1395.6 605.6L1420.2 607.7L1444.9 609.5L1473.4 611.3L1661.8 570.1L1600.9 568.4L1551.6 566.8L1502.4 564.9L1461.3 562.9L1428.4 561L1395.6 558.7L1368.9 556.2L1356.6 554.8L1344.3 553.1L1327.8 550.3L1315.5 547.4L1309.4 545.4L1305.2 543.8L1299.1 540.7L1295 537.7L1292.9 535.6L1290.9 532.8L1288.8 528.3L1287.8 524.3L1287.1 519.2L1286.8 514.8Z" fill="#6d4c8d"/>
<path d="M1286.8 554.2L1287.4 562.5L1288.3 568.1L1288.8 570.1L1290.9 575.3L1292.9 578.6L1295 581L1297 583L1299.1 584.6L1303.2 587.2L1309.4 590.1L1317.6 593L1327.8 595.8L1340.2 598.4L1356.6 601L1373 603.2L1387.4 604.8L1412 607.1L1436.7 609L1469.5 611.1L1473.4 611.3L1639.7 574.9L1584.5 573.3L1535.2 571.6L1485.9 569.5L1444.9 567.3L1412 565.2L1387.4 563.2L1360.7 560.4L1340.2 557.6L1331.9 556.2L1323.7 554.5L1313.5 551.8L1307.3 549.6L1303.2 547.8L1299.1 545.6L1297 544.2L1295 542.5L1292.9 540.4L1290.9 537.5L1288.8 533L1287.8 528.9L1287.4 526.4L1286.8 519.2Z" fill="#6d4a8b"/>
<path d="M1286.8 554.2L1287.4 562.5L1288.3 568.1L1288.8 570.1L1290.9 575.3L1292.9 578.6L1295 581L1297 583L1299.1 584.6L1303.2 587.2L1309.4 590.1L1317.6 593L1327.8 595.8L1336 597.6L1348.4 599.8L1364.8 602.2L1379.2 603.9L1395.6 605.6L1420.2 607.7L1444.9 609.5L1473.4 611.3L1617.8 579.7L1568.1 578.1L1518.8 576.2L1477.7 574.4L1436.7 572.1L1403.8 569.8L1379.2 567.6L1356.6 565.1L1340.2 562.7L1331.9 561.2L1323.7 559.5L1313.5 556.7L1307.3 554.6L1303.2 552.8L1299.1 550.5L1297 549L1295 547.3L1292.9 545.2L1290.9 542.3L1288.8 537.6L1287.8 533.4L1287.4 530.9L1286.8 523.5Z" fill="#6d4688"/>
<path d="M1286.8 554.2L1287.1 559.4L1287.8 565.4L1288.8 570.1L1290.9 575.3L1292.9 578.6L1295 581L1297 583L1301.1 586L1307.3 589.2L1313.5 591.7L1321.7 594.2L1331.9 596.7L1340.2 598.4L1352.5 600.4L1364.8 602.2L1379.2 603.9L1395.6 605.6L1428.4 608.4L1473.4 611.3L1596.2 584.5L1551.6 582.9L1502.4 580.9L1461.3 578.8L1428.4 576.8L1395.6 574.3L1373 572.1L1352.5 569.7L1336 567.1L1321.7 564L1311.4 561.1L1307.3 559.5L1303.2 557.7L1299.1 555.3L1297 553.9L1295 552.2L1292.9 550L1290.9 547L1288.8 542.2L1287.8 538L1287.4 535.4L1286.8 527.9Z" fill="#6c4486"/>
<path d="M1286.8 554.2L1287.1 559.4L1287.8 565.4L1288.8 570.1L1290.9 575.3L1292.9 578.6L1295 581L1297 583L1299.1 584.6L1303.2 587.2L1307.3 589.2L1313.5 591.7L1319.6 593.6L1327.8 595.8L1336 597.6L1348.4 599.8L1360.7 601.6L1373 603.2L1395.6 605.6L1420.2 607.7L1444.9 609.5L1473.4 611.3L1574.8 589.1L1535.2 587.6L1485.9 585.4L1453.1 583.6L1420.2 581.5L1395.6 579.5L1368.9 576.9L1348.4 574.2L1331.9 571.4L1319.6 568.5L1313.5 566.7L1309.4 565.3L1305.2 563.6L1301.1 561.5L1297 558.7L1295 557L1292.9 554.7L1290.9 551.7L1288.8 546.9L1287.8 542.6L1287.4 540L1286.8 532.3Z" fill="#6c4183"/>
<path d="M1286.8 554.2L1287.1 559.4L1287.8 565.4L1288.8 570.1L1290.9 575.3L1292.9 578.6L1295 581L1297 583L1299.1 584.6L1303.2 587.2L1307.3 589.2L1313.5 591.7L1319.6 593.6L1327.8 595.8L1336 597.6L1344.3 599.1L1356.6 601L1379.2 603.9L1403.8 606.4L1436.7 609L1473.4 611.3L1553.8 593.7L1518.8 592.3L1477.7 590.3L1444.9 588.4L1412 586.1L1387.4 584L1360.7 581L1344.3 578.7L1327.8 575.6L1321.7 574.1L1315.5 572.4L1307.3 569.4L1301.1 566.4L1297 563.6L1295 561.8L1292.9 559.5L1290.9 556.4L1288.8 551.5L1287.8 547.1L1287.4 544.5L1286.8 536.7Z" fill="#6c3d80"/>
<path d="M1286.8 554.2L1287.1 559.4L1287.8 565.4L1288.8 570.1L1290.9 575.3L1292.9 578.6L1295 581L1297 583L1299.1 584.6L1301.1 586L1305.2 588.2L1309.4 590.1L1315.5 592.4L1321.7 594.2L1327.8 595.8L1336 597.6L1344.3 599.1L1356.6 601L1368.9 602.7L1395.6 605.6L1428.4 608.4L1473.4 611.3L1533.1 598.2L1469.5 595.2L1436.7 593.1L1412 591.3L1387.4 589.2L1373 587.7L1356.6 585.6L1340.2 583.1L1331.9 581.5L1323.7 579.7L1313.5 576.7L1307.3 574.4L1303.2 572.4L1299.1 570L1297 568.4L1295 566.6L1292.9 564.3L1290.9 561.1L1288.8 556.1L1287.8 551.7L1287.4 549L1286.8 541.1Z" fill="#6b3b7d"/>
<path d="M1286.8 554.2L1287.4 562.5L1287.8 565.4L1288.8 570.1L1290.9 575.3L1292.9 578.6L1295 581L1297 583L1301.1 586L1305.2 588.2L1309.4 590.1L1313.5 591.7L1319.6 593.6L1331.9 596.7L1344.3 599.1L1356.6 601L1373 603.2L1387.4 604.8L1403.8 606.4L1428.4 608.4L1473.4 611.3L1512.7 602.7L1453.1 599.5L1428.4 597.8L1403.8 595.9L1379.2 593.5L1360.7 591.3L1344.3 588.9L1331.9 586.6L1321.7 584.2L1315.5 582.4L1311.4 581L1305.2 578.4L1301.1 576.2L1299.1 574.8L1297 573.3L1295 571.4L1292.9 569.1L1290.9 565.9L1288.8 560.8L1287.8 556.3L1287.1 550.5L1286.8 545.4Z" fill="#6a377a"/>
<path d="M1286.8 554.2L1287.4 562.5L1287.8 565.4L1288.8 570.1L1290.9 575.3L1292.9 578.6L1295 581L1297 583L1299.1 584.6L1301.1 586L1305.2 588.2L1309.4 590.1L1313.5 591.7L1323.7 594.8L1331.9 596.7L1344.3 599.1L1356.6 601L1368.9 602.7L1395.6 605.6L1412 607.1L1436.7 609L1473.4 611.3L1492.8 607L1461.3 605.3L1436.7 603.7L1412 601.8L1387.4 599.6L1368.9 597.5L1352.5 595.3L1336 592.5L1323.7 589.7L1313.5 586.7L1309.4 585.1L1305.2 583.3L1301.1 581.1L1299.1 579.7L1297 578.1L1295 576.2L1292.9 573.8L1290.9 570.6L1288.8 565.4L1287.8 560.8L1287.4 558L1286.8 549.8Z" fill="#6a3577"/>
</g>
<path d="M1288 138L1288.3 135.2L1289 132L1290.1 129.4L1292.1 126.6L1294.2 124.8L1296.2 123.5L1298.3 122.4L1302.4 120.8L1306.5 119.6L1312.6 118.1L1318.8 117L1329.1 115.5L1337.3 114.5L1349.6 113.3L1361.9 112.3L1392 110.5M1288 159.9L1288.6 156.1L1289.5 153.6L1290.1 152.6L1292.1 150.2L1294.2 148.7L1296.2 147.6L1298.3 146.7L1302.4 145.3L1306.5 144.3L1312.6 143L1320.9 141.8L1329.1 140.8L1341.4 139.6L1353.7 138.6L1388.6 136.6L1429.2 135M1288 181.8L1288.6 178.7L1289.5 176.6L1290.1 175.8L1292.1 173.8L1294.2 172.6L1298.3 170.9L1304.4 169.3L1310.6 168.2L1318.8 167.1L1329.1 166.1L1341.4 165.1L1357.8 164.1L1374.2 163.3L1413.3 161.8L1467.5 160.3M1288 203.8L1288.6 201.3L1289 200.4L1290.1 199L1292.1 197.5L1294.2 196.5L1296.2 195.7L1300.3 194.7L1306.5 193.6L1314.7 192.6L1322.9 191.8L1333.2 191.1L1349.6 190.1L1388.6 188.7L1437.9 187.4L1506.6 186.2M1288 225.7L1288.6 223.8L1289 223.2L1290.1 222.2L1292.1 221.1L1296.2 219.8L1302.4 218.8L1308.5 218L1316.7 217.4L1329.1 216.6L1361.9 215.4L1405 214.3L1470.7 213.3L1546.4 212.5M1288 247.6L1288.6 246.4L1290.1 245.4L1292.1 244.7L1296.2 243.9L1302.4 243.2L1310.6 242.7L1333.2 241.8L1370.1 241L1421.5 240.3L1495.4 239.6L1586.6 239.1M1288 269.5L1288.6 269L1290.1 268.6L1294.2 268.1L1298.3 267.9L1314.7 267.4L1341.4 267L1446.1 266.4L1627.3 266M1288 291.4L1289 291.7L1292.1 291.9L1300.3 292.2L1345.5 292.5L1462.5 292.8L1668.3 293.1M1288 313.3L1288.3 313.8L1289 314.5L1290.1 315L1292.1 315.5L1296.2 316.1L1300.3 316.5L1308.5 317L1320.9 317.5L1353.7 318.2L1405 318.9L1479 319.4L1709.6 320.4M1288 335.2L1288.3 336.2L1289 337.3L1290.1 338.2L1292.1 339.2L1296.2 340.2L1300.3 340.9L1308.5 341.8L1320.9 342.6L1337.3 343.3L1357.8 344L1413.3 345.1L1495.4 346.1L1602.2 347L1751.2 347.8M1288 357.1L1288.3 358.5L1289 360.1L1290.1 361.4L1292.1 362.8L1294.2 363.7L1296.2 364.3L1302.4 365.6L1312.6 367L1325 368L1341.4 369L1361.9 369.9L1388.6 370.7L1429.7 371.7L1520 373.1L1635 374.3L1793 375.5M1288 379L1288.3 380.8L1289 382.9L1290.1 384.5L1292.1 386.4L1294.2 387.5L1296.2 388.4L1302.4 390.1L1306.5 390.9L1312.6 391.9L1329.1 393.6L1345.5 394.7L1370.1 396L1396.8 397L1437.9 398.2L1487.2 399.3L1536.5 400.1L1667.9 401.8L1835 403.2M1288 400.9L1288.3 403.1L1289 405.7L1290.1 407.7L1292.1 410L1294.2 411.4L1296.2 412.5L1300.3 414L1304.4 415.1L1308.5 416L1314.7 417.1L1329.1 418.8L1349.6 420.6L1374.2 422L1405 423.4L1446.1 424.8L1495.4 426L1552.9 427.2L1618.6 428.3L1700.7 429.3L1877.1 431.1M1288 422.8L1288.3 425.5L1289 428.5L1290.1 430.9L1292.1 433.6L1294.2 435.3L1296.2 436.6L1300.3 438.4L1304.4 439.7L1310.6 441.2L1316.7 442.4L1325 443.6L1333.2 444.6L1353.7 446.5L1378.3 448.2L1413.3 449.9L1454.3 451.4L1503.6 452.9L1569.3 454.4L1635 455.6L1717.1 456.8L1903.7 459M1288 444.7L1288.3 447.8L1289 451.3L1290.1 454.1L1292.1 457.2L1294.2 459.2L1296.2 460.6L1300.3 462.7L1304.4 464.3L1310.6 466L1316.7 467.4L1325 468.8L1333.2 470L1353.7 472.2L1378.3 474.1L1413.3 476.1L1454.3 477.9L1503.6 479.5L1569.3 481.3L1635 482.7L1717.1 484.1L1799.3 485.3L1903.7 486.6M1288 466.6L1288.3 470.1L1289 474.1L1290.1 477.3L1292.1 480.9L1294.2 483.1L1296.2 484.7L1300.3 487.1L1304.4 488.9L1310.6 490.8L1316.7 492.4L1325 494L1333.2 495.3L1341.4 496.4L1353.7 497.8L1378.3 500L1413.3 502.3L1454.3 504.3L1503.6 506.2L1569.3 508.2L1635 509.8L1717.1 511.4L1799.3 512.7L1903.7 514.2M1288 488.5L1288.3 492.4L1289 496.9L1290.1 500.5L1292.1 504.5L1294.2 507L1296.2 508.8L1298.3 510.3L1302.4 512.5L1306.5 514.3L1312.6 516.3L1318.8 517.9L1325 519.2L1333.2 520.7L1341.4 521.9L1361.9 524.4L1388.6 526.8L1405 527.9L1429.7 529.5L1470.7 531.5L1520 533.5L1569.3 535.1L1635 536.9L1700.7 538.3L1791.2 540.1M1288 510.4L1288.3 514.8L1289 519.8L1290.1 523.7L1292.1 528.1L1294.2 530.8L1296.2 532.9L1298.3 534.5L1300.3 535.8L1304.4 538L1308.5 539.7L1312.6 541.2L1318.8 542.9L1325 544.4L1333.2 546L1349.6 548.6L1370.1 551L1396.8 553.4L1429.7 555.8L1470.7 558L1520 560.2L1569.3 562L1618.6 563.5L1677.7 565M1288 532.3L1288.6 540L1289 542.6L1290.1 546.9L1292.1 551.7L1294.2 554.7L1296.2 557L1298.3 558.7L1302.4 561.5L1306.5 563.6L1310.6 565.3L1314.7 566.7L1320.9 568.5L1333.2 571.4L1349.6 574.2L1370.1 576.9L1396.8 579.5L1421.5 581.5L1454.3 583.6L1487.2 585.4L1520 586.9L1569.4 588.9" fill="none" stroke="#000" stroke-width="2" stroke-linejoin="round" stroke-linecap="round"/>
<path d="M1288 554.2L1288.6 562.5L1289.5 568.1L1290.1 570.1L1292.1 575.3L1294.2 578.6L1296.2 581L1298.3 583L1300.3 584.6L1304.4 587.2L1310.6 590.1L1318.8 593L1329.1 595.8L1341.4 598.4L1357.8 601L1374.2 603.2L1388.6 604.8L1413.3 607.1L1437.9 609L1469.1 611" fill="none" stroke="#000" stroke-width="1.5" stroke-linejoin="round" stroke-linecap="round"/>
<path d="M1257.3 54.7V682.1H1938.9M1288 682.1v7.9M1442 682.1v7.9M1596 682.1v7.9M1750 682.1v7.9M1904 682.1v7.9M1257.3 109h-7.9M1257.3 244.7h-7.9M1257.3 380.4h-7.9M1257.3 516.1h-7.9M1257.3 651.8h-7.9" fill="none" stroke="#000" stroke-width="2.1" stroke-linecap="butt" stroke-linejoin="miter"/>
<text transform="translate(1288,721.3)" font-size="29.4" text-anchor="middle">0</text>
<text transform="translate(1442,721.3)" font-size="29.4" text-anchor="middle">500</text>
<text transform="translate(1593.7,721.3) scale(0.96,1)" font-size="29.4" text-anchor="middle">1,000</text>
<text transform="translate(1748.4,721.3) scale(0.96,1)" font-size="29.4" text-anchor="middle">1,500</text>
<text transform="translate(1900,721.3) scale(0.96,1)" font-size="29.4" text-anchor="middle">2,000</text>
<text transform="translate(1243.7,117.9)" font-size="29.4" text-anchor="end">0</text>
<text transform="translate(1243.7,253.6)" font-size="29.4" text-anchor="end">10</text>
<text transform="translate(1243.7,389.3)" font-size="29.4" text-anchor="end">20</text>
<text transform="translate(1243.7,525)" font-size="29.4" text-anchor="end">30</text>
<text transform="translate(1243.7,660.7)" font-size="29.4" text-anchor="end">40</text>
<text transform="translate(1605.2,761.8)" font-size="29.2" text-anchor="middle">Precipitation of warmest quarter (mm)</text>
<text transform="translate(1179.2,369) rotate(-90)" font-size="29.2" text-anchor="middle">Mean temperature of warmest quarter (°C)</text>
<text transform="translate(1158.3,33) scale(1.1,1)" font-size="31" font-weight="bold" stroke="#000" stroke-width="0.7" stroke-linejoin="round">b</text>
<text transform="translate(1254.5,34)" font-size="29.2"><tspan font-style="italic">R</tspan><tspan font-size="19.5" dy="-9.7">2</tspan><tspan dy="9.7"> = 0.61</tspan></text>
<rect x="2033" y="37" width="50.7" height="618.3" fill="url(#vg)"/>
<path d="M2033 654.5h10.4M2083.7 654.5h-10.4M2033 592.87h10.4M2083.7 592.87h-10.4M2033 531.24h10.4M2083.7 531.24h-10.4M2033 469.61h10.4M2083.7 469.61h-10.4M2033 407.98h10.4M2083.7 407.98h-10.4M2033 346.35h10.4M2083.7 346.35h-10.4M2033 284.72h10.4M2083.7 284.72h-10.4M2033 223.09h10.4M2083.7 223.09h-10.4M2033 161.46h10.4M2083.7 161.46h-10.4M2033 99.83h10.4M2083.7 99.83h-10.4M2033 38.2h10.4M2083.7 38.2h-10.4" stroke="#fff" stroke-width="2" fill="none"/>
<text transform="translate(2093.5,664.7)" font-size="29.4">0</text>
<text transform="translate(2093.5,603.07)" font-size="29.4">10</text>
<text transform="translate(2093.5,541.44)" font-size="29.4">20</text>
<text transform="translate(2093.5,479.81)" font-size="29.4">30</text>
<text transform="translate(2093.5,418.18)" font-size="29.4">40</text>
<text transform="translate(2093.5,356.55)" font-size="29.4">50</text>
<text transform="translate(2093.5,294.92)" font-size="29.4">60</text>
<text transform="translate(2093.5,233.29)" font-size="29.4">70</text>
<text transform="translate(2093.5,171.66)" font-size="29.4">80</text>
<text transform="translate(2093.5,110.03)" font-size="29.4">90</text>
<text transform="translate(2093.5,48.4)" font-size="29.4">100</text>
<text transform="translate(2007.7,355) rotate(-90)" font-size="29.2" text-anchor="middle">Proportion of annuals among herbs (%)</text>
</g>
<g id="panel-c">
<g transform="translate(0.6,0)" shape-rendering="crispEdges">
<path d="M752.3 1340.8L752.3 1270.9L230.9 927.1L204.9 921.8L184.3 917L167.9 912.5L155.6 908.3L147.4 904.7L143.3 902.3L141.2 900.8L139.2 899L137.1 896.5L135.7 893.5L135.1 890.8L135.1 1294.6L135.7 1355.9L136.6 1404.6L137.1 1424.3L138.9 1474.8Z" fill="#feec50"/>
<path d="M752.3 1270.9L258.7 945.4L227.5 938.3L200.8 931.5L180.2 925.5L170 922L161.8 918.9L155.6 916.2L149.4 913L145.3 910.4L141.2 907L139.2 904.8L137.1 901.8L135.7 898.1L135.1 894.8L135.1 1294.6L135.7 1355.9L136.6 1404.6L137.1 1424.3L138.9 1474.8L752.3 1340.8Z" fill="#f8eb4c"/>
<path d="M752.3 1270.9L291 966.7L268.5 961.1L243.9 954.6L213.1 945.9L200.8 942.1L188.5 938L176.1 933.4L167.9 930L159.7 926.2L153.5 922.8L147.4 918.8L143.3 915.4L141.2 913.3L139.2 910.7L137.1 907L135.7 902.7L135.1 898.9L135.1 1294.6L135.7 1355.9L136.6 1404.6L137.1 1424.3L138.9 1474.8L752.3 1340.8Z" fill="#f2ea49"/>
<path d="M752.3 1270.9L328.9 991.7L276.7 977L252.1 969.7L235.7 964.6L217.2 958.5L200.8 952.7L188.5 948L176.1 942.7L165.9 937.8L157.7 933.2L151.5 929.1L147.4 925.9L145.3 924L141.2 919.5L139.2 916.5L137.1 912.3L135.7 907.4L135.1 902.9L135.1 1294.6L135.7 1355.9L136.6 1404.6L137.1 1424.3L138.9 1474.8L752.3 1340.8Z" fill="#eeea48"/>
<path d="M752.3 1270.9L374.2 1021.6L301.4 998.8L276.7 990.8L252.1 982.5L227.5 973.7L213.1 968.3L196.7 961.6L184.3 956L172 949.9L161.8 943.9L153.5 938.2L147.4 932.9L143.3 928.5L141.2 925.7L139.2 922.3L137.1 917.6L136.6 916L135.7 912L135.1 907L135.1 1294.6L135.7 1355.9L136.6 1404.6L137.1 1424.3L138.9 1474.8L752.3 1340.8Z" fill="#e8e946"/>
<path d="M752.3 1270.9L430 1058.4L309.6 1016.5L276.7 1004.6L252.1 995.4L227.5 985.6L209 977.7L192.6 970L184.3 965.8L176.1 961.3L165.9 955L157.7 949.2L151.5 944.1L147.4 940L145.3 937.6L143.3 935L141.2 931.9L139.2 928.1L137.1 922.9L135.7 916.6L135.1 911L135.1 1294.6L135.7 1355.9L136.6 1404.6L137.1 1424.3L138.9 1474.8L752.3 1340.8Z" fill="#e2e847"/>
<path d="M752.3 1270.9L503.1 1106.6L465.7 1091.7L432.8 1078.9L317.8 1034.7L293.2 1025L268.5 1015.1L243.9 1004.7L221.3 994.5L200.8 984.5L184.3 975.6L172 967.9L161.8 960.6L157.7 957.3L153.5 953.6L147.4 947.1L143.3 941.6L141.2 938.2L139.2 934L137.1 928.2L136.6 926.2L135.7 921.2L135.1 915L135.1 1294.6L135.7 1355.9L136.6 1404.6L137.1 1424.3L138.9 1474.8L752.3 1340.8Z" fill="#dde848"/>
<path d="M752.3 1270.9L615.6 1180.8L597.1 1171.8L564.2 1156.3L531.4 1141.3L498.5 1126.7L432.8 1098.4L317.8 1050.1L293.2 1039.5L268.5 1028.6L243.9 1017.2L227.5 1009.2L213.1 1001.8L200.8 995.1L192.6 990.4L184.3 985.3L176.1 979.9L170 975.5L163.8 970.7L157.7 965.3L153.5 961.3L149.4 956.7L145.3 951.3L143.3 948.1L141.2 944.4L139.2 939.8L137.1 933.4L136.6 931.3L135.7 925.9L135.1 919.1L135.1 1294.6L135.7 1355.9L136.6 1404.6L137.1 1424.3L138.9 1474.8L752.3 1340.8Z" fill="#d7e74a"/>
<path d="M752.3 1285.5L751.1 1285.5L728.5 1271.5L712.1 1261.6L695.6 1251.9L662.8 1233.1L646.3 1224L613.5 1206.3L597.1 1197.7L564.2 1180.9L514.9 1156.6L465.7 1133.2L416.4 1110.4L326 1069.2L285 1050L260.3 1038L243.9 1029.7L225.4 1019.9L209 1010.6L192.6 1000.6L184.3 995.1L176.1 989.2L167.9 982.7L161.8 977.3L155.6 971.2L151.5 966.5L147.4 961.2L143.3 954.6L141.2 950.6L139.2 945.6L137.1 938.7L136.6 936.3L135.7 930.5L135.1 923.1L135.1 1294.6L135.7 1355.9L136.6 1404.6L137.1 1424.3L138.9 1474.8L752.3 1340.8Z" fill="#d3e64d"/>
<path d="M752.3 1318.3L751.1 1318.3L728.5 1303.2L712.1 1292.5L695.6 1282.1L662.8 1261.8L646.3 1252L613.5 1232.8L597.1 1223.5L564.2 1205.4L514.9 1179.2L465.7 1153.9L416.4 1129.4L326 1084.9L285 1064.1L260.3 1051.2L243.9 1042.2L225.4 1031.7L209 1021.6L192.6 1010.8L184.3 1004.8L176.1 998.5L167.9 991.5L161.8 985.6L155.6 979L151.5 974L147.4 968.2L143.3 961.2L141.2 956.8L139.2 951.5L137.1 944L136.6 941.4L135.7 935.1L135.1 927.1L135.1 1294.6L135.7 1355.9L136.6 1404.6L137.1 1424.3L138.9 1474.8L752.3 1340.8Z" fill="#cce550"/>
<path d="M135.1 1294.6L135.7 1355.9L136.6 1404.6L137.1 1424.3L138.9 1474.8L740.3 1343.4L712.1 1323.5L695.6 1312.3L662.8 1290.5L646.3 1279.9L613.5 1259.4L597.1 1249.4L564.2 1229.9L514.9 1201.8L465.7 1174.7L416.4 1148.3L326 1100.5L285 1078.3L260.3 1064.4L243.9 1054.7L225.4 1043.4L209 1032.6L192.6 1021L184.3 1014.6L176.1 1007.8L167.9 1000.2L161.8 994L155.6 986.9L151.5 981.5L147.4 975.3L143.3 967.7L141.2 963.1L139.2 957.3L137.1 949.3L136.6 946.5L135.7 939.7L135.1 931.2Z" fill="#c8e553"/>
<path d="M135.1 1294.6L135.7 1355.9L136.6 1404.6L137.1 1424.3L138.9 1474.8L706.9 1350.7L679.2 1330.7L662.8 1319.2L629.9 1296.8L597.1 1275.3L580.6 1264.8L547.8 1244.3L514.9 1224.4L465.7 1195.4L416.4 1167.2L326 1116.2L285 1092.4L260.3 1077.5L243.9 1067.3L225.4 1055.1L209 1043.6L200.8 1037.5L192.6 1031.2L184.3 1024.4L176.1 1017.1L167.9 1009L161.8 1002.3L155.6 994.8L151.5 989L147.4 982.4L143.3 974.3L141.2 969.3L139.2 963.1L137.1 954.5L136.6 951.6L135.7 944.4L135.1 935.2Z" fill="#c2e457"/>
<path d="M135.1 1294.6L135.7 1355.9L136.6 1404.6L137.1 1424.3L138.9 1474.8L675.7 1357.5L646.3 1335.9L613.5 1312.5L580.6 1290L564.2 1279L531.4 1257.5L498.5 1236.6L449.2 1206.1L326 1131.8L285 1106.5L260.3 1090.7L243.9 1079.8L225.4 1066.9L209 1054.6L200.8 1048.2L192.6 1041.3L184.3 1034.1L176.1 1026.3L167.9 1017.8L161.8 1010.7L155.6 1002.6L151.5 996.5L147.4 989.4L143.3 980.8L141.2 975.5L139.2 968.9L137.1 959.8L136.6 956.7L135.7 949L135.1 939.3Z" fill="#bde35a"/>
<path d="M135.1 1294.6L135.7 1355.9L136.6 1404.6L137.1 1424.3L138.9 1474.8L646.5 1363.9L629.9 1351.3L597.1 1327L564.2 1303.5L531.4 1280.7L498.5 1258.6L449.2 1226.2L326 1147.5L285 1120.6L260.3 1103.9L243.9 1092.3L225.4 1078.6L209 1065.6L200.8 1058.8L192.6 1051.5L184.3 1043.9L176.1 1035.6L167.9 1026.6L161.8 1019L155.6 1010.5L151.5 1004L147.4 996.5L143.3 987.4L141.2 981.7L139.2 974.8L137.1 965.1L136.6 961.8L135.7 953.6L135.1 943.3Z" fill="#b7e25e"/>
<path d="M135.1 1294.6L135.7 1355.9L136.6 1404.6L137.1 1424.3L138.9 1474.8L619 1369.9L597.1 1352.9L564.2 1328L531.4 1304L498.5 1280.5L465.7 1257.6L432.8 1235.1L317.8 1157.5L293.2 1140.5L276.7 1128.9L252.1 1111L235.7 1098.5L221.3 1087L209 1076.6L200.8 1069.4L192.6 1061.7L184.3 1053.6L176.1 1044.9L167.9 1035.3L161.8 1027.4L155.6 1018.3L151.5 1011.5L147.4 1003.6L143.3 993.9L141.2 988L139.2 980.6L137.1 970.4L136.6 966.9L135.7 958.2L135.1 947.3Z" fill="#b1e162"/>
<path d="M135.1 1294.6L135.7 1355.9L136.6 1404.6L137.1 1424.3L138.9 1474.8L593.1 1375.6L564.2 1352.6L547.8 1339.8L514.9 1314.8L482.1 1290.4L432.8 1254.7L317.8 1172.9L293.2 1155L276.7 1142.8L252.1 1123.8L235.7 1110.6L221.3 1098.5L204.9 1083.8L196.7 1076L188.5 1067.7L180.2 1058.9L172 1049.3L165.9 1041.4L159.7 1032.7L155.6 1026.2L151.5 1019L147.4 1010.6L143.3 1000.5L141.2 994.2L139.2 986.4L137.1 975.7L136.6 972L135.7 962.8L135.1 951.4Z" fill="#ade065"/>
<path d="M135.1 1294.6L135.7 1355.9L136.6 1404.6L137.1 1424.3L138.9 1474.8L568.8 1380.9L531.4 1350.4L514.9 1337.4L482.1 1311.7L432.8 1274.2L317.8 1188.2L293.2 1169.4L276.7 1156.6L252.1 1136.7L235.7 1122.8L221.3 1110.1L204.9 1094.6L196.7 1086.4L188.5 1077.7L180.2 1068.4L172 1058.3L165.9 1050.1L159.7 1040.9L155.6 1034.1L151.5 1026.5L147.4 1017.7L143.3 1007L141.2 1000.4L139.2 992.3L137.1 980.9L136.6 977.1L135.7 967.5L135.1 955.4Z" fill="#a6df69"/>
<path d="M135.1 1294.6L135.7 1355.9L136.6 1404.6L137.1 1424.3L138.9 1474.8L545.8 1385.9L514.9 1360L465.7 1319.8L416.4 1280.8L326 1210.1L285 1177.1L260.3 1156.6L235.7 1135L221.3 1121.7L204.9 1105.5L196.7 1096.8L188.5 1087.7L180.2 1078L172 1067.4L165.9 1058.7L159.7 1049.1L155.6 1041.9L151.5 1034L147.4 1024.8L143.3 1013.6L141.2 1006.6L139.2 998.1L137.1 986.2L136.6 982.2L135.7 972.1L135.1 959.5Z" fill="#a2de6b"/>
<path d="M135.1 1294.6L135.7 1355.9L136.6 1404.6L137.1 1424.3L138.9 1474.8L524.2 1390.6L482.1 1354.4L449.2 1326.9L416.4 1299.7L326 1225.8L301.4 1205.2L276.7 1184.2L252.1 1162.4L235.7 1147.2L217.2 1129.1L209 1120.6L200.8 1111.8L192.6 1102.5L184.3 1092.7L176.1 1082.1L170 1073.5L163.8 1064.1L157.7 1053.6L153.5 1045.7L149.4 1036.8L145.3 1026.3L143.3 1020.1L141.2 1012.9L139.2 1003.9L137.1 991.5L136.6 987.2L135.7 976.7L135.1 963.5Z" fill="#9cdd6f"/>
<path d="M135.1 1294.6L135.7 1355.9L136.6 1404.6L137.1 1424.3L138.9 1474.8L503.7 1395.1L482.1 1375.8L449.2 1347L416.4 1318.7L326 1241.4L301.4 1220L285 1205.4L260.3 1182.9L235.7 1159.3L217.2 1140.5L209 1131.6L200.8 1122.4L192.6 1112.7L184.3 1102.4L176.1 1091.4L170 1082.4L163.8 1072.6L157.7 1061.6L153.5 1053.4L149.4 1044.1L145.3 1033.1L143.3 1026.6L141.2 1019.1L139.2 1009.7L137.1 996.8L136.6 992.3L135.7 981.3L135.1 967.5Z" fill="#98dc72"/>
<path d="M135.1 1294.6L135.7 1355.9L136.6 1404.6L137.1 1424.3L138.9 1474.8L484.4 1399.3L432.8 1352.3L317.8 1249.7L293.2 1227.2L276.7 1211.8L252.1 1188.1L235.7 1171.5L227.5 1162.9L213.1 1147.3L204.9 1137.9L196.7 1128L188.5 1117.6L180.2 1106.6L172 1094.5L167.9 1088L161.8 1077.4L157.7 1069.7L153.5 1061.1L149.4 1051.4L145.3 1040L143.3 1033.2L141.2 1025.3L139.2 1015.6L137.1 1002.1L136.6 997.4L135.7 986L135.1 971.6Z" fill="#92da75"/>
<path d="M135.1 1294.6L135.7 1355.9L136.6 1404.6L137.1 1424.3L138.9 1474.8L466.2 1403.3L416.4 1356.5L326 1272.7L301.4 1249.5L276.7 1225.6L252.1 1200.9L235.7 1183.7L227.5 1174.7L213.1 1158.5L204.9 1148.7L196.7 1138.4L188.5 1127.6L180.2 1116.1L172 1103.5L167.9 1096.8L161.8 1085.8L157.7 1077.7L153.5 1068.8L149.4 1058.7L145.3 1046.8L143.3 1039.7L141.2 1031.5L139.2 1021.4L137.1 1007.3L136.6 1002.5L135.7 990.6L135.1 975.6Z" fill="#8dd879"/>
<path d="M135.1 1294.6L135.7 1355.9L136.6 1404.6L137.1 1424.3L138.9 1474.8L448.9 1407.1L416.4 1375.5L317.8 1280.4L293.2 1256L268.5 1231L243.9 1204.9L225.4 1184.2L209 1164.6L200.8 1154.2L192.6 1143.3L184.3 1131.7L176.1 1119.3L170 1109.1L165.9 1101.9L161.8 1094.1L157.7 1085.7L153.5 1076.5L149.4 1066L145.3 1053.6L143.3 1046.3L141.2 1037.7L139.2 1027.2L137.1 1012.6L136.6 1007.6L135.7 995.2L135.1 979.6Z" fill="#89d77b"/>
<path d="M135.1 1294.6L135.7 1355.9L136.6 1404.6L137.1 1424.3L138.9 1474.8L432.6 1410.7L317.8 1295.7L293.2 1270.5L268.5 1244.5L243.9 1217.4L225.4 1195.9L209 1175.6L200.8 1164.8L192.6 1153.5L184.3 1141.5L176.1 1128.5L170 1118L165.9 1110.5L161.8 1102.5L157.7 1093.8L153.5 1084.1L149.4 1073.3L145.3 1060.4L143.3 1052.8L141.2 1044L139.2 1033.1L137.1 1017.9L136.6 1012.7L135.7 999.8L135.1 983.7Z" fill="#84d67e"/>
<path d="M135.1 1294.6L135.7 1355.9L136.6 1404.6L137.1 1424.3L138.9 1474.8L417.1 1414L350.7 1345.3L317.8 1311.1L285 1276L260.3 1248.8L243.9 1229.9L235.7 1220.2L221.3 1202.5L213.1 1192L204.9 1181.1L196.7 1169.6L188.5 1157.6L180.2 1144.7L176.1 1137.8L170 1126.9L163.8 1115.1L159.7 1106.4L155.6 1096.9L151.5 1086.4L147.4 1074.2L143.3 1059.4L141.2 1050.2L139.2 1038.9L137.1 1023.2L136.6 1017.8L135.7 1004.5L135.1 987.7Z" fill="#80d580"/>
<path d="M135.1 1294.6L135.7 1355.9L136.6 1404.6L137.1 1424.3L138.9 1474.8L402.4 1417.3L342.5 1353.1L309.6 1317.5L285 1290.2L260.3 1262L243.9 1242.4L235.7 1232.4L221.3 1214.1L213.1 1203.2L204.9 1191.9L196.7 1180.1L188.5 1167.6L180.2 1154.2L176.1 1147.1L170 1135.8L163.8 1123.5L159.7 1114.6L155.6 1104.8L151.5 1093.9L147.4 1081.3L143.3 1065.9L141.2 1056.4L139.2 1044.7L137.1 1028.4L136.6 1022.9L135.7 1009.1L135.1 991.8Z" fill="#7bd383"/>
<path d="M135.1 1294.6L135.7 1355.9L136.6 1404.6L137.1 1424.3L138.9 1474.8L388.5 1420.3L334.2 1360.2L301.4 1323.2L276.7 1294.7L252.1 1265.1L235.7 1244.5L227.5 1233.9L213.1 1214.4L204.9 1202.7L196.7 1190.5L184.3 1170.8L176.1 1156.4L172 1148.7L165.9 1136.4L161.8 1127.5L157.7 1117.8L153.5 1107.2L149.4 1095.1L147.4 1088.4L143.3 1072.5L141.2 1062.6L139.2 1050.5L137.1 1033.7L136.6 1028L135.7 1013.7L135.1 995.8Z" fill="#78d285"/>
<path d="M135.1 1294.6L135.7 1355.9L136.6 1404.6L137.1 1424.3L138.9 1474.8L375.3 1423.2L334.2 1376.1L301.4 1337.9L276.7 1308.5L252.1 1278L235.7 1256.7L227.5 1245.7L213.1 1225.6L204.9 1213.5L196.7 1200.9L184.3 1180.5L176.1 1165.7L172 1157.8L165.9 1145.1L161.8 1135.8L157.7 1125.9L153.5 1114.9L149.4 1102.4L147.4 1095.4L143.3 1079L141.2 1068.9L139.2 1056.4L137.1 1039L136.6 1033.1L135.7 1018.3L135.1 999.8Z" fill="#73d088"/>
<path d="M135.1 1294.6L135.7 1355.9L136.6 1404.6L137.1 1424.3L138.9 1474.8L362.8 1425.9L326 1382.3L293.2 1342.7L268.5 1312L243.9 1280L225.4 1254.6L209 1230.6L200.8 1217.9L192.6 1204.5L184.3 1190.3L180.2 1182.8L176.1 1175L170 1162.6L163.8 1149L159.7 1139.2L155.6 1128.4L151.5 1116.4L147.4 1102.5L145.3 1094.5L143.3 1085.5L141.2 1075.1L139.2 1062.2L137.1 1044.3L135.7 1023L135.1 1003.9Z" fill="#6fce8a"/>
<path d="M135.1 1294.6L135.7 1355.9L136.6 1404.6L137.1 1424.3L138.9 1474.8L351 1428.5L317.8 1387.8L285 1346.7L260.3 1314.7L243.9 1292.5L225.4 1266.4L209 1241.6L200.8 1228.5L192.6 1214.7L184.3 1200L180.2 1192.3L176.1 1184.3L170 1171.5L163.8 1157.5L159.7 1147.4L155.6 1136.2L151.5 1123.8L147.4 1109.5L145.3 1101.3L143.3 1092.1L141.2 1081.3L139.2 1068L137.1 1049.6L135.7 1027.6L135.1 1007.9Z" fill="#6bcc8c"/>
<path d="M135.1 1294.6L135.7 1355.9L136.6 1404.6L137.1 1424.3L138.9 1474.8L339.8 1430.9L301.4 1382.2L276.7 1350L252.1 1316.5L235.7 1293.2L225.4 1278.1L217.2 1265.6L209 1252.6L200.8 1239.1L188.5 1217.5L180.2 1201.9L176.1 1193.6L170 1180.4L165.9 1171L161.8 1160.9L157.7 1150L151.5 1131.3L147.4 1116.6L145.3 1108.2L143.3 1098.6L141.2 1087.5L139.2 1073.9L137.1 1054.8L135.7 1032.2L135.1 1011.9Z" fill="#67ca8e"/>
<path d="M135.1 1294.6L135.7 1355.9L136.6 1404.6L137.1 1424.3L138.9 1474.8L329.1 1433.3L301.4 1396.9L276.7 1363.8L252.1 1329.4L235.7 1305.4L225.4 1289.8L217.2 1276.9L209 1263.6L200.8 1249.7L188.5 1227.4L180.2 1211.4L176.1 1202.9L170 1189.3L165.9 1179.6L161.8 1169.2L157.7 1158L151.5 1138.8L147.4 1123.7L145.3 1115L143.3 1105.2L141.2 1093.8L139.2 1079.7L137.1 1060.1L135.7 1036.8L135.1 1016Z" fill="#64c990"/>
<path d="M135.1 1294.6L135.7 1355.9L136.6 1404.6L137.1 1424.3L138.9 1474.8L319 1435.5L293.2 1400.4L268.5 1366L252.1 1342.2L243.9 1330L227.5 1304.8L213.1 1281.5L204.9 1267.5L196.7 1252.9L184.3 1229.3L176.1 1212.2L172 1203L163.8 1183L159.7 1171.9L155.6 1159.8L151.5 1146.3L149.4 1138.8L145.3 1121.8L143.3 1111.7L141.2 1100L139.2 1085.5L137.1 1065.4L135.7 1041.5L135.1 1020Z" fill="#60c792"/>
<path d="M135.1 1294.6L135.7 1355.9L136.6 1404.6L137.1 1424.3L138.9 1474.8L309.4 1437.6L285 1403.2L260.3 1367.4L243.9 1342.5L225.4 1313.3L217.2 1299.7L209 1285.6L196.7 1263.3L184.3 1239.1L176.1 1221.5L172 1212L163.8 1191.5L159.7 1180.1L155.6 1167.7L151.5 1153.8L149.4 1146.1L145.3 1128.6L143.3 1118.3L141.2 1106.2L139.2 1091.3L137.1 1070.7L135.7 1046.1L135.1 1024.1Z" fill="#5dc693"/>
<path d="M135.1 1294.6L135.7 1355.9L136.6 1404.6L137.1 1424.3L138.9 1474.8L300.3 1439.6L276.7 1405.2L252.1 1367.9L235.7 1341.9L225.4 1325L217.2 1311.1L204.9 1289.1L192.6 1265.7L184.3 1248.8L180.2 1240L176.1 1230.7L170 1216L165.9 1205.5L161.8 1194.3L157.7 1182.1L153.5 1168.6L149.4 1153.4L147.4 1144.9L145.3 1135.4L143.3 1124.8L141.2 1112.4L139.2 1097.2L137.1 1075.9L135.7 1050.7L135.1 1028.1Z" fill="#5ac495"/>
<path d="M135.1 1294.6L135.7 1355.9L136.6 1404.6L137.1 1424.3L138.9 1474.8L291.7 1441.5L268.5 1406.5L252.1 1380.8L243.9 1367.6L227.5 1340.3L213.1 1315.1L200.8 1292.1L188.5 1267.4L180.2 1249.5L176.1 1240L167.9 1219.6L163.8 1208.5L159.7 1196.5L153.5 1176.3L149.4 1160.7L147.4 1151.9L145.3 1142.3L143.3 1131.4L141.2 1118.7L139.2 1103L137.1 1081.2L135.7 1055.3L135.1 1032.1Z" fill="#58c297"/>
<path d="M135.1 1294.6L135.7 1355.9L136.6 1404.6L137.1 1424.3L138.9 1474.8L283.5 1443.2L260.3 1406.9L243.9 1380.1L225.4 1348.5L217.2 1333.8L209 1318.6L196.7 1294.5L184.3 1268.4L176.1 1249.3L170 1233.9L165.9 1222.8L159.7 1204.7L153.5 1184L149.4 1168L147.4 1159L145.3 1149.1L143.3 1137.9L141.2 1124.9L139.2 1108.8L137.1 1086.5L135.7 1059.9L135.1 1036.2Z" fill="#55c098"/>
<path d="M135.1 1294.6L135.7 1355.9L136.6 1404.6L137.1 1424.3L138.9 1474.8L275.7 1444.9L252.1 1406.5L235.7 1378.4L221.3 1352.8L209 1329.6L196.7 1304.9L184.3 1278.1L176.1 1258.6L170 1242.8L165.9 1231.4L159.7 1212.9L153.5 1191.7L149.4 1175.3L147.4 1166.1L145.3 1155.9L143.3 1144.5L141.2 1131.1L139.2 1114.6L137.1 1091.8L135.7 1064.6L135.1 1040.2Z" fill="#53be99"/>
<path d="M135.1 1294.6L135.7 1355.9L136.6 1404.6L137.1 1424.3L138.9 1474.8L268.3 1446.6L252.1 1419.3L235.7 1390.6L221.3 1364.3L213.1 1348.6L204.9 1332.3L192.6 1306.4L184.3 1287.9L180.2 1278.1L172 1257.2L163.8 1234L157.7 1214.2L151.5 1191.3L147.4 1173.1L145.3 1162.7L143.3 1151L141.2 1137.3L139.2 1120.5L137.1 1097.1L135.7 1069.2L135.1 1044.2Z" fill="#51bc9b"/>
<path d="M135.1 1294.6L135.7 1355.9L136.6 1404.6L137.1 1424.3L138.9 1474.8L261.3 1448.1L243.9 1417.6L227.5 1387.6L213.1 1359.8L200.8 1334.5L188.5 1307.3L180.2 1287.6L176.1 1277.2L170 1260.6L165.9 1248.7L161.8 1236L155.6 1214.8L151.5 1198.8L149.4 1189.9L145.3 1169.5L143.3 1157.5L141.2 1143.6L139.2 1126.3L137.1 1102.3L135.7 1073.8L135.1 1048.3Z" fill="#4fba9c"/>
<path d="M135.1 1294.6L135.7 1355.9L136.6 1404.6L137.1 1424.3L138.9 1474.8L254.7 1449.5L235.7 1415L221.3 1387.4L209 1362.6L196.7 1336.1L188.5 1317.3L184.3 1307.4L176.1 1286.5L167.9 1263.5L161.8 1244.3L155.6 1222.7L151.5 1206.2L149.4 1197.1L145.3 1176.4L143.3 1164.1L141.2 1149.8L139.2 1132.1L137.1 1107.6L135.7 1078.4L135.1 1052.3Z" fill="#4eb99d"/>
<path d="M135.1 1294.6L135.7 1355.9L136.6 1404.6L137.1 1424.3L138.9 1474.8L248.4 1450.9L235.7 1427.1L225.4 1407.2L217.2 1390.7L204.9 1364.8L192.6 1337L184.3 1317.2L176.1 1295.8L167.9 1272.3L163.8 1259.5L159.7 1245.6L153.5 1222.4L149.4 1204.4L145.3 1183.2L143.3 1170.6L141.2 1156L139.2 1138L137.1 1112.9L135.7 1083.1L135.1 1056.4Z" fill="#4db69e"/>
<path d="M135.1 1294.6L135.7 1355.9L136.6 1404.6L137.1 1424.3L138.9 1474.8L242.4 1452.2L227.5 1423L213.1 1393.4L200.8 1366.4L192.6 1347.2L184.3 1326.9L176.1 1305.1L167.9 1281.1L163.8 1267.9L159.7 1253.8L153.5 1230.1L149.4 1211.7L145.3 1190L143.3 1177.2L141.2 1162.2L139.2 1143.8L137.1 1118.2L135.7 1087.7L135.1 1060.4Z" fill="#4cb59f"/>
<path d="M135.1 1294.6L135.7 1355.9L136.6 1404.6L137.1 1424.3L138.9 1474.8L236.7 1453.5L221.3 1422.1L209 1395.6L196.7 1367.3L188.5 1347.2L180.2 1325.8L172 1302.4L167.9 1289.8L163.8 1276.4L157.7 1254.3L151.5 1228.7L147.4 1208.5L145.3 1196.8L143.3 1183.7L141.2 1168.5L139.2 1149.6L137.1 1123.4L135.7 1092.3L135.1 1064.4Z" fill="#4cb3a0"/>
<path d="M135.1 1294.6L135.7 1355.9L136.6 1404.6L137.1 1424.3L138.9 1474.8L231.3 1454.6L217.2 1424.8L204.9 1397.2L192.6 1367.6L184.3 1346.5L176.1 1323.7L167.9 1298.6L161.8 1277.7L155.6 1254.1L151.5 1236.2L147.4 1215.5L145.3 1203.6L143.3 1190.3L141.2 1174.7L139.2 1155.4L137.1 1128.7L135.7 1096.9L135.1 1068.5Z" fill="#4bb1a0"/>
<path d="M135.1 1294.6L135.7 1355.9L136.6 1404.6L137.1 1424.3L138.9 1474.8L226.2 1455.8L213.1 1426.9L204.9 1408L192.6 1377.8L184.3 1356.2L176.1 1332.9L167.9 1307.4L161.8 1286.1L155.6 1262L151.5 1243.7L147.4 1222.6L145.3 1210.5L143.3 1196.8L141.2 1180.9L139.2 1161.3L137.1 1134L135.7 1101.6L135.1 1072.5Z" fill="#4bafa1"/>
<path d="M135.1 1294.6L135.7 1355.9L136.6 1404.6L137.1 1424.3L138.9 1474.8L221.3 1456.8L209 1428.6L200.8 1408.8L188.5 1377.2L180.2 1354.3L172 1329.5L165.9 1309.2L159.7 1286.6L153.5 1260.8L149.4 1240.9L145.3 1217.3L143.3 1203.4L141.2 1187.1L139.2 1167.1L137.1 1139.3L136.6 1129.8L135.7 1106.2L135.1 1076.5Z" fill="#4cada2"/>
<path d="M135.1 1294.6L135.7 1355.9L136.6 1404.6L137.1 1424.3L138.9 1474.8L216.7 1457.8L204.9 1429.6L196.7 1408.9L188.5 1387.2L180.2 1363.9L172 1338.6L165.9 1317.8L159.7 1294.8L153.5 1268.5L149.4 1248.1L145.3 1224.1L143.3 1209.9L141.2 1193.4L139.2 1172.9L137.1 1144.6L136.6 1134.9L135.7 1110.8L135.1 1080.6Z" fill="#4caba2"/>
<path d="M135.1 1294.6L135.7 1355.9L136.6 1404.6L137.1 1424.3L138.9 1474.8L212.4 1458.8L200.8 1430L192.6 1408.4L184.3 1385.5L176.1 1360.8L170 1340.8L163.8 1318.9L157.7 1294.5L153.5 1276.2L149.4 1255.4L145.3 1230.9L143.3 1216.4L141.2 1199.6L139.2 1178.8L137.1 1149.8L136.6 1139.9L135.7 1115.4L135.1 1084.6Z" fill="#4ca9a3"/>
<path d="M135.1 1294.6L135.7 1355.9L136.6 1404.6L137.1 1424.3L138.9 1474.8L208.2 1459.7L196.7 1429.8L188.5 1407.1L180.2 1382.9L172 1356.7L165.9 1335.1L159.7 1311.2L155.6 1293.4L151.5 1273.7L147.4 1250.8L145.3 1237.8L143.3 1223L141.2 1205.8L139.2 1184.6L137.1 1155.1L136.6 1145L135.7 1120.1L135.1 1088.7Z" fill="#4da7a3"/>
<path d="M135.1 1294.6L135.7 1355.9L136.6 1404.6L137.1 1424.3L138.9 1474.8L204.3 1460.5L196.7 1440.2L188.5 1417.1L180.2 1392.5L172 1365.7L165.9 1343.7L159.7 1319.4L155.6 1301.3L151.5 1281.1L147.4 1257.9L145.3 1244.6L143.3 1229.5L141.2 1212L139.2 1190.4L137.1 1160.4L136.6 1150.1L135.7 1124.7L135.1 1092.7Z" fill="#4ea5a4"/>
<path d="M135.1 1294.6L135.7 1355.9L136.6 1404.6L137.1 1424.3L138.9 1474.8L200.6 1461.3L192.6 1439L184.3 1414.8L176.1 1388.7L170 1367.5L163.8 1344.4L157.7 1318.6L153.5 1299.2L149.4 1277.3L145.3 1251.4L143.3 1236.1L141.2 1218.2L139.2 1196.2L137.1 1165.7L136.6 1155.2L135.7 1129.3L135.1 1096.7Z" fill="#4ea4a4"/>
<path d="M135.1 1294.6L135.7 1355.9L136.6 1404.6L137.1 1424.3L138.9 1474.8L197.1 1462.1L188.5 1437.1L180.2 1411.5L172 1383.8L167.9 1368.8L161.8 1344.5L157.7 1326.6L153.5 1306.9L149.4 1284.6L145.3 1258.2L143.3 1242.6L141.2 1224.5L139.2 1202.1L137.1 1170.9L136.6 1160.3L135.7 1133.9L135.1 1100.8Z" fill="#4fa1a4"/>
<path d="M135.1 1294.6L135.7 1355.9L136.6 1404.6L137.1 1424.3L138.9 1474.8L193.7 1462.8L188.5 1447L180.2 1421.1L172 1392.8L167.9 1377.6L161.8 1352.8L157.7 1334.6L153.5 1314.6L149.4 1291.9L145.3 1265L143.3 1249.2L141.2 1230.7L139.2 1207.9L137.1 1176.2L136.6 1165.4L135.7 1138.6L135.1 1104.8Z" fill="#4fa0a4"/>
<path d="M135.1 1294.6L135.7 1355.9L136.6 1404.6L137.1 1424.3L138.9 1474.8L190.6 1463.5L184.3 1444.1L176.1 1416.6L170 1394.2L163.8 1369.9L159.7 1352.1L155.6 1332.7L151.5 1311.1L147.4 1286.2L145.3 1271.9L143.3 1255.7L141.2 1236.9L139.2 1213.7L137.1 1181.5L136.6 1170.5L135.7 1143.2L135.1 1108.8Z" fill="#509ea4"/>
<path d="M135.1 1294.6L135.7 1355.9L136.6 1404.6L137.1 1424.3L138.9 1474.8L187.6 1464.2L180.2 1440.1L176.1 1425.9L170 1403.1L163.8 1378.4L159.7 1360.3L155.6 1340.6L151.5 1318.6L147.4 1293.2L145.3 1278.7L143.3 1262.3L141.2 1243.1L139.2 1219.6L137.1 1186.8L136.6 1175.6L135.7 1147.8L135.1 1112.9Z" fill="#519ba5"/>
<path d="M135.1 1294.6L135.7 1355.9L136.6 1404.6L137.1 1424.3L138.9 1474.8L184.7 1464.8L176.1 1435.1L172 1419.9L165.9 1395.5L161.8 1377.9L157.7 1358.7L153.5 1337.6L149.4 1313.7L147.4 1300.3L145.3 1285.5L143.3 1268.8L141.2 1249.4L139.2 1225.4L137.1 1192.1L136.6 1180.7L135.7 1152.4L135.1 1116.9Z" fill="#529aa5"/>
<path d="M135.1 1294.6L135.7 1355.9L136.6 1404.6L137.1 1424.3L138.9 1474.8L182 1465.4L176.1 1444.4L170 1421L163.8 1395.4L159.7 1376.7L155.6 1356.3L151.5 1333.6L147.4 1307.4L145.3 1292.3L143.3 1275.4L141.2 1255.6L139.2 1231.2L137.1 1197.3L135.7 1157L135.1 1121Z" fill="#5398a5"/>
<path d="M135.1 1294.6L135.7 1355.9L136.6 1404.6L137.1 1424.3L138.9 1474.8L179.5 1466L172 1438L167.9 1421.5L163.8 1403.8L159.7 1384.9L155.6 1364.2L151.5 1341.1L147.4 1314.4L145.3 1299.1L143.3 1281.9L141.2 1261.8L139.2 1237L137.1 1202.6L135.7 1161.7L135.1 1125Z" fill="#5396a5"/>
<path d="M135.1 1294.6L135.7 1355.9L136.6 1404.6L137.1 1424.3L138.9 1474.8L177.1 1466.5L172 1447.1L165.9 1421.4L161.8 1402.9L157.7 1382.8L153.5 1360.7L151.5 1348.6L147.4 1321.5L145.3 1306L143.3 1288.4L141.2 1268L139.2 1242.9L137.1 1207.9L135.7 1166.3L135.1 1129Z" fill="#5494a5"/>
<path d="M135.1 1294.6L135.7 1355.9L136.6 1404.6L137.1 1424.3L138.9 1474.8L174.8 1467L170 1447.7L165.9 1430.1L161.8 1411.2L157.7 1390.8L153.5 1368.3L151.5 1356.1L147.4 1328.6L145.3 1312.8L143.3 1295L141.2 1274.3L139.2 1248.7L137.1 1213.2L135.7 1170.9L135.1 1133.1Z" fill="#5592a5"/>
<path d="M135.1 1294.6L135.7 1355.9L136.6 1404.6L137.1 1424.3L138.9 1474.8L172.6 1467.5L167.9 1447.8L163.8 1429.3L159.7 1409.5L155.6 1387.8L151.5 1363.5L149.4 1350.2L145.3 1319.6L143.3 1301.5L141.2 1280.5L139.2 1254.5L137.1 1218.5L135.7 1175.5L135.1 1137.1Z" fill="#5690a5"/>
<path d="M135.1 1294.6L135.7 1355.9L136.6 1404.6L137.1 1424.3L138.9 1474.8L170.5 1467.9L165.9 1447.4L161.8 1427.9L157.7 1406.9L153.5 1383.7L149.4 1357.4L147.4 1342.7L145.3 1326.4L143.3 1308.1L141.2 1286.7L139.2 1260.4L137.1 1223.7L135.7 1180.2L135.1 1141.1Z" fill="#568fa5"/>
<path d="M135.1 1294.6L135.7 1355.9L136.6 1404.6L137.1 1424.3L138.9 1474.8L168.6 1468.3L163.8 1446.3L159.7 1425.8L153.5 1391.4L149.4 1364.7L147.4 1349.8L145.3 1333.2L143.3 1314.6L141.2 1292.9L139.2 1266.2L137.1 1229L135.7 1184.8L135.1 1145.2Z" fill="#578ca5"/>
<path d="M135.1 1294.6L135.7 1355.9L136.6 1404.6L137.1 1424.3L138.9 1474.8L166.8 1468.7L159.7 1434L153.5 1399.1L149.4 1372L147.4 1356.8L145.3 1340.1L143.3 1321.2L141.2 1299.2L139.2 1272L137.1 1234.3L135.7 1189.4L135.1 1149.2Z" fill="#588aa5"/>
<path d="M135.1 1294.6L135.7 1355.9L136.6 1404.6L137.1 1424.3L138.9 1474.8L165 1469.1L161.8 1453L157.7 1431L153.5 1406.7L151.5 1393.5L147.4 1363.9L145.3 1346.9L143.3 1327.7L141.2 1305.4L139.2 1277.8L137.1 1239.6L135.7 1194L135.1 1153.3Z" fill="#5988a5"/>
<path d="M135.1 1294.6L135.7 1355.9L136.6 1404.6L137.1 1424.3L138.9 1474.8L163.4 1469.5L159.7 1450.4L155.6 1427.1L151.5 1401L149.4 1386.6L145.3 1353.7L143.3 1334.3L141.2 1311.6L139.2 1283.7L137.1 1244.8L135.7 1198.7L135.1 1157.3Z" fill="#5a86a4"/>
<path d="M135.1 1294.6L135.7 1355.9L136.6 1404.6L137.1 1424.3L138.9 1474.8L161.8 1469.8L155.6 1434.9L151.5 1408.5L149.4 1393.9L145.3 1360.5L143.3 1340.8L141.2 1317.8L139.2 1289.5L137.1 1250.1L135.7 1203.3L135.1 1161.3Z" fill="#5b84a4"/>
<path d="M135.1 1294.6L135.7 1355.9L136.6 1404.6L137.1 1424.3L138.9 1474.8L160.3 1470.2L157.7 1455.1L153.5 1429.8L149.4 1401.2L145.3 1367.3L143.3 1347.4L141.2 1324.1L139.2 1295.3L137.1 1255.4L135.7 1207.9L135.1 1165.4Z" fill="#5c82a4"/>
<path d="M135.1 1294.6L135.7 1355.9L136.6 1404.6L137.1 1424.3L138.9 1474.8L158.9 1470.5L153.5 1437.5L149.4 1408.4L145.3 1374.2L143.3 1353.9L141.2 1330.3L139.2 1301.1L137.1 1260.7L135.7 1212.5L135.1 1169.4Z" fill="#5c80a4"/>
<path d="M135.1 1294.6L135.7 1355.9L136.6 1404.6L137.1 1424.3L138.9 1474.8L157.6 1470.7L151.5 1431L147.4 1399.2L145.3 1381L143.3 1360.4L141.2 1336.5L139.2 1307L137.1 1266L135.7 1217.2L135.1 1173.4Z" fill="#5e7ea4"/>
<path d="M135.1 1294.6L135.7 1355.9L136.6 1404.6L137.1 1424.3L138.9 1474.8L156.3 1471L151.5 1438.5L147.4 1406.3L145.3 1387.8L143.3 1367L141.2 1342.7L139.2 1312.8L137.1 1271.2L135.7 1221.8L135.1 1177.5Z" fill="#5f7ca3"/>
<path d="M135.1 1294.6L135.7 1355.9L136.6 1404.6L137.1 1424.3L138.9 1474.8L155.2 1471.3L151.5 1445.9L147.4 1413.3L145.3 1394.6L143.3 1373.5L141.2 1349L139.2 1318.6L137.1 1276.5L135.7 1226.4L135.1 1181.5Z" fill="#5f7aa3"/>
<path d="M135.1 1294.6L135.7 1355.9L136.6 1404.6L137.1 1424.3L138.9 1474.8L154 1471.5L149.4 1437.6L145.3 1401.4L143.3 1380.1L141.2 1355.2L139.2 1324.5L137.1 1281.8L136.6 1267.2L135.7 1231L135.1 1185.6Z" fill="#6177a3"/>
<path d="M135.1 1294.6L135.7 1355.9L136.6 1404.6L137.1 1424.3L138.9 1474.8L153 1471.8L149.4 1444.9L145.3 1408.3L143.3 1386.6L141.2 1361.4L139.2 1330.3L137.1 1287.1L136.6 1272.3L135.7 1235.6L135.1 1189.6Z" fill="#6176a2"/>
<path d="M135.1 1294.6L135.7 1355.9L136.6 1404.6L137.1 1424.3L138.9 1474.8L152 1472L149.4 1452.2L145.3 1415.1L143.3 1393.2L141.2 1367.6L139.2 1336.1L137.1 1292.3L136.6 1277.4L135.7 1240.3L135.1 1193.6Z" fill="#6373a2"/>
<path d="M135.1 1294.6L135.7 1355.9L136.6 1404.6L137.1 1424.3L138.9 1474.8L151 1472.2L147.4 1441.6L145.3 1421.9L143.3 1399.7L141.2 1373.8L139.2 1341.9L137.1 1297.6L136.6 1282.5L135.7 1244.9L135.1 1197.7Z" fill="#6371a2"/>
<path d="M135.1 1294.6L135.7 1355.9L136.6 1404.6L137.1 1424.3L138.9 1474.8L150.1 1472.4L147.4 1448.7L145.3 1428.7L143.3 1406.3L141.2 1380.1L139.2 1347.8L137.1 1302.9L136.6 1287.6L135.7 1249.5L135.1 1201.7Z" fill="#656fa1"/>
<path d="M135.1 1294.6L135.7 1355.9L136.6 1404.6L137.1 1424.3L138.9 1474.8L149.3 1472.6L145.3 1435.5L143.3 1412.8L141.2 1386.3L139.2 1353.6L137.1 1308.2L136.6 1292.6L135.7 1254.1L135.1 1205.7Z" fill="#656da0"/>
<path d="M135.1 1294.6L135.7 1355.9L136.6 1404.6L137.1 1424.3L138.9 1474.8L148.5 1472.7L145.3 1442.4L143.3 1419.3L141.2 1392.5L139.2 1359.4L137.1 1313.5L136.6 1297.7L135.7 1258.8L135.1 1209.8Z" fill="#666a9f"/>
<path d="M135.1 1294.6L135.7 1355.9L136.6 1404.6L137.1 1424.3L138.9 1474.8L147.7 1472.9L145.3 1449.2L143.3 1425.9L141.2 1398.7L139.2 1365.3L137.1 1318.7L136.6 1302.8L135.7 1263.4L135.1 1213.8Z" fill="#67679e"/>
<path d="M135.1 1294.6L135.7 1355.9L136.6 1404.6L137.1 1424.3L138.9 1474.8L147 1473.1L143.3 1432.4L141.2 1405L139.2 1371.1L137.1 1324L136.6 1307.9L135.7 1268L135.1 1217.9Z" fill="#68659e"/>
<path d="M135.1 1294.6L135.7 1355.9L136.6 1404.6L137.1 1424.3L138.9 1474.8L146.3 1473.2L143.3 1439L141.2 1411.2L139.2 1376.9L137.1 1329.3L136.6 1313L135.7 1272.6L135.1 1221.9Z" fill="#69639c"/>
<path d="M135.1 1294.6L135.7 1355.9L136.6 1404.6L137.1 1424.3L138.9 1474.8L145.7 1473.4L143.3 1445.5L141.2 1417.4L139.2 1382.7L137.1 1334.6L136.6 1318.1L135.7 1277.3L135.1 1225.9Z" fill="#6a619b"/>
<path d="M135.1 1294.6L135.7 1355.9L136.6 1404.6L137.1 1424.3L138.9 1474.8L145.1 1473.5L143.3 1452.1L141.2 1423.6L139.2 1388.6L137.1 1339.8L135.7 1281.9L135.1 1230Z" fill="#6a5e9a"/>
<path d="M135.1 1294.6L135.7 1355.9L136.6 1404.6L137.1 1424.3L138.9 1474.8L144.5 1473.6L141.2 1429.9L139.2 1394.4L137.1 1345.1L135.7 1286.5L135.1 1234Z" fill="#6b5c99"/>
<path d="M135.1 1294.6L135.7 1355.9L136.6 1404.6L137.1 1424.3L138.9 1474.8L144 1473.7L141.2 1436.1L139.2 1400.2L137.1 1350.4L135.7 1291.1L135.1 1238Z" fill="#6c5997"/>
<path d="M135.1 1294.6L135.7 1355.9L136.6 1404.6L137.1 1424.3L138.9 1474.8L143.5 1473.8L141.2 1442.3L139.2 1406.1L137.1 1355.7L135.7 1295.8L135.1 1242.1Z" fill="#6c5796"/>
<path d="M135.1 1294.6L135.7 1355.9L136.6 1404.6L137.1 1424.3L138.9 1474.8L143 1473.9L141.2 1448.5L139.2 1411.9L137.1 1361L135.7 1300.4L135.1 1246.1Z" fill="#6c5493"/>
<path d="M135.1 1294.6L135.7 1355.9L136.6 1404.6L137.1 1424.3L138.9 1474.8L142.5 1474L141.2 1454.8L139.2 1417.7L137.1 1366.2L135.7 1305L135.1 1250.2Z" fill="#6d5191"/>
<path d="M135.1 1294.6L135.7 1355.9L136.6 1404.6L137.1 1424.3L138.9 1474.8L142.1 1474.1L141.2 1461L139.2 1423.5L137.1 1371.5L135.7 1309.6L135.1 1254.2Z" fill="#6d4f8f"/>
<path d="M135.1 1294.6L135.7 1355.9L136.6 1404.6L137.1 1424.3L138.9 1474.8L141.7 1474.2L139.2 1429.4L137.1 1376.8L135.7 1314.3L135.1 1258.2Z" fill="#6d4c8d"/>
<path d="M135.1 1294.6L135.7 1355.9L136.6 1404.6L137.1 1424.3L138.9 1474.8L141.3 1474.3L139.2 1435.2L137.1 1382.1L135.7 1318.9L135.1 1262.3Z" fill="#6d4a8b"/>
<path d="M135.1 1294.6L135.7 1355.9L136.6 1404.6L137.1 1424.3L138.9 1474.8L140.9 1474.4L139.2 1441L137.1 1387.4L135.7 1323.5L135.1 1266.3Z" fill="#6d4688"/>
<path d="M135.1 1294.6L135.7 1355.9L136.6 1404.6L137.1 1424.3L138.9 1474.8L140.6 1474.5L139.2 1446.9L137.1 1392.6L136.6 1374.1L135.7 1328.1L135.1 1270.3Z" fill="#6c4486"/>
<path d="M135.1 1294.6L135.7 1355.9L136.6 1404.6L137.1 1424.3L138.9 1474.8L140.3 1474.5L139.2 1452.7L137.1 1397.9L136.6 1379.2L135.7 1332.7L135.1 1274.4Z" fill="#6c4183"/>
<path d="M135.1 1294.6L135.7 1355.9L136.6 1404.6L137.1 1424.3L138.9 1474.8L140 1474.6L139.2 1458.5L137.1 1403.2L136.6 1384.3L135.7 1337.4L135.1 1278.4Z" fill="#6c3d80"/>
<path d="M135.1 1282.5L135.7 1355.9L136.6 1404.6L137.1 1424.3L138.9 1474.8L139.7 1474.7L139.2 1464.3L137.1 1408.5L136.6 1389.3L135.7 1342Z" fill="#6b3b7d"/>
<path d="M135.1 1294.6L135.7 1355.9L136.6 1404.6L137.1 1424.3L138.9 1474.8L139.4 1474.7L137.1 1413.7L136.1 1370.3L135.4 1322.5L135.1 1286.5Z" fill="#6a377a"/>
<path d="M135.1 1290.5L135.4 1331.3L135.7 1355.9L136.6 1404.6L137.1 1424.3L138.9 1474.8L139.1 1474.8L137.1 1419L136.1 1375.2L135.4 1326.9Z" fill="#6a3577"/>
</g>
<path d="M136.3 911L136.9 916.6L137.8 921.1L138.4 922.9L140.4 928.1L142.5 931.9L144.5 935L148.6 940L152.7 944.1L156.8 947.6L160.9 950.8L165 953.7L171.2 957.7L177.4 961.3L189.7 967.9L206.1 975.8L222.5 983L245.1 992.2L269.8 1001.6L294.4 1010.6L319 1019.4L425.3 1056.3M136.3 931.2L136.9 939.7L137.8 946.5L138.4 949.3L140.4 957.3L142.5 963.1L144.5 967.7L146.6 971.8L148.6 975.3L152.7 981.5L156.8 986.9L163 994L169.2 1000.2L177.4 1007.8L185.6 1014.6L193.8 1021L202 1026.9L210.2 1032.6L226.6 1043.4L245.1 1054.7L261.6 1064.4L286.2 1078.3L327.3 1100.5L417.6 1148.3L466.9 1174.7L516.2 1201.8L549 1220.4L565.4 1229.9L598.3 1249.4L614.7 1259.4L647.6 1279.9L664 1290.5L696.9 1312.3L713.3 1323.5L739.1 1341.7M136.3 951.4L136.9 962.8L137.8 972L138.4 975.7L140.4 986.4L142.5 994.2L144.5 1000.5L146.6 1005.9L148.6 1010.6L152.7 1019L156.8 1026.2L160.9 1032.7L167.1 1041.4L173.3 1049.3L181.5 1058.9L189.7 1067.7L197.9 1076L206.1 1083.8L214.3 1091.3L222.5 1098.5L236.9 1110.6L253.3 1123.8L278 1142.8L294.4 1155L319 1172.9L434 1254.7L483.3 1290.4L516.2 1314.8L532.6 1327.2L565.4 1352.6L592.4 1374M136.3 971.6L136.9 986L137.8 997.4L138.4 1002.1L140.4 1015.6L142.5 1025.3L144.5 1033.2L146.6 1040L150.7 1051.4L154.8 1061.1L158.9 1069.7L163 1077.4L169.2 1088L173.3 1094.5L181.5 1106.6L189.7 1117.6L197.9 1128L206.1 1137.9L214.3 1147.3L228.7 1162.9L236.9 1171.5L253.3 1188.1L278 1211.8L294.4 1227.2L319 1249.7L343.7 1271.8L434 1352.3L466.9 1382.1L484.1 1397.9M136.3 991.8L136.9 1009.1L137.8 1022.9L138.4 1028.4L140.4 1044.7L142.5 1056.4L144.5 1065.9L146.6 1074.1L148.6 1081.3L152.7 1093.9L156.8 1104.8L160.9 1114.6L165 1123.5L171.2 1135.8L177.4 1147.1L181.5 1154.2L189.7 1167.6L197.9 1180.1L206.1 1191.9L214.3 1203.2L222.5 1214.1L236.9 1232.4L245.1 1242.4L261.6 1262L286.2 1290.2L310.8 1317.5L343.7 1353.1L402.3 1415.9M136.3 1011.9L136.9 1032.2L137.3 1040.2L138.4 1054.8L140.4 1073.9L142.5 1087.5L144.5 1098.6L146.6 1108.2L148.6 1116.6L152.7 1131.3L154.8 1137.9L158.9 1150L163 1160.9L167.1 1171L171.2 1180.4L177.4 1193.6L181.5 1201.9L189.7 1217.5L193.8 1224.9L202 1239.1L210.2 1252.6L218.4 1265.6L226.6 1278.1L236.9 1293.2L253.3 1316.5L261.6 1327.8L278 1350L302.6 1382.2L339.9 1429.6M136.3 1032.1L136.9 1055.3L137.3 1064.5L138.4 1081.2L140.4 1103L142.5 1118.7L144.5 1131.4L146.6 1142.3L148.6 1151.9L150.7 1160.7L154.8 1176.3L156.8 1183.4L160.9 1196.5L165 1208.5L169.2 1219.6L173.3 1230.1L177.4 1240L181.5 1249.5L189.7 1267.4L193.8 1275.9L202 1292.1L214.3 1315.1L228.7 1340.3L245.1 1367.6L253.3 1380.8L269.8 1406.5L292 1440.2M136.3 1052.3L136.9 1078.4L137.3 1088.7L138.4 1107.6L140.4 1132.1L142.5 1149.8L144.5 1164.1L146.6 1176.4L150.7 1197.1L152.7 1206.2L156.8 1222.7L163 1244.3L169.2 1263.5L173.3 1275.3L177.4 1286.5L185.6 1307.4L189.7 1317.3L197.9 1336.1L210.2 1362.6L222.5 1387.4L236.9 1415L255.2 1448.3M136.3 1072.5L136.9 1101.6L137.3 1113L138.4 1134L140.4 1161.3L142.5 1180.9L144.5 1196.8L146.6 1210.5L148.6 1222.6L152.7 1243.7L156.8 1262L163 1286.1L169.2 1307.4L173.3 1320.5L177.4 1332.9L185.6 1356.2L193.8 1377.8L206.1 1408L214.3 1426.9L226.8 1454.5M136.3 1092.7L136.9 1124.7L137.8 1150.1L138.4 1160.4L140.4 1190.4L142.5 1212L144.5 1229.5L146.6 1244.6L148.6 1257.9L152.7 1281.1L156.8 1301.3L160.9 1319.4L167.1 1343.7L173.3 1365.7L181.5 1392.5L189.7 1417.1L197.9 1440.2L205.1 1459.3M136.3 1112.9L136.9 1147.8L137.8 1175.6L138.4 1186.8L140.4 1219.6L142.5 1243.1L144.5 1262.3L146.6 1278.7L148.6 1293.2L152.7 1318.6L156.8 1340.6L160.9 1360.3L165 1378.4L171.2 1403.1L177.4 1425.9L181.5 1440.1L188.4 1463M136.3 1133.1L136.9 1170.9L137.3 1185.8L138.4 1213.2L140.4 1248.7L142.5 1274.3L144.5 1295L146.6 1312.8L148.6 1328.6L152.7 1356.1L154.8 1368.3L158.9 1390.8L163 1411.2L167.1 1430.1L171.2 1447.7L175.7 1465.8M136.3 1153.3L136.9 1194L137.3 1210.1L138.4 1239.6L140.4 1277.8L142.5 1305.4L144.5 1327.7L146.6 1346.9L148.6 1363.9L152.7 1393.5L154.8 1406.7L158.9 1431L163 1453L166 1467.9M136.3 1173.4L136.9 1217.2L137.3 1234.4L138.4 1266L140.4 1307L142.5 1336.5L144.5 1360.4L146.6 1381L148.6 1399.2L152.7 1431L154.8 1445.2L158.6 1469.5M136.3 1193.6L136.9 1240.3L137.8 1277.4L138.4 1292.3L140.4 1336.1L142.5 1367.6L144.5 1393.2L146.6 1415.1L148.6 1434.5L153 1470.8M136.3 1213.8L136.9 1263.4L137.8 1302.8L138.4 1318.7L140.4 1365.3L142.5 1398.7L144.5 1425.9L146.6 1449.2L148.8 1471.7M136.3 1234L136.9 1286.5L137.3 1307.2L138.4 1345.1L140.4 1394.4L142.5 1429.9L144.5 1458.6L145.7 1472.4M136.3 1254.2L136.9 1309.6L137.3 1331.5L138.4 1371.5L140.4 1423.5L142.5 1461L143.3 1472.9M136.3 1274.4L136.9 1332.7L137.8 1379.2L138.4 1397.9L140.4 1452.7L141.5 1473.3" fill="none" stroke="#000" stroke-width="2" stroke-linejoin="round" stroke-linecap="round"/>
<path d="M136.3 1294.6L136.9 1355.9L137.8 1404.6L138.4 1424.3L140.1 1473.6" fill="none" stroke="#000" stroke-width="2" stroke-linejoin="round" stroke-linecap="round"/>
<path d="M105.6 878.3V1505.7H787.2M136.3 1505.7v7.9M290.3 1505.7v7.9M444.3 1505.7v7.9M598.3 1505.7v7.9M752.3 1505.7v7.9M105.6 932.6h-7.9M105.6 1068.3h-7.9M105.6 1204h-7.9M105.6 1339.7h-7.9M105.6 1475.4h-7.9" fill="none" stroke="#000" stroke-width="2.1" stroke-linecap="butt" stroke-linejoin="miter"/>
<text transform="translate(136.3,1542.3)" font-size="29.4" text-anchor="middle">0</text>
<text transform="translate(290.3,1542.3)" font-size="29.4" text-anchor="middle">500</text>
<text transform="translate(442,1542.3) scale(0.96,1)" font-size="29.4" text-anchor="middle">1,000</text>
<text transform="translate(596.7,1542.3) scale(0.96,1)" font-size="29.4" text-anchor="middle">1,500</text>
<text transform="translate(748.3,1542.3) scale(0.96,1)" font-size="29.4" text-anchor="middle">2,000</text>
<text transform="translate(91,942.5)" font-size="29.4" text-anchor="end">0</text>
<text transform="translate(91,1078.2)" font-size="29.4" text-anchor="end">10</text>
<text transform="translate(91,1213.9)" font-size="29.4" text-anchor="end">20</text>
<text transform="translate(91,1349.6)" font-size="29.4" text-anchor="end">30</text>
<text transform="translate(91,1485.3)" font-size="29.4" text-anchor="end">40</text>
<text transform="translate(453.5,1583.3)" font-size="29.2" text-anchor="middle">Precipitation of warmest quarter (mm)</text>
<text transform="translate(24.5,1188.1) rotate(-90)" font-size="29.2" text-anchor="middle">Mean temperature of warmest quarter (°C)</text>
<text transform="translate(6.9,835.5) scale(1.1,1)" font-size="31" font-weight="bold" stroke="#000" stroke-width="0.7" stroke-linejoin="round">c</text>
<text transform="translate(114.4,837.3)" font-size="29.2"><tspan font-style="italic">R</tspan><tspan font-size="19.5" dy="-9.7">2</tspan><tspan dy="9.7"> = 0.34</tspan></text>
<rect x="881.3" y="860.6" width="50.7" height="618.3" fill="url(#vg)"/>
<path d="M881.3 1478.1h10.4M932 1478.1h-10.4M881.3 1416.47h10.4M932 1416.47h-10.4M881.3 1354.84h10.4M932 1354.84h-10.4M881.3 1293.21h10.4M932 1293.21h-10.4M881.3 1231.58h10.4M932 1231.58h-10.4M881.3 1169.95h10.4M932 1169.95h-10.4M881.3 1108.32h10.4M932 1108.32h-10.4M881.3 1046.69h10.4M932 1046.69h-10.4M881.3 985.06h10.4M932 985.06h-10.4M881.3 923.43h10.4M932 923.43h-10.4M881.3 861.8h10.4M932 861.8h-10.4" stroke="#fff" stroke-width="2" fill="none"/>
<text transform="translate(941.8,1488.3)" font-size="29.4">0</text>
<text transform="translate(941.8,1426.67)" font-size="29.4">10</text>
<text transform="translate(941.8,1365.04)" font-size="29.4">20</text>
<text transform="translate(941.8,1303.41)" font-size="29.4">30</text>
<text transform="translate(941.8,1241.78)" font-size="29.4">40</text>
<text transform="translate(941.8,1180.15)" font-size="29.4">50</text>
<text transform="translate(941.8,1118.52)" font-size="29.4">60</text>
<text transform="translate(941.8,1056.89)" font-size="29.4">70</text>
<text transform="translate(941.8,995.26)" font-size="29.4">80</text>
<text transform="translate(941.8,933.63)" font-size="29.4">90</text>
<text transform="translate(941.8,872)" font-size="29.4">100</text>
<text transform="translate(861,1190.6) rotate(-90)" font-size="29.2" text-anchor="middle">Proportion of annuals among herbs (%)</text>
</g>
<g id="panel-d">
<g transform="translate(1.8,0.3)" shape-rendering="crispEdges">
<path d="M1286.8 1475.7L1904 1340.8L1904 1270.9L1625.5 1087.3L1600.9 1082.7L1584.5 1079.4L1551.6 1072.1L1535.2 1068.1L1518.8 1063.7L1494.2 1056.6L1477.7 1051.3L1461.3 1045.4L1453.1 1042.3L1436.7 1035.4L1428.4 1031.7L1420.2 1027.7L1412 1023.4L1403.8 1018.8L1395.6 1013.8L1387.4 1008.4L1379.2 1002.5L1373 997.7L1364.8 990.6L1360.7 986.8L1352.5 978.3L1348.4 973.7L1344.3 968.6L1340.2 963.2L1336 957.2L1331.9 950.7L1327.8 943.6L1323.7 935.5L1319.6 926.4L1315.5 916L1311.4 903.8L1307.3 889.1L1304.2 875.4L1286.8 863.9Z" fill="#feec50"/>
<path d="M1904 1340.8L1904 1270.9L1643.6 1099.2L1617.4 1094.6L1600.9 1091.5L1568.1 1084.7L1551.6 1081L1535.2 1077L1518.8 1072.7L1494.2 1065.6L1477.7 1060.3L1461.3 1054.5L1444.9 1048.1L1428.4 1040.8L1420.2 1036.9L1412 1032.6L1403.8 1028.1L1395.6 1023.1L1387.4 1017.8L1377.1 1010.4L1368.9 1003.7L1364.8 1000.1L1356.6 992.2L1352.5 987.9L1344.3 978.3L1340.2 972.9L1336 967L1331.9 960.5L1327.8 953.4L1321.7 941L1317.6 931.4L1313.5 920.2L1309.4 906.9L1307.3 899.3L1305.2 890.7L1301.9 873.9L1286.8 863.9L1286.8 1475.7Z" fill="#f8eb4c"/>
<path d="M1904 1340.8L1904 1270.9L1661.2 1110.8L1633.8 1106.3L1617.4 1103.4L1584.5 1097L1568.1 1093.6L1551.6 1089.9L1535.2 1085.9L1518.8 1081.6L1502.4 1077L1485.9 1072L1469.5 1066.5L1453.1 1060.5L1436.7 1053.7L1420.2 1046.1L1412 1041.9L1403.8 1037.3L1395.6 1032.4L1387.4 1027.1L1377.1 1019.8L1368.9 1013.2L1364.8 1009.6L1356.6 1001.8L1352.5 997.5L1344.3 987.9L1340.2 982.5L1336 976.7L1331.9 970.3L1327.8 963.2L1321.7 950.9L1317.6 941.4L1313.5 930.3L1309.4 917.1L1305.2 901L1303.2 891.4L1301.1 880.4L1299.9 872.6L1286.8 863.9L1286.8 1475.7Z" fill="#f2ea49"/>
<path d="M1904 1340.8L1904 1270.9L1678.5 1122.2L1633.8 1115.1L1600.9 1109.1L1584.5 1105.9L1551.6 1098.8L1535.2 1094.8L1518.8 1090.6L1494.2 1083.6L1477.7 1078.4L1461.3 1072.7L1444.9 1066.3L1428.4 1059.2L1420.2 1055.3L1412 1051.1L1403.8 1046.6L1395.6 1041.8L1387.4 1036.5L1377.1 1029.2L1368.9 1022.6L1360.7 1015.3L1352.5 1007L1348.4 1002.5L1344.3 997.5L1340.2 992.2L1336 986.4L1331.9 980L1327.8 973L1321.7 960.8L1317.6 951.3L1313.5 940.3L1309.4 927.3L1305.2 911.3L1303.2 901.7L1301.1 890.8L1298.2 871.5L1286.8 863.9L1286.8 1475.7Z" fill="#eeea48"/>
<path d="M1904 1340.8L1904 1270.9L1695.5 1133.4L1666.6 1129.2L1633.8 1123.8L1600.9 1117.9L1584.5 1114.7L1551.6 1107.6L1535.2 1103.7L1518.8 1099.5L1494.2 1092.6L1477.7 1087.4L1461.3 1081.7L1444.9 1075.5L1428.4 1068.4L1420.2 1064.5L1412 1060.4L1403.8 1055.9L1395.6 1051.1L1387.4 1045.8L1379.2 1040.1L1373 1035.4L1364.8 1028.5L1356.6 1020.8L1348.4 1012.1L1344.3 1007.2L1340.2 1001.9L1336 996.1L1331.9 989.8L1327.8 982.8L1323.7 975L1319.6 966.2L1315.5 956.1L1311.4 944.2L1307.3 929.9L1305.2 921.5L1303.2 912.1L1301.1 901.2L1299.1 888.5L1296.7 870.5L1286.8 863.9L1286.8 1475.7Z" fill="#e8e946"/>
<path d="M1904 1340.8L1904 1270.9L1712.2 1144.4L1683.1 1140.4L1650.2 1135.3L1617.4 1129.8L1584.5 1123.5L1551.6 1116.5L1535.2 1112.7L1518.8 1108.5L1494.2 1101.6L1477.7 1096.5L1461.3 1090.8L1444.9 1084.6L1428.4 1077.6L1420.2 1073.7L1412 1069.6L1403.8 1065.2L1395.6 1060.4L1387.4 1055.2L1379.2 1049.5L1373 1044.8L1364.8 1038L1356.6 1030.4L1348.4 1021.7L1344.3 1016.8L1340.2 1011.6L1336 1005.8L1331.9 999.6L1327.8 992.6L1321.7 980.7L1317.6 971.3L1313.5 960.4L1309.4 947.6L1305.2 931.8L1303.2 922.4L1301.1 911.6L1299.1 899L1297 883.8L1295.5 869.7L1286.8 863.9L1286.8 1475.7Z" fill="#e2e847"/>
<path d="M1904 1340.8L1904 1270.9L1728.6 1155.3L1699.5 1151.4L1666.6 1146.6L1633.8 1141.4L1600.9 1135.6L1568.1 1129L1551.6 1125.4L1535.2 1121.6L1518.8 1117.4L1502.4 1113L1477.7 1105.5L1461.3 1099.9L1444.9 1093.7L1428.4 1086.8L1420.2 1082.9L1412 1078.8L1403.8 1074.4L1395.6 1069.7L1387.4 1064.5L1379.2 1058.9L1373 1054.3L1364.8 1047.5L1356.6 1039.9L1348.4 1031.3L1344.3 1026.4L1340.2 1021.2L1336 1015.6L1331.9 1009.3L1327.8 1002.5L1323.7 994.8L1319.6 986.1L1315.5 976.1L1311.4 964.4L1307.3 950.3L1305.2 942.1L1303.2 932.8L1301.1 922.1L1299.1 909.5L1297 894.5L1295 875.7L1294.4 869L1286.8 863.9L1286.8 1475.7Z" fill="#dde848"/>
<path d="M1904 1340.8L1904 1270.9L1744.9 1166L1699.5 1160.1L1666.6 1155.4L1633.8 1150.1L1600.9 1144.4L1568.1 1137.9L1551.6 1134.3L1535.2 1130.5L1518.8 1126.4L1502.4 1122L1477.7 1114.5L1461.3 1109L1444.9 1102.8L1428.4 1095.9L1420.2 1092.1L1412 1088.1L1403.8 1083.7L1395.6 1079L1387.4 1073.9L1379.2 1068.3L1373 1063.7L1364.8 1057L1356.6 1049.4L1348.4 1040.9L1344.3 1036.1L1340.2 1030.9L1336 1025.3L1331.9 1019.1L1327.8 1012.3L1323.7 1004.6L1319.6 996L1315.5 986.1L1311.4 974.5L1307.3 960.5L1305.2 952.4L1303.2 943.1L1301.1 932.5L1299.1 920L1297 905.1L1295 886.5L1293.5 868.3L1286.8 863.9L1286.8 1475.7Z" fill="#d7e74a"/>
<path d="M1904 1340.8L1904 1270.9L1760.9 1176.5L1715.9 1171L1683.1 1166.5L1650.2 1161.6L1617.4 1156.1L1584.5 1150.1L1568.1 1146.7L1551.6 1143.2L1535.2 1139.4L1518.8 1135.3L1494.2 1128.6L1477.7 1123.6L1461.3 1118.1L1453.1 1115.1L1436.7 1108.6L1420.2 1101.4L1412 1097.3L1403.8 1093L1395.6 1088.3L1387.4 1083.2L1379.2 1077.7L1373 1073.1L1364.8 1066.5L1356.6 1059L1348.4 1050.5L1344.3 1045.7L1340.2 1040.6L1336 1035L1331.9 1028.9L1327.8 1022.1L1321.7 1010.4L1317.6 1001.2L1313.5 990.6L1311.4 984.6L1307.3 970.8L1305.2 962.6L1303.2 953.4L1301.1 942.9L1299.1 930.6L1297 915.7L1295 897.3L1292.6 867.8L1286.8 863.9L1286.8 1475.7Z" fill="#d3e64d"/>
<path d="M1904 1340.8L1904 1270.9L1776.7 1187L1732.3 1181.7L1699.5 1177.5L1666.6 1172.8L1633.8 1167.7L1600.9 1162L1568.1 1155.6L1551.6 1152.1L1535.2 1148.3L1518.8 1144.3L1494.2 1137.6L1477.7 1132.6L1461.3 1127.2L1453.1 1124.2L1436.7 1117.8L1420.2 1110.6L1412 1106.6L1403.8 1102.3L1395.6 1097.6L1387.4 1092.6L1379.2 1087L1373 1082.5L1364.8 1075.9L1356.6 1068.5L1348.4 1060.1L1344.3 1055.4L1340.2 1050.3L1336 1044.7L1331.9 1038.6L1327.8 1031.9L1321.7 1020.3L1317.6 1011.2L1315.5 1006.1L1311.4 994.7L1307.3 981L1305.2 972.9L1303.2 963.8L1301.1 953.3L1299.1 941.1L1297 926.4L1295 908L1292.9 883.9L1292 867.4L1286.8 863.9L1286.8 1475.7Z" fill="#cce550"/>
<path d="M1904 1340.8L1904 1270.9L1792.4 1197.3L1748.8 1192.4L1715.9 1188.3L1666.6 1181.5L1633.8 1176.5L1600.9 1170.8L1568.1 1164.5L1551.6 1161L1535.2 1157.3L1518.8 1153.2L1494.2 1146.6L1477.7 1141.7L1461.3 1136.2L1453.1 1133.3L1436.7 1127L1420.2 1119.8L1412 1115.8L1403.8 1111.5L1395.6 1106.9L1387.4 1101.9L1379.2 1096.4L1373 1092L1364.8 1085.4L1356.6 1078L1348.4 1069.7L1344.3 1065L1340.2 1059.9L1336 1054.4L1331.9 1048.4L1327.8 1041.7L1321.7 1030.2L1317.6 1021.2L1315.5 1016.2L1311.4 1004.8L1307.3 991.2L1305.2 983.2L1303.2 974.1L1301.1 963.7L1299.1 951.6L1297 937L1295 918.8L1292.9 894.9L1291.3 866.9L1286.8 863.9L1286.8 1475.7Z" fill="#c8e553"/>
<path d="M1904 1340.8L1904 1270.9L1808 1207.6L1765.2 1203L1732.3 1199.1L1683.1 1192.6L1650.2 1187.8L1617.4 1182.5L1584.5 1176.6L1551.6 1169.9L1535.2 1166.2L1518.8 1162.2L1494.2 1155.6L1469.5 1148.1L1453.1 1142.4L1444.9 1139.4L1428.4 1132.7L1412 1125L1403.8 1120.8L1395.6 1116.2L1387.4 1111.3L1379.2 1105.8L1368.9 1098.2L1360.7 1091.3L1352.5 1083.6L1344.3 1074.6L1340.2 1069.6L1336 1064.2L1331.9 1058.2L1327.8 1051.5L1323.7 1044.1L1319.6 1035.8L1317.6 1031.2L1313.5 1020.8L1309.4 1008.5L1305.2 993.4L1303.2 984.5L1301.1 974.2L1299.1 962.1L1297 947.6L1295 929.6L1292.9 905.8L1290.7 866.5L1286.8 863.9L1286.8 1475.7Z" fill="#c2e457"/>
<path d="M1904 1340.8L1904 1270.9L1823.3 1217.7L1781.6 1213.4L1732.3 1207.7L1683.1 1201.3L1650.2 1196.6L1617.4 1191.3L1584.5 1185.4L1551.6 1178.8L1535.2 1175.1L1518.8 1171.1L1494.2 1164.6L1469.5 1157.1L1453.1 1151.5L1444.9 1148.5L1428.4 1141.8L1412 1134.3L1403.8 1130.1L1395.6 1125.6L1387.4 1120.6L1379.2 1115.2L1368.9 1107.7L1360.7 1100.9L1352.5 1093.1L1344.3 1084.3L1340.2 1079.3L1336 1073.9L1331.9 1067.9L1327.8 1061.4L1321.7 1050L1317.6 1041.1L1315.5 1036.2L1311.4 1025L1307.3 1011.6L1305.2 1003.7L1303.2 994.8L1301.1 984.6L1299.1 972.6L1297 958.3L1295 940.4L1292.9 916.8L1290.9 882.8L1290.3 866.3L1286.8 863.9L1286.8 1475.7Z" fill="#bde35a"/>
<path d="M1904 1340.8L1904 1270.9L1838.6 1227.8L1798 1223.8L1748.8 1218.3L1699.5 1212.3L1666.6 1207.7L1633.8 1202.8L1600.9 1197.2L1568.1 1191.1L1535.2 1184L1518.8 1180.1L1502.4 1175.9L1477.7 1168.8L1461.3 1163.5L1453.1 1160.6L1436.7 1154.4L1420.2 1147.4L1412 1143.5L1403.8 1139.4L1395.6 1134.9L1387.4 1130L1379.2 1124.6L1368.9 1117.1L1360.7 1110.4L1352.5 1102.7L1344.3 1093.9L1340.2 1089L1336 1083.6L1331.9 1077.7L1327.8 1071.2L1321.7 1059.9L1317.6 1051.1L1315.5 1046.2L1311.4 1035.1L1307.3 1021.8L1305.2 1014L1303.2 1005.2L1301.1 995L1299.1 983.2L1297 968.9L1295 951.1L1292.9 927.8L1290.9 894L1289.9 866L1286.8 863.9L1286.8 1475.7Z" fill="#b7e25e"/>
<path d="M1904 1340.8L1904 1270.9L1853.8 1237.8L1798 1232.4L1748.8 1227L1699.5 1220.9L1666.6 1216.5L1633.8 1211.5L1600.9 1206.1L1568.1 1199.9L1535.2 1192.9L1518.8 1189L1502.4 1184.8L1477.7 1177.8L1461.3 1172.6L1453.1 1169.7L1436.7 1163.6L1420.2 1156.6L1412 1152.8L1403.8 1148.6L1395.6 1144.2L1387.4 1139.3L1379.2 1134L1368.9 1126.6L1360.7 1119.9L1356.6 1116.2L1348.4 1108.1L1344.3 1103.5L1340.2 1098.6L1336 1093.3L1331.9 1087.5L1327.8 1081L1323.7 1073.8L1319.6 1065.6L1315.5 1056.2L1313.5 1051L1309.4 1039L1305.2 1024.3L1303.2 1015.5L1301.1 1005.4L1299.1 993.7L1297 979.5L1295 961.9L1292.9 938.7L1290.9 905.2L1289.5 865.7L1286.8 863.9L1286.8 1475.7Z" fill="#b1e162"/>
<path d="M1904 1340.8L1904 1270.9L1868.8 1247.7L1814.5 1242.6L1765.2 1237.5L1715.9 1231.7L1683.1 1227.5L1633.8 1220.3L1600.9 1214.9L1568.1 1208.8L1535.2 1201.8L1518.8 1198L1502.4 1193.8L1477.7 1186.9L1461.3 1181.7L1453.1 1178.8L1436.7 1172.7L1420.2 1165.8L1412 1162L1403.8 1157.9L1395.6 1153.5L1387.4 1148.7L1379.2 1143.4L1368.9 1136L1360.7 1129.4L1356.6 1125.7L1348.4 1117.7L1344.3 1113.2L1340.2 1108.3L1336 1103L1331.9 1097.2L1327.8 1090.8L1323.7 1083.6L1319.6 1075.5L1315.5 1066.2L1313.5 1061L1309.4 1049.1L1305.2 1034.5L1303.2 1025.8L1301.1 1015.9L1299.1 1004.2L1297 990.2L1295 972.7L1292.9 949.7L1290.9 916.4L1289.1 865.5L1286.8 863.9L1286.8 1475.7Z" fill="#ade065"/>
<path d="M1904 1340.8L1904 1270.9L1883.7 1257.5L1830.9 1252.8L1781.6 1247.9L1732.3 1242.4L1683.1 1236.2L1633.8 1229.1L1600.9 1223.7L1568.1 1217.6L1535.2 1210.8L1518.8 1206.9L1502.4 1202.8L1477.7 1195.9L1461.3 1190.7L1453.1 1187.9L1436.7 1181.9L1420.2 1175L1412 1171.3L1403.8 1167.2L1395.6 1162.8L1387.4 1158L1379.2 1152.8L1368.9 1145.5L1360.7 1138.9L1356.6 1135.3L1348.4 1127.3L1344.3 1122.8L1340.2 1118L1336 1112.7L1331.9 1107L1327.8 1100.6L1323.7 1093.5L1319.6 1085.5L1317.6 1081L1313.5 1071.1L1311.4 1065.4L1307.3 1052.4L1305.2 1044.8L1303.2 1036.2L1301.1 1026.3L1299.1 1014.7L1297 1000.8L1295 983.5L1292.9 960.6L1290.9 927.7L1288.7 865.2L1286.8 863.9L1286.8 1475.7Z" fill="#a6df69"/>
<path d="M1904 1340.8L1904 1270.9L1898.6 1267.3L1847.3 1262.9L1798 1258.2L1748.8 1252.9L1699.5 1247L1650.2 1240.3L1617.4 1235.2L1584.5 1229.6L1551.6 1223.2L1535.2 1219.7L1518.8 1215.9L1494.2 1209.6L1469.5 1202.4L1453.1 1197.1L1444.9 1194.1L1428.4 1187.7L1420.2 1184.2L1412 1180.5L1403.8 1176.5L1395.6 1172.1L1387.4 1167.4L1377.1 1160.8L1368.9 1154.9L1360.7 1148.4L1356.6 1144.8L1348.4 1136.9L1344.3 1132.4L1340.2 1127.7L1336 1122.5L1331.9 1116.8L1327.8 1110.4L1323.7 1103.4L1319.6 1095.4L1317.6 1091L1313.5 1081.1L1311.4 1075.5L1307.3 1062.6L1305.2 1055.1L1303.2 1046.5L1301.1 1036.7L1299.1 1025.2L1297 1011.4L1295 994.2L1292.9 971.6L1290.9 938.9L1288.8 881.7L1288.5 865.1L1286.8 863.9L1286.8 1475.7Z" fill="#a2de6b"/>
<path d="M1904 1340.8L1904 1276.2L1847.3 1271.4L1798 1266.8L1748.8 1261.6L1699.5 1255.7L1650.2 1249.1L1617.4 1244L1584.5 1238.4L1568.1 1235.4L1535.2 1228.6L1518.8 1224.8L1502.4 1220.8L1477.7 1214L1461.3 1208.9L1453.1 1206.2L1436.7 1200.2L1420.2 1193.5L1412 1189.7L1403.8 1185.7L1395.6 1181.4L1387.4 1176.7L1379.2 1171.6L1373 1167.4L1364.8 1161.2L1356.6 1154.3L1352.5 1150.5L1344.3 1142.1L1340.2 1137.3L1336 1132.2L1331.9 1126.5L1327.8 1120.3L1321.7 1109.5L1317.6 1101L1315.5 1096.3L1311.4 1085.7L1309.4 1079.6L1305.2 1065.3L1303.2 1056.9L1301.1 1047.1L1299.1 1035.7L1297 1022.1L1295 1005L1292.9 982.5L1290.9 950.1L1288.8 893.4L1288.2 864.9L1286.8 863.9L1286.8 1475.7Z" fill="#9cdd6f"/>
<path d="M1904 1340.8L1904 1284.7L1847.3 1280L1798 1275.4L1748.8 1270.2L1699.5 1264.4L1650.2 1257.8L1617.4 1252.8L1584.5 1247.3L1568.1 1244.2L1535.2 1237.5L1518.8 1233.8L1502.4 1229.8L1477.7 1223L1461.3 1218L1453.1 1215.3L1436.7 1209.3L1420.2 1202.7L1412 1199L1403.8 1195L1395.6 1190.7L1387.4 1186.1L1379.2 1181L1373 1176.8L1364.8 1170.7L1356.6 1163.9L1352.5 1160.1L1344.3 1151.7L1340.2 1147L1336 1141.9L1331.9 1136.3L1327.8 1130.1L1321.7 1119.4L1317.6 1111L1315.5 1106.3L1311.4 1095.8L1309.4 1089.7L1305.2 1075.6L1303.2 1067.2L1301.1 1057.6L1299.1 1046.3L1297 1032.7L1295 1015.8L1292.9 993.5L1290.9 961.4L1288.8 905.1L1288 864.8L1286.8 863.9L1286.8 1475.7Z" fill="#98dc72"/>
<path d="M1904 1340.8L1904 1293.2L1847.3 1288.6L1798 1284L1748.8 1278.9L1699.5 1273.1L1650.2 1266.6L1617.4 1261.6L1584.5 1256.1L1568.1 1253.1L1535.2 1246.4L1518.8 1242.7L1502.4 1238.7L1477.7 1232.1L1461.3 1227.1L1453.1 1224.4L1436.7 1218.5L1420.2 1211.9L1412 1208.2L1403.8 1204.3L1395.6 1200L1387.4 1195.4L1379.2 1190.4L1373 1186.2L1364.8 1180.2L1356.6 1173.4L1352.5 1169.7L1344.3 1161.4L1340.2 1156.7L1336 1151.6L1331.9 1146.1L1327.8 1139.9L1321.7 1129.3L1317.6 1121L1315.5 1116.3L1311.4 1105.9L1309.4 1099.9L1305.2 1085.9L1303.2 1077.6L1301.1 1068L1299.1 1056.8L1297 1043.3L1295 1026.5L1292.9 1004.5L1290.9 972.6L1288.8 916.8L1287.8 864.6L1286.8 863.9L1286.8 1475.7Z" fill="#92da75"/>
<path d="M1904 1340.8L1904 1301.8L1847.3 1297.1L1798 1292.6L1748.8 1287.5L1699.5 1281.8L1650.2 1275.3L1617.4 1270.4L1584.5 1264.9L1568.1 1262L1535.2 1255.4L1518.8 1251.7L1502.4 1247.7L1477.7 1241.1L1461.3 1236.1L1453.1 1233.5L1436.7 1227.7L1420.2 1221.1L1412 1217.5L1403.8 1213.6L1395.6 1209.3L1387.4 1204.8L1379.2 1199.8L1373 1195.7L1364.8 1189.7L1356.6 1182.9L1352.5 1179.2L1344.3 1171L1340.2 1166.4L1336 1161.3L1331.9 1155.8L1327.8 1149.7L1323.7 1142.9L1319.6 1135.2L1315.5 1126.3L1313.5 1121.4L1309.4 1110L1307.3 1103.5L1305.2 1096.2L1303.2 1087.9L1301.1 1078.4L1299.1 1067.3L1297 1053.9L1295 1037.3L1292.9 1015.4L1290.9 983.8L1288.8 928.5L1287.7 864.5L1286.8 863.9L1286.8 1475.7Z" fill="#8dd879"/>
<path d="M1904 1340.8L1904 1310.3L1847.3 1305.7L1798 1301.2L1748.8 1296.2L1699.5 1290.5L1650.2 1284.1L1617.4 1279.2L1584.5 1273.8L1568.1 1270.8L1535.2 1264.3L1518.8 1260.6L1502.4 1256.7L1477.7 1250.1L1461.3 1245.2L1453.1 1242.6L1436.7 1236.8L1420.2 1230.3L1412 1226.7L1403.8 1222.8L1395.6 1218.7L1387.4 1214.1L1379.2 1209.1L1373 1205.1L1364.8 1199.1L1356.6 1192.5L1352.5 1188.8L1344.3 1180.6L1340.2 1176L1336 1171.1L1331.9 1165.6L1327.8 1159.5L1323.7 1152.8L1319.6 1145.1L1315.5 1136.4L1313.5 1131.4L1309.4 1120.2L1307.3 1113.7L1305.2 1106.4L1303.2 1098.2L1301.1 1088.8L1299.1 1077.8L1297 1064.6L1295 1048.1L1292.9 1026.4L1290.9 995L1288.8 940.2L1288.3 917.5L1287.6 864.5L1286.8 863.9L1286.8 1475.7Z" fill="#89d77b"/>
<path d="M1904 1340.8L1904 1318.8L1847.3 1314.3L1781.6 1308.2L1748.8 1304.8L1715.9 1301.1L1666.6 1295L1633.8 1290.5L1617.4 1288L1584.5 1282.6L1551.6 1276.6L1535.2 1273.2L1518.8 1269.6L1502.4 1265.7L1477.7 1259.2L1461.3 1254.3L1444.9 1248.9L1436.7 1246L1420.2 1239.5L1412 1235.9L1403.8 1232.1L1395.6 1228L1387.4 1223.5L1377.1 1217.2L1368.9 1211.6L1364.8 1208.6L1356.6 1202L1352.5 1198.4L1344.3 1190.3L1340.2 1185.7L1336 1180.8L1331.9 1175.3L1327.8 1169.4L1323.7 1162.7L1319.6 1155.1L1315.5 1146.4L1313.5 1141.5L1309.4 1130.3L1307.3 1123.9L1305.2 1116.7L1303.2 1108.6L1301.1 1099.3L1299.1 1088.3L1297 1075.2L1295 1058.9L1292.9 1037.3L1290.9 1006.3L1288.8 951.9L1287.8 897.5L1287.4 864.4L1286.8 863.9L1286.8 1475.7Z" fill="#84d67e"/>
<path d="M1904 1340.8L1904 1327.3L1847.3 1322.8L1781.6 1316.8L1732.3 1311.7L1683.1 1305.9L1633.8 1299.2L1600.9 1294.2L1568.1 1288.5L1551.6 1285.4L1535.2 1282.1L1518.8 1278.5L1494.2 1272.6L1469.5 1265.9L1453.1 1260.8L1444.9 1258L1428.4 1252L1412 1245.2L1403.8 1241.4L1395.6 1237.3L1387.4 1232.8L1379.2 1227.9L1373 1223.9L1364.8 1218.1L1356.6 1211.5L1352.5 1207.9L1344.3 1199.9L1340.2 1195.4L1336 1190.5L1331.9 1185.1L1327.8 1179.2L1323.7 1172.5L1319.6 1165L1317.6 1160.9L1313.5 1151.5L1311.4 1146.3L1307.3 1134.1L1305.2 1127L1303.2 1118.9L1301.1 1109.7L1299.1 1098.8L1297 1085.8L1295 1069.6L1292.9 1048.3L1290.9 1017.5L1288.8 963.6L1287.8 909.7L1287.3 864.3L1286.8 863.9L1286.8 1475.7Z" fill="#80d580"/>
<path d="M1904 1340.8L1904 1335.9L1847.3 1331.4L1798 1327L1748.8 1322.1L1699.5 1316.6L1650.2 1310.3L1617.4 1305.6L1584.5 1300.3L1568.1 1297.4L1535.2 1291L1518.8 1287.5L1502.4 1283.7L1477.7 1277.3L1461.3 1272.5L1453.1 1269.9L1436.7 1264.3L1428.4 1261.2L1412 1254.4L1403.8 1250.7L1395.6 1246.6L1387.4 1242.2L1379.2 1237.3L1373 1233.4L1364.8 1227.6L1360.7 1224.4L1352.5 1217.5L1348.4 1213.7L1340.2 1205.1L1336 1200.2L1331.9 1194.9L1327.8 1189L1323.7 1182.4L1319.6 1175L1317.6 1170.8L1313.5 1161.6L1311.4 1156.4L1307.3 1144.3L1305.2 1137.3L1303.2 1129.3L1301.1 1120.1L1299.1 1109.4L1297 1096.5L1295 1080.4L1292.9 1059.3L1290.9 1028.7L1288.8 975.3L1287.8 921.8L1287.2 864.2L1286.8 863.9L1286.8 1475.7Z" fill="#7bd383"/>
<path d="M1891.5 1343.5L1830.9 1338.5L1781.6 1334L1732.3 1329L1683.1 1323.3L1633.8 1316.8L1600.9 1311.8L1568.1 1306.3L1535.2 1300L1518.8 1296.4L1502.4 1292.6L1477.7 1286.3L1461.3 1281.6L1453.1 1279L1436.7 1273.4L1428.4 1270.4L1412 1263.7L1403.8 1259.9L1395.6 1255.9L1387.4 1251.5L1379.2 1246.7L1373 1242.8L1364.8 1237.1L1360.7 1233.9L1352.5 1227.1L1348.4 1223.3L1340.2 1214.7L1336 1209.9L1331.9 1204.6L1327.8 1198.8L1323.7 1192.3L1319.6 1184.9L1317.6 1180.8L1313.5 1171.7L1311.4 1166.5L1307.3 1154.5L1305.2 1147.5L1303.2 1139.6L1301.1 1130.5L1299.1 1119.9L1297 1107.1L1295 1091.2L1292.9 1070.2L1290.9 1040L1288.8 987L1288.3 965.1L1287.8 934L1287.1 864.2L1286.8 863.9L1286.8 1475.7Z" fill="#78d285"/>
<path d="M1862.8 1349.8L1814.5 1345.7L1765.2 1341L1715.9 1335.9L1666.6 1330L1617.4 1323.2L1584.5 1318L1551.6 1312.1L1518.8 1305.4L1502.4 1301.6L1485.9 1297.5L1461.3 1290.6L1444.9 1285.4L1436.7 1282.6L1420.2 1276.3L1403.8 1269.2L1395.6 1265.2L1387.4 1260.9L1379.2 1256.1L1373 1252.2L1364.8 1246.5L1356.6 1240.1L1348.4 1232.9L1344.3 1228.8L1340.2 1224.4L1336 1219.6L1331.9 1214.4L1327.8 1208.6L1323.7 1202.2L1319.6 1194.8L1315.5 1186.4L1313.5 1181.7L1309.4 1171L1307.3 1164.7L1305.2 1157.8L1303.2 1150L1301.1 1140.9L1299.1 1130.4L1297 1117.7L1295 1102L1292.9 1081.2L1290.9 1051.2L1288.8 998.7L1288.3 977L1287.4 911.3L1287 864.1L1286.8 863.9L1286.8 1475.7Z" fill="#73d088"/>
<path d="M1834.4 1356L1781.6 1351.3L1732.3 1346.3L1683.1 1340.7L1633.8 1334.3L1600.9 1329.5L1568.1 1324L1535.2 1317.8L1518.8 1314.3L1502.4 1310.6L1477.7 1304.4L1453.1 1297.2L1436.7 1291.7L1428.4 1288.7L1412 1282.1L1403.8 1278.5L1395.6 1274.5L1387.4 1270.2L1379.2 1265.5L1373 1261.6L1364.8 1256L1356.6 1249.7L1352.5 1246.2L1344.3 1238.4L1340.2 1234.1L1336 1229.4L1331.9 1224.2L1327.8 1218.4L1323.7 1212L1319.6 1204.8L1317.6 1200.8L1313.5 1191.8L1311.4 1186.7L1307.3 1175L1305.2 1168.1L1303.2 1160.3L1301.1 1151.4L1299.1 1140.9L1297 1128.4L1295 1112.7L1292.9 1092.1L1290.9 1062.4L1288.8 1010.4L1288.3 988.8L1287.4 923.8L1287 864.1L1286.8 863.9L1286.8 1475.7Z" fill="#6fce8a"/>
<path d="M1806.3 1362.1L1748.8 1356.7L1699.5 1351.4L1650.2 1345.3L1617.4 1340.7L1584.5 1335.6L1551.6 1329.9L1518.8 1323.3L1494.2 1317.6L1469.5 1311.2L1453.1 1306.3L1444.9 1303.7L1428.4 1297.9L1420.2 1294.8L1403.8 1287.8L1395.6 1283.8L1387.4 1279.6L1379.2 1274.9L1373 1271.1L1364.8 1265.5L1360.7 1262.4L1352.5 1255.8L1348.4 1252.1L1340.2 1243.8L1336 1239.1L1331.9 1233.9L1327.8 1228.3L1321.7 1218.4L1317.6 1210.7L1315.5 1206.5L1311.4 1196.8L1309.4 1191.3L1305.2 1178.3L1303.2 1170.6L1301.1 1161.8L1299.1 1151.4L1297 1139L1295 1123.5L1292.9 1103.1L1290.9 1073.6L1288.8 1022.1L1287.8 970.5L1287.4 936.2L1286.9 864L1286.8 863.9L1286.8 1475.7Z" fill="#6bcc8c"/>
<path d="M1778.5 1368.2L1732.3 1363.6L1699.5 1360.1L1650.2 1354.1L1617.4 1349.5L1584.5 1344.5L1551.6 1338.8L1518.8 1332.2L1502.4 1328.6L1485.9 1324.6L1461.3 1317.9L1444.9 1312.8L1428.4 1307.1L1420.2 1304L1403.8 1297L1395.6 1293.1L1387.4 1288.9L1377.1 1283L1368.9 1277.8L1360.7 1271.9L1356.6 1268.7L1348.4 1261.7L1344.3 1257.7L1340.2 1253.4L1336 1248.8L1331.9 1243.7L1327.8 1238.1L1323.7 1231.8L1319.6 1224.7L1315.5 1216.5L1313.5 1211.9L1309.4 1201.4L1307.3 1195.4L1305.2 1188.6L1303.2 1181L1301.1 1172.2L1299.1 1162L1297 1149.6L1295 1134.3L1292.9 1114.1L1290.9 1084.9L1288.8 1033.8L1287.8 982.7L1286.8 863.9L1286.8 1475.7Z" fill="#67ca8e"/>
<path d="M1751.1 1374.2L1699.5 1368.7L1666.6 1364.9L1617.4 1358.3L1584.5 1353.3L1551.6 1347.7L1518.8 1341.2L1494.2 1335.6L1469.5 1329.3L1453.1 1324.5L1444.9 1321.9L1428.4 1316.3L1420.2 1313.2L1403.8 1306.3L1395.6 1302.4L1387.4 1298.3L1379.2 1293.7L1373 1289.9L1364.8 1284.4L1360.7 1281.5L1352.5 1274.9L1348.4 1271.3L1340.2 1263.1L1336 1258.5L1331.9 1253.5L1327.8 1247.9L1323.7 1241.7L1319.6 1234.6L1317.6 1230.7L1313.5 1222L1311.4 1217L1307.3 1205.6L1305.2 1198.9L1303.2 1191.3L1301.1 1182.6L1299.1 1172.5L1297 1160.3L1295 1145L1292.9 1125L1290.9 1096.1L1288.8 1045.5L1287.8 994.9L1287.4 961.2L1286.8 863.9L1286.8 1475.7Z" fill="#64c990"/>
<path d="M1724.1 1380.1L1683.1 1375.6L1633.8 1369.4L1600.9 1364.7L1568.1 1359.5L1535.2 1353.5L1518.8 1350.1L1502.4 1346.6L1477.7 1340.6L1461.3 1336.1L1444.9 1331.1L1436.7 1328.4L1420.2 1322.4L1403.8 1315.6L1395.6 1311.8L1387.4 1307.6L1379.2 1303.1L1373 1299.3L1364.8 1293.9L1356.6 1287.8L1348.4 1280.9L1344.3 1277L1340.2 1272.8L1336 1268.2L1331.9 1263.2L1327.8 1257.7L1321.7 1248.1L1317.6 1240.7L1315.5 1236.5L1311.4 1227.1L1309.4 1221.7L1305.2 1209.2L1303.2 1201.7L1301.1 1193.1L1299.1 1183L1297 1170.9L1295 1155.8L1292.9 1136L1290.9 1107.3L1288.8 1057.2L1287.8 1007L1287.4 973.7L1286.8 863.9L1286.8 1475.7Z" fill="#60c792"/>
<path d="M1697.5 1385.9L1650.2 1380.3L1617.4 1375.9L1584.5 1371L1551.6 1365.5L1518.8 1359.1L1502.4 1355.5L1477.7 1349.6L1453.1 1342.7L1436.7 1337.5L1428.4 1334.7L1412 1328.4L1403.8 1324.9L1395.6 1321.1L1387.4 1317L1379.2 1312.5L1373 1308.8L1364.8 1303.4L1356.6 1297.3L1352.5 1294L1344.3 1286.6L1340.2 1282.5L1336 1278L1331.9 1273L1327.8 1267.5L1323.7 1261.4L1319.6 1254.5L1317.6 1250.7L1313.5 1242.1L1311.4 1237.2L1307.3 1226L1305.2 1219.4L1303.2 1212L1301.1 1203.5L1299.1 1193.5L1297 1181.5L1295 1166.6L1292.9 1146.9L1290.9 1118.5L1288.8 1068.9L1287.8 1019.2L1287.4 986.2L1286.8 874L1286.8 1475.7Z" fill="#5dc693"/>
<path d="M1671.4 1391.6L1633.8 1386.9L1600.9 1382.3L1568.1 1377.2L1535.2 1371.3L1518.8 1368L1502.4 1364.5L1485.9 1360.7L1461.3 1354.2L1444.9 1349.3L1428.4 1343.8L1420.2 1340.8L1403.8 1334.1L1395.6 1330.4L1387.4 1326.3L1377.1 1320.7L1368.9 1315.6L1364.8 1312.9L1356.6 1306.9L1352.5 1303.6L1344.3 1296.3L1340.2 1292.2L1336 1287.7L1331.9 1282.8L1327.8 1277.3L1323.7 1271.3L1319.6 1264.4L1317.6 1260.6L1313.5 1252.1L1311.4 1247.3L1307.3 1236.2L1305.2 1229.7L1303.2 1222.4L1301.1 1213.9L1299.1 1204L1297 1192.2L1295 1177.4L1292.9 1157.9L1290.9 1129.8L1288.8 1080.6L1287.8 1031.4L1287.4 998.7L1286.8 887.6L1286.8 1475.7Z" fill="#5ac495"/>
<path d="M1645.7 1397.2L1617.4 1393.5L1584.5 1388.7L1551.6 1383.2L1518.8 1377L1494.2 1371.6L1469.5 1365.5L1453.1 1360.9L1444.9 1358.5L1428.4 1353L1412 1346.8L1403.8 1343.4L1395.6 1339.7L1387.4 1335.7L1379.2 1331.2L1368.9 1325.1L1360.7 1319.5L1356.6 1316.4L1348.4 1309.7L1344.3 1305.9L1340.2 1301.8L1336 1297.4L1331.9 1292.5L1327.8 1287.2L1321.7 1277.9L1317.6 1270.6L1315.5 1266.6L1311.4 1257.4L1309.4 1252.2L1305.2 1240L1303.2 1232.7L1301.1 1224.3L1299.1 1214.5L1297 1202.8L1295 1188.1L1292.9 1168.8L1290.9 1141L1288.8 1092.3L1288.3 1072.1L1287.4 1011.1L1286.8 901.1L1286.8 1475.7Z" fill="#58c297"/>
<path d="M1620.6 1402.7L1584.5 1397.5L1551.6 1392.1L1518.8 1385.9L1502.4 1382.5L1477.7 1376.7L1461.3 1372.4L1444.9 1367.6L1436.7 1365L1420.2 1359.2L1403.8 1352.7L1395.6 1349L1387.4 1345L1379.2 1340.6L1373 1337.1L1364.8 1331.8L1360.7 1329L1352.5 1322.7L1348.4 1319.3L1340.2 1311.5L1336 1307.1L1331.9 1302.3L1327.8 1297L1323.7 1291L1319.6 1284.3L1317.6 1280.6L1313.5 1272.2L1311.4 1267.5L1307.3 1256.6L1305.2 1250.3L1303.2 1243L1301.1 1234.8L1299.1 1225.1L1297 1213.4L1295 1198.9L1292.9 1179.8L1290.9 1152.2L1288.8 1104L1288.3 1084L1287.4 1023.6L1286.8 914.6L1286.8 1475.7Z" fill="#55c098"/>
<path d="M1596.1 1408.1L1568.1 1403.8L1535.2 1398.1L1518.8 1394.9L1502.4 1391.5L1485.9 1387.7L1461.3 1381.5L1444.9 1376.7L1428.4 1371.4L1412 1365.3L1403.8 1361.9L1395.6 1358.3L1387.4 1354.4L1379.2 1350L1373 1346.5L1364.8 1341.3L1360.7 1338.5L1352.5 1332.3L1348.4 1328.9L1340.2 1321.2L1336 1316.8L1331.9 1312.1L1327.8 1306.8L1323.7 1300.9L1319.6 1294.2L1317.6 1290.6L1313.5 1282.3L1311.4 1277.6L1307.3 1266.8L1305.2 1260.5L1303.2 1253.4L1301.1 1245.2L1299.1 1235.6L1297 1224L1295 1209.7L1292.9 1190.8L1290.9 1163.5L1288.8 1115.7L1288.3 1095.9L1287.4 1036.1L1286.8 928.2L1286.8 1475.7Z" fill="#53be99"/>
<path d="M1572.3 1413.3L1551.6 1409.9L1518.8 1403.8L1494.2 1398.7L1477.7 1394.8L1453.1 1388.3L1436.7 1383.3L1420.2 1377.7L1403.8 1371.2L1395.6 1367.6L1387.4 1363.7L1377.1 1358.3L1364.8 1350.8L1356.6 1345L1352.5 1341.9L1344.3 1334.8L1340.2 1330.9L1336 1326.5L1331.9 1321.8L1327.8 1316.6L1321.7 1307.6L1317.6 1300.5L1315.5 1296.6L1311.4 1287.7L1307.3 1277.1L1305.2 1270.8L1303.2 1263.7L1301.1 1255.6L1299.1 1246.1L1297 1234.7L1295 1220.5L1292.9 1201.7L1290.9 1174.7L1288.8 1127.4L1288.3 1107.8L1287.4 1048.6L1286.8 941.7L1286.8 1475.7Z" fill="#51bc9b"/>
<path d="M1549.1 1418.3L1518.8 1412.8L1502.4 1409.4L1477.7 1403.8L1461.3 1399.6L1444.9 1395L1428.4 1389.7L1412 1383.8L1403.8 1380.5L1395.6 1376.9L1387.4 1373L1379.2 1368.8L1368.9 1362.9L1360.7 1357.5L1356.6 1354.6L1348.4 1348.1L1340.2 1340.5L1336 1336.3L1331.9 1331.6L1327.8 1326.4L1323.7 1320.7L1319.6 1314.1L1317.6 1310.5L1313.5 1302.4L1311.4 1297.8L1307.3 1287.3L1303.2 1274.1L1301.1 1266L1299.1 1256.6L1297 1245.3L1295 1231.2L1292.9 1212.7L1290.9 1185.9L1288.8 1139.1L1288.3 1119.7L1287.4 1061.1L1286.8 955.3L1286.8 1475.7Z" fill="#4fba9c"/>
<path d="M1526.7 1423.2L1502.4 1418.4L1485.9 1414.8L1461.3 1408.7L1444.9 1404.1L1428.4 1398.9L1412 1393L1403.8 1389.8L1395.6 1386.2L1387.4 1382.4L1377.1 1377.1L1364.8 1369.7L1356.6 1364.1L1352.5 1361L1344.3 1354.1L1340.2 1350.2L1336 1346L1331.9 1341.4L1327.8 1336.2L1321.7 1327.4L1317.6 1320.5L1315.5 1316.6L1311.4 1307.9L1307.3 1297.5L1303.2 1284.4L1301.1 1276.5L1299.1 1267.1L1297 1255.9L1295 1242L1292.9 1223.6L1290.9 1197.1L1288.8 1150.8L1288.3 1131.6L1287.4 1073.5L1286.8 968.8L1286.8 1475.7Z" fill="#4eb99d"/>
<path d="M1505.1 1428L1485.9 1423.8L1461.3 1417.8L1444.9 1413.2L1428.4 1408.1L1412 1402.3L1403.8 1399L1395.6 1395.5L1387.4 1391.7L1377.1 1386.5L1364.8 1379.2L1356.6 1373.6L1348.4 1367.3L1340.2 1359.9L1336 1355.7L1331.9 1351.1L1327.8 1346.1L1323.7 1340.4L1317.6 1330.5L1313.5 1322.5L1309.4 1313.1L1307.3 1307.7L1303.2 1294.8L1301.1 1286.9L1299.1 1277.7L1297 1266.6L1295 1252.8L1292.9 1234.6L1290.9 1208.4L1288.8 1162.5L1288.3 1143.5L1287.4 1086L1286.8 982.4L1286.8 1475.7Z" fill="#4db69e"/>
<path d="M1484.4 1432.5L1469.5 1429L1453.1 1424.7L1436.7 1419.9L1420.2 1414.5L1403.8 1408.3L1395.6 1404.9L1387.4 1401.1L1379.2 1397L1368.9 1391.2L1360.7 1386L1352.5 1380.1L1344.3 1373.4L1340.2 1369.6L1336 1365.4L1331.9 1360.9L1327.8 1355.9L1321.7 1347.2L1317.6 1340.4L1315.5 1336.7L1311.4 1328.2L1307.3 1317.9L1305.2 1311.9L1303.2 1305.1L1301.1 1297.3L1299.1 1288.2L1297 1277.2L1295 1263.5L1292.9 1245.6L1290.9 1219.6L1288.8 1174.2L1287.8 1128.7L1287.1 1062.6L1286.8 995.9L1286.8 1475.7Z" fill="#4cb59f"/>
<path d="M1464.6 1436.8L1444.9 1431.5L1428.4 1426.5L1412 1420.8L1403.8 1417.6L1395.6 1414.2L1387.4 1410.4L1379.2 1406.4L1368.9 1400.7L1360.7 1395.5L1352.5 1389.7L1344.3 1383L1340.2 1379.2L1336 1375.1L1331.9 1370.7L1327.8 1365.7L1321.7 1357.1L1317.6 1350.4L1313.5 1342.7L1309.4 1333.4L1305.2 1322.2L1303.2 1315.4L1301.1 1307.7L1299.1 1298.7L1297 1287.8L1295 1274.3L1292.9 1256.5L1290.9 1230.8L1288.8 1185.9L1287.8 1140.9L1287.1 1075.4L1286.8 1009.4L1286.8 1475.7Z" fill="#4cb3a0"/>
<path d="M1445.9 1440.9L1436.7 1438.2L1420.2 1432.9L1403.8 1426.9L1395.6 1423.5L1387.4 1419.8L1379.2 1415.8L1373 1412.5L1364.8 1407.6L1360.7 1405L1352.5 1399.3L1344.3 1392.6L1336 1384.9L1331.9 1380.4L1327.8 1375.5L1323.7 1370L1319.6 1363.8L1315.5 1356.7L1311.4 1348.4L1307.3 1338.3L1303.2 1325.8L1301.1 1318.1L1299.1 1309.2L1297 1298.5L1295 1285.1L1292.9 1267.5L1290.9 1242.1L1288.8 1197.6L1287.8 1153L1287.1 1088.3L1286.8 1023L1286.8 1475.7Z" fill="#4bb1a0"/>
<path d="M1428.2 1444.8L1412 1439.2L1403.8 1436.1L1395.6 1432.8L1387.4 1429.1L1379.2 1425.2L1368.9 1419.6L1360.7 1414.5L1352.5 1408.8L1344.3 1402.3L1336 1394.6L1331.9 1390.2L1327.8 1385.3L1321.7 1376.9L1317.6 1370.4L1313.5 1362.8L1309.4 1353.7L1305.2 1342.7L1303.2 1336.1L1301.1 1328.6L1299.1 1319.7L1297 1309.1L1295 1295.9L1292.9 1278.4L1290.9 1253.3L1288.8 1209.3L1287.8 1165.2L1287.1 1101.1L1286.8 1036.5L1286.8 1475.7Z" fill="#4bafa1"/>
<path d="M1411.7 1448.4L1395.6 1442.1L1387.4 1438.5L1377.1 1433.5L1368.9 1429L1360.7 1424L1352.5 1418.4L1344.3 1411.9L1340.2 1408.3L1336 1404.3L1331.9 1400L1327.8 1395.1L1321.7 1386.8L1317.6 1380.4L1313.5 1372.8L1309.4 1363.9L1305.2 1353L1303.2 1346.5L1301.1 1339L1299.1 1330.2L1297 1319.7L1295 1306.6L1292.9 1289.4L1290.9 1264.5L1288.8 1221L1287.8 1177.4L1287.1 1114L1286.8 1050.1L1286.8 1475.7Z" fill="#4cada2"/>
<path d="M1396.4 1451.7L1387.4 1447.8L1377.1 1442.9L1368.9 1438.5L1360.7 1433.5L1352.5 1428L1348.4 1424.9L1340.2 1417.9L1336 1414L1331.9 1409.7L1327.8 1405L1323.7 1399.7L1319.6 1393.6L1315.5 1386.8L1311.4 1378.7L1309.4 1374.1L1305.2 1363.3L1303.2 1356.8L1301.1 1349.4L1299.1 1340.8L1297 1330.4L1295 1317.4L1292.9 1300.4L1290.9 1275.7L1288.8 1232.7L1287.8 1189.6L1287.1 1126.8L1286.8 1063.6L1286.8 1475.7Z" fill="#4caba2"/>
<path d="M1382.3 1454.8L1373 1450.2L1364.8 1445.6L1356.6 1440.4L1352.5 1437.5L1344.3 1431.2L1340.2 1427.6L1336 1423.7L1331.9 1419.5L1327.8 1414.8L1323.7 1409.5L1319.6 1403.6L1315.5 1396.8L1311.4 1388.8L1307.3 1379.2L1305.2 1373.5L1303.2 1367.2L1301.1 1359.8L1299.1 1351.3L1297 1341L1295 1328.2L1292.9 1311.3L1290.9 1287L1288.8 1244.4L1287.8 1201.7L1287.1 1139.7L1286.8 1077.2L1286.8 1475.7Z" fill="#4ca9a3"/>
<path d="M1369.3 1457.6L1364.8 1455L1356.6 1449.9L1348.4 1444.1L1344.3 1440.8L1336 1433.5L1331.9 1429.2L1327.8 1424.6L1323.7 1419.4L1319.6 1413.5L1315.5 1406.8L1311.4 1398.9L1309.4 1394.4L1305.2 1383.8L1303.2 1377.5L1301.1 1370.3L1299.1 1361.8L1297 1351.6L1295 1339L1292.9 1322.3L1290.9 1298.2L1288.8 1256.1L1287.8 1213.9L1287.4 1185.9L1286.8 1090.7L1286.8 1475.7Z" fill="#4da7a3"/>
<path d="M1357.7 1460.2L1352.5 1456.7L1344.3 1450.4L1336 1443.2L1331.9 1439L1327.8 1434.4L1321.7 1426.5L1317.6 1420.3L1313.5 1413.1L1311.4 1409L1307.3 1399.6L1305.2 1394.1L1303.2 1387.8L1301.1 1380.7L1299.1 1372.3L1297 1362.3L1295 1349.7L1292.9 1333.2L1290.9 1309.4L1288.8 1267.8L1287.8 1226.1L1287.4 1198.3L1286.8 1104.2L1286.8 1475.7Z" fill="#4ea5a4"/>
<path d="M1347.3 1462.4L1340.2 1456.6L1336 1452.9L1331.9 1448.8L1327.8 1444.2L1321.7 1436.4L1317.6 1430.2L1315.5 1426.8L1311.4 1419.1L1309.4 1414.7L1305.2 1404.3L1303.2 1398.2L1301.1 1391.1L1299.1 1382.8L1297 1372.9L1295 1360.5L1292.9 1344.2L1290.9 1320.6L1288.8 1279.5L1287.8 1238.2L1287.4 1210.8L1286.8 1117.8L1286.8 1475.7Z" fill="#4ea4a4"/>
<path d="M1338.1 1464.5L1331.9 1458.5L1327.8 1454.1L1321.7 1446.3L1317.6 1440.2L1315.5 1436.8L1311.4 1429.2L1309.4 1424.8L1305.2 1414.6L1303.2 1408.5L1301.1 1401.5L1299.1 1393.4L1297 1383.5L1295 1371.3L1292.9 1355.2L1290.9 1331.9L1288.8 1291.2L1287.8 1250.4L1287.4 1223.3L1286.8 1131.3L1286.8 1475.7Z" fill="#4fa1a4"/>
<path d="M1330 1466.2L1323.7 1458.9L1317.6 1450.2L1313.5 1443.2L1311.4 1439.3L1307.3 1430.2L1303.2 1418.9L1301.1 1412L1299.1 1403.9L1297 1394.2L1295 1382L1292.9 1366.1L1290.9 1343.1L1288.8 1302.9L1287.8 1262.6L1287.4 1235.8L1286.8 1144.9L1286.8 1475.7Z" fill="#4fa0a4"/>
<path d="M1323 1467.8L1317.6 1460.2L1313.5 1453.3L1311.4 1449.4L1307.3 1440.4L1303.2 1429.2L1301.1 1422.4L1299.1 1414.4L1297 1404.8L1295 1392.8L1292.9 1377.1L1290.9 1354.3L1288.8 1314.6L1288.3 1298.1L1287.4 1248.3L1286.8 1158.4L1286.8 1475.7Z" fill="#509ea4"/>
<path d="M1316.9 1469.1L1313.5 1463.4L1311.4 1459.5L1307.3 1450.6L1303.2 1439.6L1301.1 1432.8L1299.1 1424.9L1297 1415.4L1295 1403.6L1292.9 1388L1290.9 1365.6L1288.8 1326.3L1288.3 1310L1287.4 1260.8L1286.8 1172L1286.8 1475.7Z" fill="#519ba5"/>
<path d="M1311.7 1470.2L1309.4 1465.4L1305.2 1455.7L1303.2 1449.9L1301.1 1443.2L1299.1 1435.4L1297 1426L1295 1414.4L1292.9 1399L1290.9 1376.8L1288.8 1338L1287.8 1299.1L1287.1 1242.5L1286.8 1185.5L1286.8 1475.7Z" fill="#529aa5"/>
<path d="M1307.4 1471.2L1305.2 1466L1303.2 1460.2L1301.1 1453.7L1299.1 1445.9L1297 1436.7L1295 1425.1L1292.9 1409.9L1290.9 1388L1288.8 1349.7L1287.8 1311.2L1287.1 1255.4L1286.8 1199L1286.8 1475.7Z" fill="#5398a5"/>
<path d="M1303.7 1472L1301.1 1464.1L1299.1 1456.5L1297 1447.3L1295 1435.9L1292.9 1420.9L1290.9 1399.2L1288.8 1361.4L1287.8 1323.4L1287.1 1268.2L1286.8 1212.6L1286.8 1475.7Z" fill="#5396a5"/>
<path d="M1300.6 1472.6L1299.1 1467L1297 1457.9L1295 1446.7L1292.9 1431.9L1290.9 1410.5L1288.8 1373L1287.8 1335.6L1287.1 1281.1L1286.8 1226.1L1286.8 1475.7Z" fill="#5494a5"/>
<path d="M1298.1 1473.2L1297 1468.6L1295 1457.5L1292.9 1442.8L1290.9 1421.7L1288.8 1384.7L1287.8 1347.7L1287.4 1323.2L1286.8 1239.7L1286.8 1475.7Z" fill="#5592a5"/>
<path d="M1296 1473.7L1295 1468.2L1292.9 1453.8L1290.9 1432.9L1288.8 1396.4L1287.8 1359.9L1287.4 1335.6L1286.8 1253.2L1286.8 1475.7Z" fill="#5690a5"/>
<path d="M1294.3 1474L1292.9 1464.7L1290.9 1444.1L1288.8 1408.1L1287.8 1372.1L1287.4 1348.1L1286.8 1266.8L1286.8 1475.7Z" fill="#568fa5"/>
<path d="M1292.8 1474.4L1290.9 1455.4L1288.8 1419.8L1288.3 1405.1L1287.4 1360.6L1286.8 1280.3L1286.8 1475.7Z" fill="#578ca5"/>
<path d="M1291.7 1474.6L1290.9 1466.6L1288.8 1431.5L1288.3 1417L1287.4 1373.1L1286.8 1293.8L1286.8 1475.7Z" fill="#588aa5"/>
<path d="M1290.7 1474.8L1288.8 1443.2L1287.8 1408.6L1287.1 1358.2L1286.8 1307.4L1286.8 1475.7Z" fill="#5988a5"/>
<path d="M1290 1475L1288.8 1454.9L1287.8 1420.7L1287.1 1371L1286.8 1320.9L1286.8 1475.7Z" fill="#5a86a4"/>
<path d="M1289.3 1475.1L1288.8 1466.6L1287.8 1432.9L1287.1 1383.9L1286.8 1334.5L1286.8 1475.7Z" fill="#5b84a4"/>
<path d="M1288.7 1475.2L1287.8 1445.1L1287.4 1423L1286.8 1348L1286.8 1475.7Z" fill="#5c82a4"/>
<path d="M1288.3 1475.3L1287.4 1435.5L1286.8 1361.6L1286.8 1475.7Z" fill="#5c80a4"/>
<path d="M1288 1475.4L1287.1 1422.4L1286.8 1375.1L1286.8 1475.7Z" fill="#5e7ea4"/>
<path d="M1287.7 1475.5L1287.1 1435.3L1286.8 1388.6L1286.8 1475.7Z" fill="#5f7ca3"/>
<path d="M1287.4 1475.5L1287.1 1448.2L1286.8 1402.2L1286.8 1475.7Z" fill="#5f7aa3"/>
<path d="M1287.3 1475.6L1287.1 1461L1286.8 1415.7L1286.8 1475.7Z" fill="#6177a3"/>
<path d="M1287.1 1475.6L1286.9 1451.5L1286.8 1429.3L1286.8 1475.7Z" fill="#6176a2"/>
<path d="M1287 1475.6L1286.9 1464.7L1286.8 1442.8L1286.8 1475.7Z" fill="#6373a2"/>
<path d="M1286.9 1475.6L1286.8 1456.4L1286.8 1475.7Z" fill="#6371a2"/>
</g>
<path d="M1296.9 871.2L1298.3 883.8L1300.3 899L1302.4 911.6L1304.4 922.4L1306.5 931.8L1308.5 940.1L1310.6 947.6L1314.7 960.4L1318.8 971.3L1320.9 976.1L1325 984.9L1329.1 992.6L1333.2 999.6L1337.3 1005.8L1341.4 1011.6L1345.5 1016.8L1349.6 1021.7L1353.7 1026.2L1357.8 1030.4L1366 1038L1370.1 1041.5L1378.3 1048L1388.6 1055.2L1396.8 1060.4L1405 1065.2L1413.3 1069.6L1421.5 1073.7L1429.7 1077.6L1437.9 1081.2L1454.3 1087.8L1470.7 1093.7L1487.2 1099.1L1503.6 1104L1520 1108.5L1536.5 1112.7L1552.9 1116.5L1569.3 1120.2L1602.2 1126.7L1618.6 1129.8L1651.4 1135.3L1684.3 1140.4L1709.5 1143.9M1292.6 868.3L1294.2 894.9L1296.2 918.8L1298.3 937L1300.3 951.6L1302.4 963.7L1304.4 974.1L1306.5 983.2L1308.5 991.2L1312.6 1004.8L1314.7 1010.7L1318.8 1021.2L1322.9 1030.2L1325 1034.3L1329.1 1041.7L1333.2 1048.4L1337.3 1054.4L1341.4 1059.9L1345.5 1065L1349.6 1069.7L1353.7 1074L1357.8 1078L1366 1085.4L1370.1 1088.8L1378.3 1095L1388.6 1101.9L1396.8 1106.9L1405 1111.5L1413.3 1115.8L1421.5 1119.8L1429.7 1123.5L1437.9 1127L1454.3 1133.3L1470.7 1139L1479 1141.7L1495.4 1146.6L1520 1153.2L1536.5 1157.3L1552.9 1161L1569.3 1164.5L1585.7 1167.7L1618.6 1173.7L1651.4 1179.1L1684.3 1183.9L1717.1 1188.3L1750 1192.4L1789.7 1196.9M1290.4 866.8L1292.1 916.4L1294.2 949.7L1296.2 972.7L1298.3 990.2L1300.3 1004.2L1302.4 1015.9L1304.4 1025.8L1306.5 1034.5L1308.5 1042.2L1310.6 1049.1L1312.6 1055.3L1316.7 1066.2L1318.8 1071.1L1322.9 1079.7L1325 1083.6L1329.1 1090.8L1333.2 1097.2L1337.3 1103L1341.4 1108.3L1345.5 1113.2L1349.6 1117.7L1357.8 1125.7L1361.9 1129.4L1370.1 1136L1380.4 1143.4L1388.6 1148.7L1396.8 1153.5L1405 1157.9L1413.3 1162L1421.5 1165.8L1429.7 1169.4L1437.9 1172.7L1454.3 1178.8L1462.5 1181.7L1479 1186.9L1487.2 1189.3L1503.6 1193.8L1520 1198L1536.5 1201.8L1552.9 1205.4L1569.3 1208.8L1585.7 1211.9L1618.6 1217.7L1651.4 1222.8L1684.3 1227.5L1717.1 1231.7L1766.4 1237.5L1815.7 1242.6L1866 1247.3M1289.1 866L1290.1 916.8L1292.1 972.6L1294.2 1004.5L1296.2 1026.5L1298.3 1043.3L1300.3 1056.8L1302.4 1068L1304.4 1077.6L1306.5 1085.9L1308.5 1093.3L1312.6 1105.9L1314.7 1111.3L1318.8 1121L1320.9 1125.3L1325 1133L1329.1 1139.9L1333.2 1146.1L1337.3 1151.6L1341.4 1156.7L1345.5 1161.4L1349.6 1165.7L1353.7 1169.7L1361.9 1176.9L1366 1180.2L1374.2 1186.2L1380.4 1190.4L1388.6 1195.4L1396.8 1200L1405 1204.3L1413.3 1208.2L1421.5 1211.9L1429.7 1215.3L1446.1 1221.5L1454.3 1224.4L1470.7 1229.6L1479 1232.1L1495.4 1236.6L1520 1242.7L1536.5 1246.4L1552.9 1249.9L1585.7 1256.1L1618.6 1261.6L1651.4 1266.6L1667.9 1268.8L1700.7 1273.1L1750 1278.9L1799.3 1284L1848.6 1288.6L1903.7 1293.2M1288.5 865.6L1289 921.8L1289.5 953.2L1290.1 975.3L1292.1 1028.7L1294.2 1059.3L1296.2 1080.4L1298.3 1096.5L1300.3 1109.4L1302.4 1120.1L1304.4 1129.3L1306.5 1137.3L1308.5 1144.3L1312.6 1156.4L1314.7 1161.6L1318.8 1170.8L1320.9 1175L1325 1182.4L1329.1 1189L1333.2 1194.9L1337.3 1200.2L1341.4 1205.1L1345.5 1209.5L1349.6 1213.7L1353.7 1217.5L1357.8 1221.1L1366 1227.6L1374.2 1233.4L1380.4 1237.3L1388.6 1242.2L1396.8 1246.6L1405 1250.7L1413.3 1254.4L1421.5 1257.9L1437.9 1264.3L1454.3 1269.9L1462.5 1272.5L1479 1277.3L1503.6 1283.7L1520 1287.5L1536.5 1291L1552.9 1294.3L1569.3 1297.4L1602.2 1303L1635 1308L1651.4 1310.3L1684.3 1314.6L1733.6 1320.3L1782.9 1325.4L1815.7 1328.5L1848.6 1331.4L1903.7 1335.8M1288.1 865.4L1288.6 948.7L1289 982.7L1290.1 1033.8L1292.1 1084.9L1294.2 1114.1L1296.2 1134.3L1298.3 1149.6L1300.3 1162L1302.4 1172.2L1304.4 1181L1306.5 1188.6L1308.5 1195.4L1310.6 1201.4L1314.7 1211.9L1316.7 1216.5L1320.9 1224.7L1325 1231.8L1329.1 1238.1L1333.2 1243.7L1337.3 1248.8L1341.4 1253.4L1345.5 1257.7L1349.6 1261.7L1357.8 1268.7L1361.9 1271.9L1370.1 1277.8L1378.3 1283L1388.6 1288.9L1396.8 1293.1L1405 1297L1413.3 1300.6L1421.5 1304L1429.7 1307.1L1446.1 1312.8L1462.5 1317.9L1470.7 1320.2L1487.2 1324.6L1503.6 1328.6L1520 1332.2L1536.5 1335.6L1552.9 1338.8L1569.3 1341.7L1602.2 1347.1L1635 1351.8L1651.4 1354.1L1684.3 1358.1L1733.6 1363.6L1773.3 1367.6M1288 901.1L1288.6 1011.1L1289.5 1072.1L1290.1 1092.3L1292.1 1141L1294.2 1168.8L1296.2 1188.1L1298.3 1202.8L1300.3 1214.5L1302.4 1224.3L1304.4 1232.7L1306.5 1240L1308.5 1246.4L1310.6 1252.2L1312.6 1257.4L1316.7 1266.6L1318.8 1270.6L1322.9 1277.9L1325 1281.2L1329.1 1287.2L1333.2 1292.5L1337.3 1297.4L1341.4 1301.8L1345.5 1305.9L1349.6 1309.7L1357.8 1316.4L1361.9 1319.5L1370.1 1325.1L1380.4 1331.2L1388.6 1335.7L1396.8 1339.7L1405 1343.4L1413.3 1346.8L1429.7 1353L1446.1 1358.5L1454.3 1360.9L1470.7 1365.5L1495.4 1371.6L1520 1377L1536.5 1380.2L1569.3 1386L1602.2 1391.1L1641.8 1396.6M1288 968.8L1288.6 1073.5L1289.5 1131.6L1290.1 1150.8L1292.1 1197.1L1294.2 1223.6L1296.2 1242L1298.3 1255.9L1300.3 1267.1L1302.4 1276.5L1304.4 1284.4L1306.5 1291.3L1308.5 1297.5L1312.6 1307.9L1316.7 1316.6L1318.8 1320.5L1322.9 1327.4L1325 1330.5L1329.1 1336.2L1333.2 1341.4L1337.3 1346L1341.4 1350.2L1345.5 1354.1L1353.7 1361L1357.8 1364.1L1366 1369.7L1370.1 1372.3L1378.3 1377.1L1388.6 1382.4L1396.8 1386.2L1405 1389.8L1413.3 1393L1429.7 1398.9L1446.1 1404.1L1462.5 1408.7L1479 1412.9L1503.6 1418.4L1524 1422.5M1288 1036.5L1288.3 1101.1L1289 1165.2L1290.1 1209.3L1292.1 1253.3L1294.2 1278.4L1296.2 1295.9L1298.3 1309.1L1300.3 1319.7L1302.4 1328.6L1304.4 1336.1L1306.5 1342.7L1308.5 1348.5L1310.6 1353.7L1314.7 1362.8L1318.8 1370.4L1322.9 1376.9L1325 1379.9L1329.1 1385.3L1333.2 1390.2L1337.3 1394.6L1341.4 1398.6L1345.5 1402.3L1353.7 1408.8L1361.9 1414.5L1370.1 1419.6L1380.4 1425.2L1388.6 1429.1L1396.8 1432.8L1405 1436.1L1413.3 1439.2L1426.8 1443.9M1288 1104.2L1288.6 1198.3L1289 1226.1L1290.1 1267.8L1292.1 1309.4L1294.2 1333.2L1296.2 1349.7L1298.3 1362.3L1300.3 1372.3L1302.4 1380.7L1304.4 1387.8L1306.5 1394.1L1308.5 1399.6L1312.6 1409L1314.7 1413.1L1318.8 1420.3L1322.9 1426.5L1329.1 1434.4L1333.2 1439L1337.3 1443.2L1341.4 1447L1345.5 1450.4L1349.6 1453.7L1357.4 1459.2M1288 1172L1288.6 1260.8L1289.5 1310L1290.1 1326.3L1292.1 1365.6L1294.2 1388L1296.2 1403.6L1298.3 1415.4L1300.3 1424.9L1302.4 1432.8L1304.4 1439.6L1306.5 1445.4L1308.5 1450.6L1312.6 1459.5L1314.7 1463.4L1317.4 1468M1288 1239.7L1288.6 1323.2L1289 1347.7L1290.1 1384.7L1292.1 1421.7L1294.2 1442.8L1296.2 1457.5L1298.3 1468.6L1299.1 1472M1288 1307.4L1288.3 1358.2L1289 1408.6L1290.1 1443.2L1291.9 1473.6M1288 1375.1L1288.3 1422.4L1288.6 1448L1289.1 1474.2M1288 1442.8L1288.2 1474.4" fill="none" stroke="#000" stroke-width="2" stroke-linejoin="round" stroke-linecap="round"/>
<path d="M1257.3 878.3V1505.7H1938.9M1288 1505.7v7.9M1442 1505.7v7.9M1596 1505.7v7.9M1750 1505.7v7.9M1904 1505.7v7.9M1257.3 932.6h-7.9M1257.3 1068.3h-7.9M1257.3 1204h-7.9M1257.3 1339.7h-7.9M1257.3 1475.4h-7.9" fill="none" stroke="#000" stroke-width="2.1" stroke-linecap="butt" stroke-linejoin="miter"/>
<text transform="translate(1288,1542.3)" font-size="29.4" text-anchor="middle">0</text>
<text transform="translate(1442,1542.3)" font-size="29.4" text-anchor="middle">500</text>
<text transform="translate(1593.7,1542.3) scale(0.96,1)" font-size="29.4" text-anchor="middle">1,000</text>
<text transform="translate(1748.4,1542.3) scale(0.96,1)" font-size="29.4" text-anchor="middle">1,500</text>
<text transform="translate(1900,1542.3) scale(0.96,1)" font-size="29.4" text-anchor="middle">2,000</text>
<text transform="translate(1243.7,942.2)" font-size="29.4" text-anchor="end">0</text>
<text transform="translate(1243.7,1077.9)" font-size="29.4" text-anchor="end">10</text>
<text transform="translate(1243.7,1213.6)" font-size="29.4" text-anchor="end">20</text>
<text transform="translate(1243.7,1349.3)" font-size="29.4" text-anchor="end">30</text>
<text transform="translate(1243.7,1485)" font-size="29.4" text-anchor="end">40</text>
<text transform="translate(1605.2,1583.3)" font-size="29.2" text-anchor="middle">Precipitation of warmest quarter (mm)</text>
<text transform="translate(1179.2,1188.6) rotate(-90)" font-size="29.2" text-anchor="middle">Mean temperature of warmest quarter (°C)</text>
<text transform="translate(1159,835.5) scale(1.1,1)" font-size="31" font-weight="bold" stroke="#000" stroke-width="0.7" stroke-linejoin="round">d</text>
<text transform="translate(1257.6,837.3)" font-size="29.2"><tspan font-style="italic">R</tspan><tspan font-size="19.5" dy="-9.7">2</tspan><tspan dy="9.7"> = 0.44</tspan></text>
<rect x="2033" y="860.6" width="50.7" height="618.3" fill="url(#vg)"/>
<path d="M2033 1478.1h10.4M2083.7 1478.1h-10.4M2033 1416.47h10.4M2083.7 1416.47h-10.4M2033 1354.84h10.4M2083.7 1354.84h-10.4M2033 1293.21h10.4M2083.7 1293.21h-10.4M2033 1231.58h10.4M2083.7 1231.58h-10.4M2033 1169.95h10.4M2083.7 1169.95h-10.4M2033 1108.32h10.4M2083.7 1108.32h-10.4M2033 1046.69h10.4M2083.7 1046.69h-10.4M2033 985.06h10.4M2083.7 985.06h-10.4M2033 923.43h10.4M2083.7 923.43h-10.4M2033 861.8h10.4M2083.7 861.8h-10.4" stroke="#fff" stroke-width="2" fill="none"/>
<text transform="translate(2093.5,1488.3)" font-size="29.4">0</text>
<text transform="translate(2093.5,1426.67)" font-size="29.4">10</text>
<text transform="translate(2093.5,1365.04)" font-size="29.4">20</text>
<text transform="translate(2093.5,1303.41)" font-size="29.4">30</text>
<text transform="translate(2093.5,1241.78)" font-size="29.4">40</text>
<text transform="translate(2093.5,1180.15)" font-size="29.4">50</text>
<text transform="translate(2093.5,1118.52)" font-size="29.4">60</text>
<text transform="translate(2093.5,1056.89)" font-size="29.4">70</text>
<text transform="translate(2093.5,995.26)" font-size="29.4">80</text>
<text transform="translate(2093.5,933.63)" font-size="29.4">90</text>
<text transform="translate(2093.5,872)" font-size="29.4">100</text>
<text transform="translate(2007.7,1179.1) rotate(-90)" font-size="29.2" text-anchor="middle">Proportion of annuals among herbs (%)</text>
</g>
</svg>
</body>
</html>
